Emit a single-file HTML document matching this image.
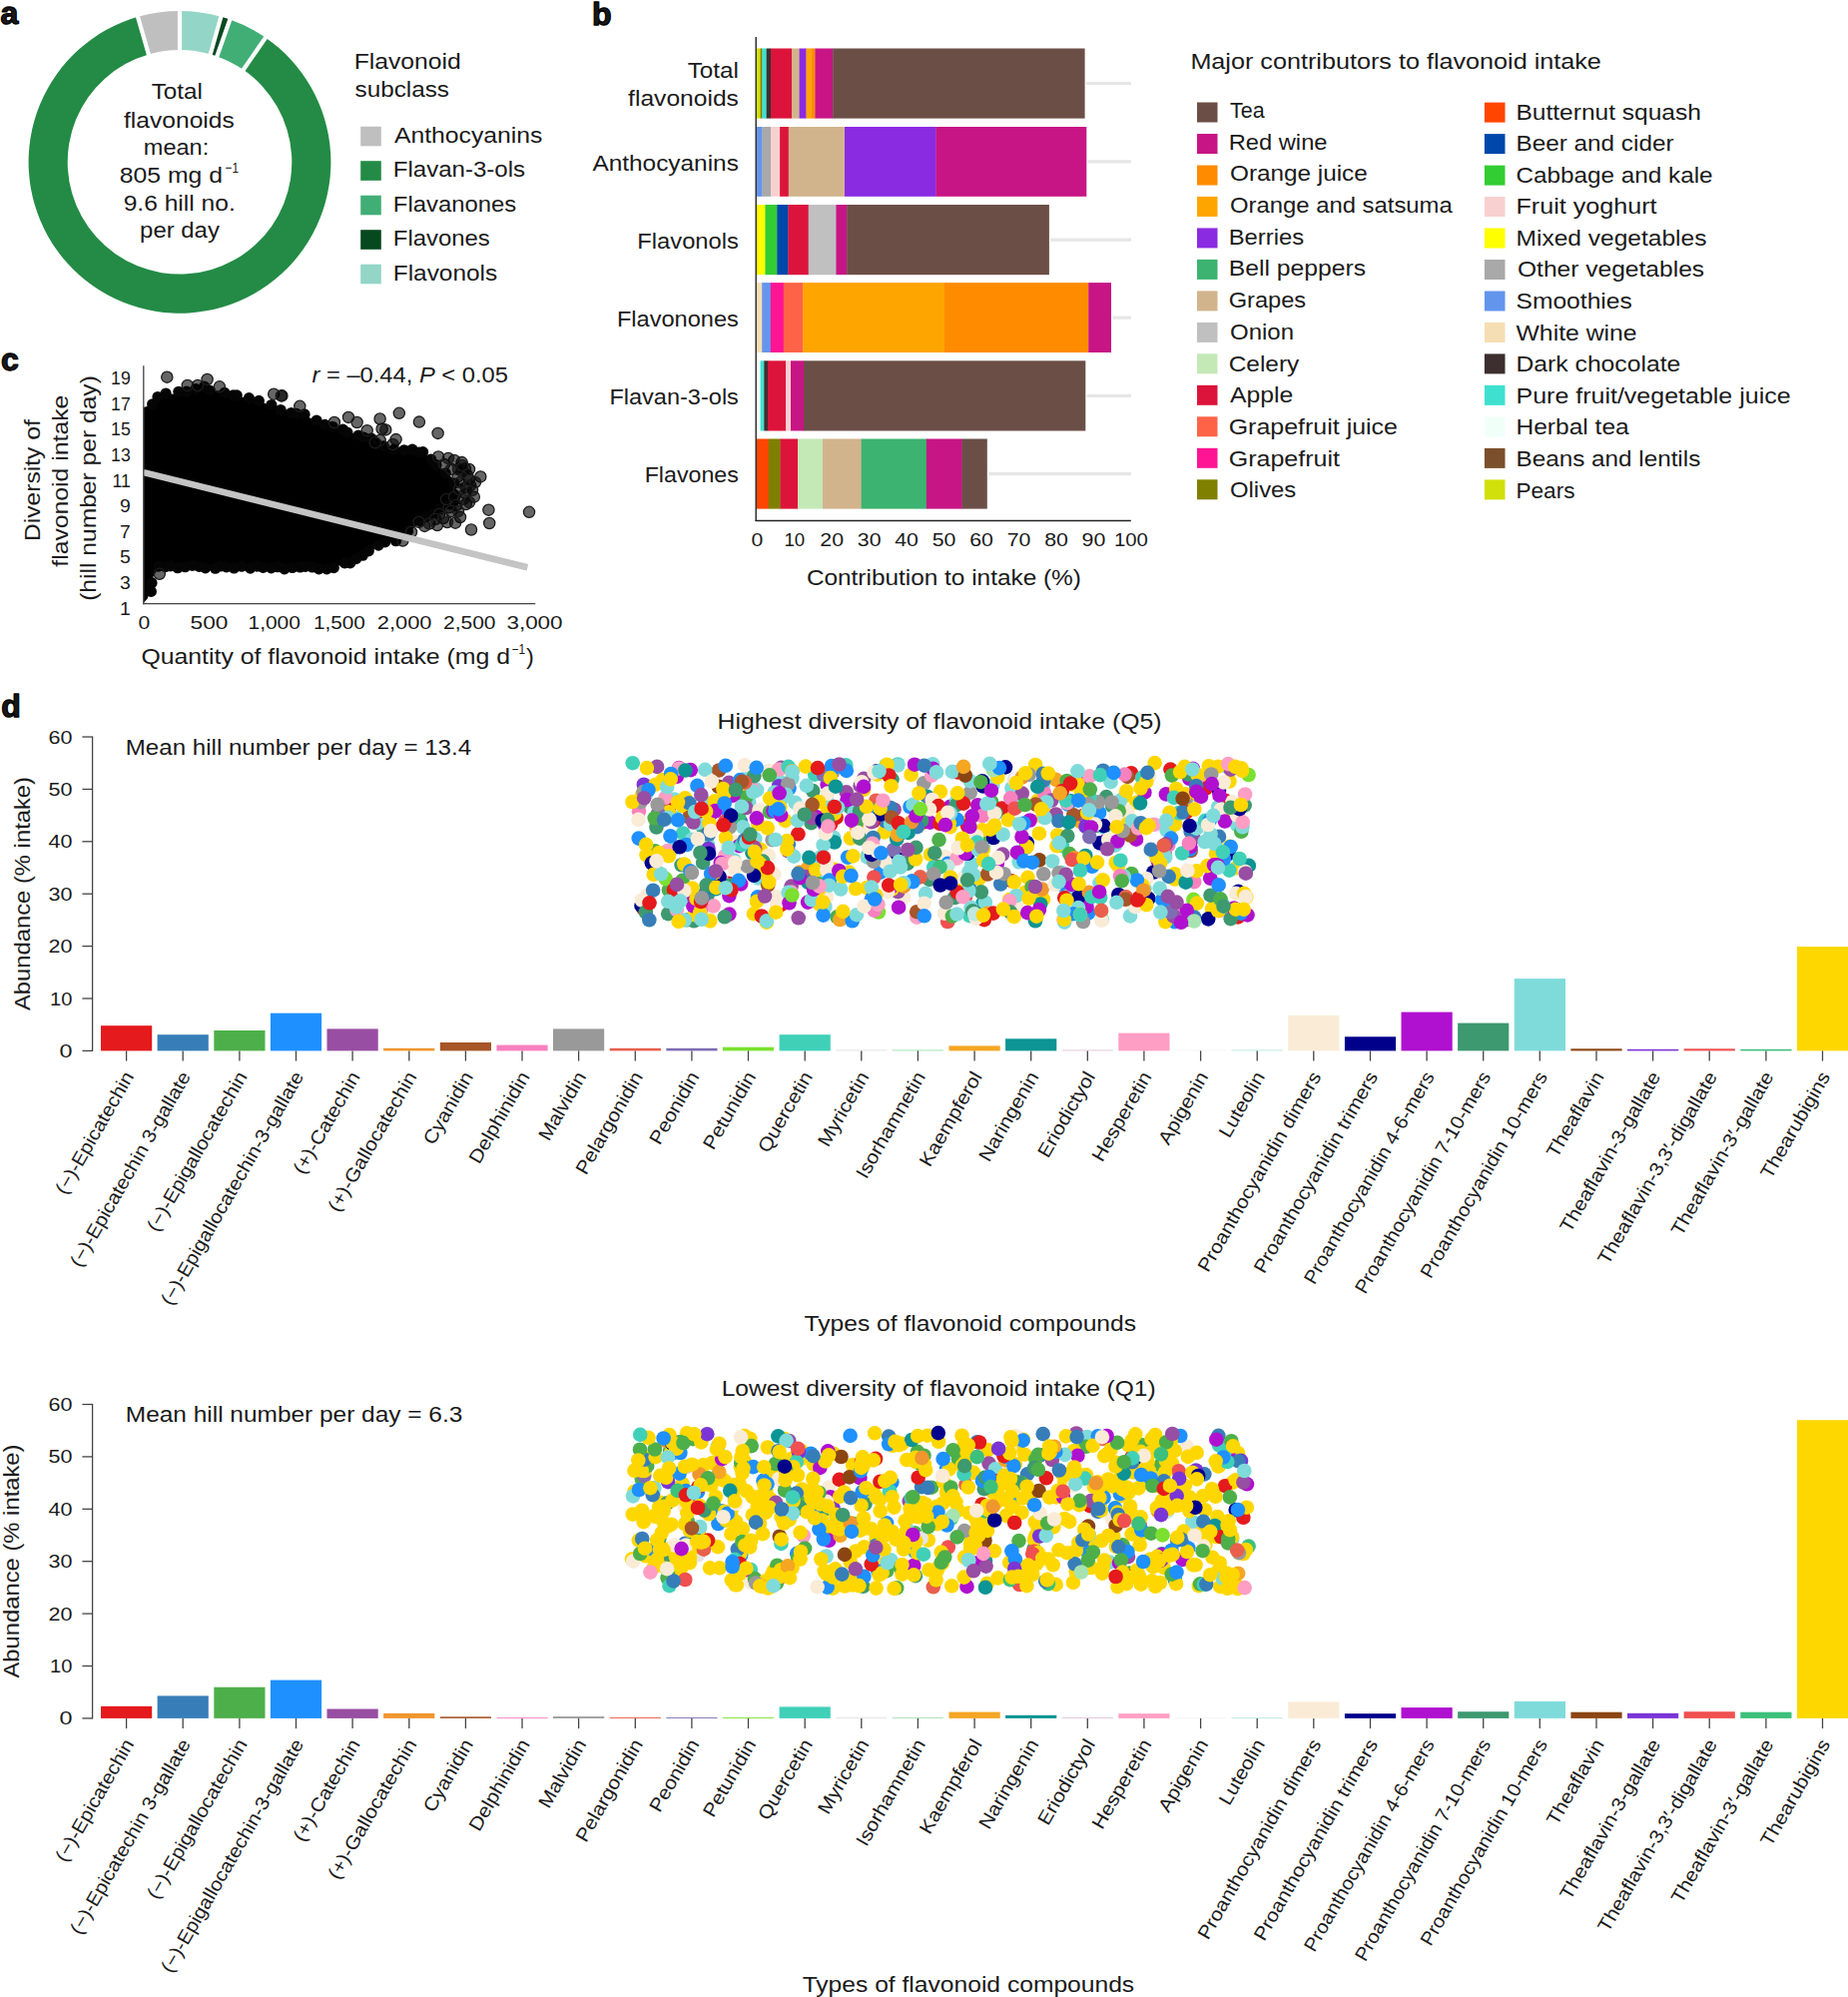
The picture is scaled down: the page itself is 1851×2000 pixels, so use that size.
<!DOCTYPE html>
<html lang="en"><head><meta charset="utf-8"><title>Flavonoid intake figure</title>
<style>
html,body{margin:0;padding:0;background:#fff}
body{width:1851px;height:2000px;overflow:hidden}
svg{display:block}
text{font-family:"Liberation Sans",Arial,Helvetica,sans-serif;fill:#1a1a1a}
.dot{stroke:none}
</style></head><body>
<svg width="1851" height="2000" viewBox="0 0 1851 2000">
<rect x="0" y="0" width="1851" height="2000" fill="#ffffff"/>
<g id="panel-a">
<text x="0.6" y="24.2" font-size="32" font-weight="bold" fill="#000" stroke="#000" stroke-width="1.3" stroke-linejoin="round">a</text>
<path d="M265.97 37.68A151.4 151.4 0 1 1 138.01 16.84L148.86 54.40A112.3 112.3 0 1 0 243.77 69.86Z" fill="#238b45"/>
<path d="M138.01 16.84A151.4 151.4 0 0 1 180.00 10.90L180.00 50.00A112.3 112.3 0 0 0 148.86 54.40Z" fill="#bfbfbf"/>
<path d="M180.00 10.90A151.4 151.4 0 0 1 221.35 16.66L210.67 54.27A112.3 112.3 0 0 0 180.00 50.00Z" fill="#93d5c6"/>
<path d="M221.35 16.66A151.4 151.4 0 0 1 230.29 19.50L217.30 56.38A112.3 112.3 0 0 0 210.67 54.27Z" fill="#07491f"/>
<path d="M230.29 19.50A151.4 151.4 0 0 1 265.97 37.68L243.77 69.86A112.3 112.3 0 0 0 217.30 56.38Z" fill="#41ae76"/>
<line x1="149.7" y1="57.3" x2="137.2" y2="14.0" stroke="#fff" stroke-width="4.2"/>
<line x1="180.0" y1="53.0" x2="180.0" y2="7.9" stroke="#fff" stroke-width="4.2"/>
<line x1="209.9" y1="57.2" x2="222.2" y2="13.8" stroke="#fff" stroke-width="4.2"/>
<line x1="216.3" y1="59.2" x2="231.3" y2="16.7" stroke="#fff" stroke-width="4.2"/>
<line x1="242.1" y1="72.3" x2="267.7" y2="35.2" stroke="#fff" stroke-width="4.2"/>
<text x="177.3" y="99.4" font-size="22.2" text-anchor="middle" textLength="51.2" lengthAdjust="spacingAndGlyphs">Total</text>
<text x="179.4" y="127.7" font-size="22.2" text-anchor="middle" textLength="110.8" lengthAdjust="spacingAndGlyphs">flavonoids</text>
<text x="176.5" y="154.8" font-size="22.2" text-anchor="middle" textLength="65.4" lengthAdjust="spacingAndGlyphs">mean:</text>
<text x="119.8" y="183.2" font-size="22.2" textLength="103.2" lengthAdjust="spacingAndGlyphs">805 mg d</text>
<text x="225.6" y="172.9" font-size="15" textLength="13.4" lengthAdjust="spacingAndGlyphs">−1</text>
<text x="179.7" y="211.1" font-size="22.2" text-anchor="middle" textLength="112.1" lengthAdjust="spacingAndGlyphs">9.6 hill no.</text>
<text x="180.0" y="237.8" font-size="22.2" text-anchor="middle" textLength="79.8" lengthAdjust="spacingAndGlyphs">per day</text>
<text x="354.7" y="68.8" font-size="22.2" textLength="107.0" lengthAdjust="spacingAndGlyphs">Flavonoid</text>
<text x="355.6" y="97.0" font-size="22.2" textLength="94.4" lengthAdjust="spacingAndGlyphs">subclass</text>
<rect x="361.2" y="126.7" width="20.6" height="19.6" fill="#bfbfbf"/>
<text x="395.0" y="142.9" font-size="22.2" textLength="148.3" lengthAdjust="spacingAndGlyphs">Anthocyanins</text>
<rect x="361.2" y="161.2" width="20.6" height="19.6" fill="#238b45"/>
<text x="393.8" y="177.4" font-size="22.2" textLength="132.3" lengthAdjust="spacingAndGlyphs">Flavan-3-ols</text>
<rect x="361.2" y="195.7" width="20.6" height="19.6" fill="#41ae76"/>
<text x="393.8" y="211.9" font-size="22.2" textLength="123.4" lengthAdjust="spacingAndGlyphs">Flavanones</text>
<rect x="361.2" y="230.2" width="20.6" height="19.6" fill="#07491f"/>
<text x="393.8" y="246.4" font-size="22.2" textLength="97.0" lengthAdjust="spacingAndGlyphs">Flavones</text>
<rect x="361.2" y="264.7" width="20.6" height="19.6" fill="#93d5c6"/>
<text x="393.8" y="280.9" font-size="22.2" textLength="104.4" lengthAdjust="spacingAndGlyphs">Flavonols</text>
</g>
<g id="panel-b">
<text x="593.0" y="24.8" font-size="32" font-weight="bold" fill="#000" stroke="#000" stroke-width="1.3" stroke-linejoin="round">b</text>
<line x1="1087.8" y1="83.5" x2="1132.9" y2="83.5" stroke="#e6e6e6" stroke-width="3.2"/>
<rect x="757.7" y="48.5" width="4.2" height="70.1" fill="#d1e00a"/>
<rect x="761.6" y="48.5" width="2.1" height="70.1" fill="#808000"/>
<rect x="763.4" y="48.5" width="4.6" height="70.1" fill="#40e0d0"/>
<rect x="767.7" y="48.5" width="4.6" height="70.1" fill="#3d2f2f"/>
<rect x="772.0" y="48.5" width="21.3" height="70.1" fill="#dc143c"/>
<rect x="793.0" y="48.5" width="7.9" height="70.1" fill="#d2b48c"/>
<rect x="800.6" y="48.5" width="7.2" height="70.1" fill="#8a2be2"/>
<rect x="807.5" y="48.5" width="5.3" height="70.1" fill="#ffa500"/>
<rect x="812.5" y="48.5" width="4.2" height="70.1" fill="#ff8c00"/>
<rect x="816.4" y="48.5" width="18.1" height="70.1" fill="#c71585"/>
<rect x="834.2" y="48.5" width="252.4" height="70.1" fill="#6b4f47"/>
<line x1="1089.5" y1="161.9" x2="1132.9" y2="161.9" stroke="#e6e6e6" stroke-width="3.2"/>
<rect x="757.7" y="127.0" width="6.0" height="69.8" fill="#6495ed"/>
<rect x="763.4" y="127.0" width="8.9" height="69.8" fill="#a9a9a9"/>
<rect x="772.0" y="127.0" width="9.4" height="69.8" fill="#f9d0d0"/>
<rect x="781.1" y="127.0" width="9.0" height="69.8" fill="#dc143c"/>
<rect x="789.8" y="127.0" width="56.5" height="69.8" fill="#d2b48c"/>
<rect x="846.0" y="127.0" width="91.7" height="69.8" fill="#8a2be2"/>
<rect x="937.4" y="127.0" width="150.9" height="69.8" fill="#c71585"/>
<line x1="1052.1" y1="240.1" x2="1132.9" y2="240.1" stroke="#e6e6e6" stroke-width="3.2"/>
<rect x="757.7" y="205.0" width="9.0" height="70.2" fill="#ffff00"/>
<rect x="766.4" y="205.0" width="12.2" height="70.2" fill="#32cd32"/>
<rect x="778.3" y="205.0" width="11.4" height="70.2" fill="#0047ab"/>
<rect x="789.4" y="205.0" width="20.6" height="70.2" fill="#dc143c"/>
<rect x="809.7" y="205.0" width="28.0" height="70.2" fill="#c0c0c0"/>
<rect x="837.4" y="205.0" width="11.1" height="70.2" fill="#c71585"/>
<rect x="848.2" y="205.0" width="202.7" height="70.2" fill="#6b4f47"/>
<line x1="1114.2" y1="318.1" x2="1132.9" y2="318.1" stroke="#e6e6e6" stroke-width="3.2"/>
<rect x="757.7" y="283.1" width="5.8" height="69.9" fill="#f5deb3"/>
<rect x="763.2" y="283.1" width="8.9" height="69.9" fill="#6495ed"/>
<rect x="771.8" y="283.1" width="13.3" height="69.9" fill="#ff1493"/>
<rect x="784.8" y="283.1" width="19.8" height="69.9" fill="#ff6347"/>
<rect x="804.3" y="283.1" width="142.0" height="69.9" fill="#ffa500"/>
<rect x="946.0" y="283.1" width="144.5" height="69.9" fill="#ff8c00"/>
<rect x="1090.2" y="283.1" width="22.8" height="69.9" fill="#c71585"/>
<line x1="1088.5" y1="396.4" x2="1132.9" y2="396.4" stroke="#e6e6e6" stroke-width="3.2"/>
<rect x="757.7" y="361.3" width="4.2" height="70.2" fill="#f1fff9"/>
<rect x="761.6" y="361.3" width="4.0" height="70.2" fill="#40e0d0"/>
<rect x="765.3" y="361.3" width="4.0" height="70.2" fill="#3d2f2f"/>
<rect x="769.0" y="361.3" width="18.3" height="70.2" fill="#dc143c"/>
<rect x="787.0" y="361.3" width="5.3" height="70.2" fill="#f9d0d0"/>
<rect x="792.0" y="361.3" width="13.3" height="70.2" fill="#c71585"/>
<rect x="805.0" y="361.3" width="282.3" height="70.2" fill="#6b4f47"/>
<line x1="990.0" y1="474.6" x2="1132.9" y2="474.6" stroke="#e6e6e6" stroke-width="3.2"/>
<rect x="757.7" y="439.5" width="12.3" height="70.1" fill="#ff4500"/>
<rect x="769.7" y="439.5" width="12.2" height="70.1" fill="#808000"/>
<rect x="781.6" y="439.5" width="17.8" height="70.1" fill="#dc143c"/>
<rect x="799.1" y="439.5" width="25.2" height="70.1" fill="#c5e8b7"/>
<rect x="824.0" y="439.5" width="39.0" height="70.1" fill="#d2b48c"/>
<rect x="862.7" y="439.5" width="65.5" height="70.1" fill="#3cb371"/>
<rect x="927.9" y="439.5" width="36.0" height="70.1" fill="#c71585"/>
<rect x="963.6" y="439.5" width="25.2" height="70.1" fill="#6b4f47"/>
<line x1="757.2" y1="37.0" x2="757.2" y2="522.0" stroke="#222" stroke-width="1.4"/>
<line x1="756.5" y1="521.5" x2="1132.8" y2="521.5" stroke="#222" stroke-width="1.4"/>
<text x="758.3" y="547.3" font-size="19" text-anchor="middle" textLength="11.8" lengthAdjust="spacingAndGlyphs">0</text>
<text x="795.8" y="547.3" font-size="19" text-anchor="middle" textLength="20.7" lengthAdjust="spacingAndGlyphs">10</text>
<text x="833.2" y="547.3" font-size="19" text-anchor="middle" textLength="23.7" lengthAdjust="spacingAndGlyphs">20</text>
<text x="870.7" y="547.3" font-size="19" text-anchor="middle" textLength="23.7" lengthAdjust="spacingAndGlyphs">30</text>
<text x="908.1" y="547.3" font-size="19" text-anchor="middle" textLength="23.7" lengthAdjust="spacingAndGlyphs">40</text>
<text x="945.6" y="547.3" font-size="19" text-anchor="middle" textLength="23.7" lengthAdjust="spacingAndGlyphs">50</text>
<text x="983.1" y="547.3" font-size="19" text-anchor="middle" textLength="23.7" lengthAdjust="spacingAndGlyphs">60</text>
<text x="1020.5" y="547.3" font-size="19" text-anchor="middle" textLength="23.7" lengthAdjust="spacingAndGlyphs">70</text>
<text x="1058.0" y="547.3" font-size="19" text-anchor="middle" textLength="23.7" lengthAdjust="spacingAndGlyphs">80</text>
<text x="1095.4" y="547.3" font-size="19" text-anchor="middle" textLength="23.7" lengthAdjust="spacingAndGlyphs">90</text>
<text x="1132.9" y="547.3" font-size="19" text-anchor="middle" textLength="33.9" lengthAdjust="spacingAndGlyphs">100</text>
<text x="945.4" y="585.5" font-size="22.2" text-anchor="middle" textLength="275.0" lengthAdjust="spacingAndGlyphs">Contribution to intake (%)</text>
<text x="739.9" y="78.2" font-size="22.2" text-anchor="end" textLength="51.2" lengthAdjust="spacingAndGlyphs">Total</text>
<text x="739.9" y="106.4" font-size="22.2" text-anchor="end" textLength="110.8" lengthAdjust="spacingAndGlyphs">flavonoids</text>
<text x="739.9" y="171.3" font-size="22.2" text-anchor="end" textLength="146.5" lengthAdjust="spacingAndGlyphs">Anthocyanins</text>
<text x="739.9" y="248.6" font-size="22.2" text-anchor="end" textLength="101.6" lengthAdjust="spacingAndGlyphs">Flavonols</text>
<text x="739.9" y="327.1" font-size="22.2" text-anchor="end" textLength="122.0" lengthAdjust="spacingAndGlyphs">Flavonones</text>
<text x="739.9" y="405.2" font-size="22.2" text-anchor="end" textLength="129.5" lengthAdjust="spacingAndGlyphs">Flavan-3-ols</text>
<text x="739.9" y="483.4" font-size="22.2" text-anchor="end" textLength="94.2" lengthAdjust="spacingAndGlyphs">Flavones</text>
<text x="1192.4" y="68.5" font-size="22.2" textLength="411.5" lengthAdjust="spacingAndGlyphs">Major contributors to flavonoid intake</text>
<rect x="1199.0" y="102.5" width="20.5" height="20.0" fill="#6b4f47"/>
<text x="1232.0" y="117.8" font-size="22.2" textLength="34.6" lengthAdjust="spacingAndGlyphs">Tea</text>
<rect x="1199.0" y="134.0" width="20.5" height="20.0" fill="#c71585"/>
<text x="1230.7" y="149.5" font-size="22.2" textLength="98.8" lengthAdjust="spacingAndGlyphs">Red wine</text>
<rect x="1199.0" y="165.5" width="20.5" height="20.0" fill="#ff8c00"/>
<text x="1232.0" y="181.2" font-size="22.2" textLength="137.8" lengthAdjust="spacingAndGlyphs">Orange juice</text>
<rect x="1199.0" y="196.9" width="20.5" height="20.0" fill="#ffa500"/>
<text x="1232.0" y="213.0" font-size="22.2" textLength="222.7" lengthAdjust="spacingAndGlyphs">Orange and satsuma</text>
<rect x="1199.0" y="228.4" width="20.5" height="20.0" fill="#8a2be2"/>
<text x="1230.7" y="244.7" font-size="22.2" textLength="75.4" lengthAdjust="spacingAndGlyphs">Berries</text>
<rect x="1199.0" y="259.9" width="20.5" height="20.0" fill="#3cb371"/>
<text x="1230.7" y="276.4" font-size="22.2" textLength="137.3" lengthAdjust="spacingAndGlyphs">Bell peppers</text>
<rect x="1199.0" y="291.4" width="20.5" height="20.0" fill="#d2b48c"/>
<text x="1230.7" y="308.1" font-size="22.2" textLength="77.5" lengthAdjust="spacingAndGlyphs">Grapes</text>
<rect x="1199.0" y="322.9" width="20.5" height="20.0" fill="#c0c0c0"/>
<text x="1232.0" y="339.8" font-size="22.2" textLength="64.0" lengthAdjust="spacingAndGlyphs">Onion</text>
<rect x="1199.0" y="354.3" width="20.5" height="20.0" fill="#c5e8b7"/>
<text x="1230.7" y="371.6" font-size="22.2" textLength="70.6" lengthAdjust="spacingAndGlyphs">Celery</text>
<rect x="1199.0" y="385.8" width="20.5" height="20.0" fill="#dc143c"/>
<text x="1232.0" y="403.3" font-size="22.2" textLength="63.2" lengthAdjust="spacingAndGlyphs">Apple</text>
<rect x="1199.0" y="417.3" width="20.5" height="20.0" fill="#ff6347"/>
<text x="1230.7" y="435.0" font-size="22.2" textLength="169.3" lengthAdjust="spacingAndGlyphs">Grapefruit juice</text>
<rect x="1199.0" y="448.8" width="20.5" height="20.0" fill="#ff1493"/>
<text x="1230.7" y="466.7" font-size="22.2" textLength="111.3" lengthAdjust="spacingAndGlyphs">Grapefruit</text>
<rect x="1199.0" y="480.3" width="20.5" height="20.0" fill="#808000"/>
<text x="1232.0" y="498.4" font-size="22.2" textLength="66.3" lengthAdjust="spacingAndGlyphs">Olives</text>
<rect x="1486.9" y="102.6" width="20.6" height="20.0" fill="#ff4500"/>
<text x="1518.5" y="119.5" font-size="22.2" textLength="185.4" lengthAdjust="spacingAndGlyphs">Butternut squash</text>
<rect x="1486.9" y="134.1" width="20.6" height="20.0" fill="#0047ab"/>
<text x="1518.5" y="151.1" font-size="22.2" textLength="158.0" lengthAdjust="spacingAndGlyphs">Beer and cider</text>
<rect x="1486.9" y="165.6" width="20.6" height="20.0" fill="#32cd32"/>
<text x="1518.5" y="182.7" font-size="22.2" textLength="197.1" lengthAdjust="spacingAndGlyphs">Cabbage and kale</text>
<rect x="1486.9" y="197.0" width="20.6" height="20.0" fill="#f9d0d0"/>
<text x="1518.5" y="214.3" font-size="22.2" textLength="141.1" lengthAdjust="spacingAndGlyphs">Fruit yoghurt</text>
<rect x="1486.9" y="228.5" width="20.6" height="20.0" fill="#ffff00"/>
<text x="1518.5" y="245.9" font-size="22.2" textLength="191.0" lengthAdjust="spacingAndGlyphs">Mixed vegetables</text>
<rect x="1486.9" y="260.0" width="20.6" height="20.0" fill="#a9a9a9"/>
<text x="1520.0" y="277.4" font-size="22.2" textLength="187.1" lengthAdjust="spacingAndGlyphs">Other vegetables</text>
<rect x="1486.9" y="291.5" width="20.6" height="20.0" fill="#6495ed"/>
<text x="1518.5" y="309.0" font-size="22.2" textLength="116.3" lengthAdjust="spacingAndGlyphs">Smoothies</text>
<rect x="1486.9" y="323.0" width="20.6" height="20.0" fill="#f5deb3"/>
<text x="1518.5" y="340.6" font-size="22.2" textLength="121.1" lengthAdjust="spacingAndGlyphs">White wine</text>
<rect x="1486.9" y="354.4" width="20.6" height="20.0" fill="#3d2f2f"/>
<text x="1518.5" y="372.2" font-size="22.2" textLength="164.8" lengthAdjust="spacingAndGlyphs">Dark chocolate</text>
<rect x="1486.9" y="385.9" width="20.6" height="20.0" fill="#40e0d0"/>
<text x="1518.5" y="403.8" font-size="22.2" textLength="275.1" lengthAdjust="spacingAndGlyphs">Pure fruit/vegetable juice</text>
<rect x="1486.9" y="417.4" width="20.6" height="20.0" fill="#f1fff9"/>
<text x="1518.5" y="435.4" font-size="22.2" textLength="113.2" lengthAdjust="spacingAndGlyphs">Herbal tea</text>
<rect x="1486.9" y="448.9" width="20.6" height="20.0" fill="#7b4f2c"/>
<text x="1518.5" y="467.0" font-size="22.2" textLength="184.8" lengthAdjust="spacingAndGlyphs">Beans and lentils</text>
<rect x="1486.9" y="480.4" width="20.6" height="20.0" fill="#d1e00a"/>
<text x="1518.5" y="498.6" font-size="22.2" textLength="59.0" lengthAdjust="spacingAndGlyphs">Pears</text>
</g>
<g id="panel-c">
<text x="0.9" y="371.1" font-size="32" font-weight="bold" fill="#000" stroke="#000" stroke-width="1.3" stroke-linejoin="round">c</text>
<polygon points="143.7,604.0 143.7,408.0 152.4,405.5 157.7,399.0 164.7,395.6 175.2,394.2 185.7,391.2 192.7,388.6 203.3,387.7 210.3,391.6 220.8,391.2 231.3,395.2 245.3,398.2 255.8,400.8 266.3,404.3 276.9,408.5 289.0,411.0 304.4,416.0 330.0,426.5 354.0,434.0 372.0,440.0 391.0,450.5 410.0,449.5 424.0,453.0 444.0,471.0 453.0,478.5 457.0,491.2 452.5,505.0 437.0,514.0 421.0,522.5 412.5,530.5 396.0,540.0 380.0,546.5 367.0,555.5 347.0,564.5 329.5,569.0 168.0,567.5 160.0,566.5 153.5,577.6 151.5,589.0 147.8,599.3 143.7,604.0" fill="#000"/>
<g fill="#050505" stroke="none">
<circle cx="152.7" cy="404.8" r="5.6"/>
<circle cx="158.0" cy="397.5" r="5.6"/>
<circle cx="166.1" cy="394.0" r="5.6"/>
<circle cx="178.9" cy="392.3" r="5.6"/>
<circle cx="187.0" cy="392.2" r="5.6"/>
<circle cx="196.1" cy="389.7" r="5.6"/>
<circle cx="204.6" cy="387.2" r="5.6"/>
<circle cx="210.1" cy="391.0" r="5.6"/>
<circle cx="225.0" cy="393.4" r="5.6"/>
<circle cx="233.6" cy="395.9" r="5.6"/>
<circle cx="237.2" cy="395.9" r="5.6"/>
<circle cx="249.4" cy="398.7" r="5.6"/>
<circle cx="259.3" cy="401.4" r="5.6"/>
<circle cx="271.9" cy="405.5" r="5.6"/>
<circle cx="281.1" cy="410.5" r="5.6"/>
<circle cx="291.7" cy="413.5" r="5.6"/>
<circle cx="297.0" cy="414.4" r="5.6"/>
<circle cx="305.1" cy="414.9" r="5.6"/>
<circle cx="317.1" cy="421.1" r="5.6"/>
<circle cx="325.4" cy="425.4" r="5.6"/>
<circle cx="333.1" cy="427.3" r="5.6"/>
<circle cx="343.4" cy="430.2" r="5.6"/>
<circle cx="347.9" cy="433.1" r="5.6"/>
<circle cx="359.0" cy="436.1" r="5.6"/>
<circle cx="364.2" cy="438.0" r="5.6"/>
<circle cx="372.0" cy="439.1" r="5.6"/>
<circle cx="377.5" cy="444.6" r="5.6"/>
<circle cx="384.4" cy="446.9" r="5.6"/>
<circle cx="394.7" cy="450.1" r="5.6"/>
<circle cx="404.8" cy="450.8" r="5.6"/>
<circle cx="413.0" cy="450.2" r="5.6"/>
<circle cx="419.7" cy="453.0" r="5.6"/>
<circle cx="423.6" cy="452.7" r="5.6"/>
<circle cx="431.6" cy="460.1" r="5.6"/>
<circle cx="436.9" cy="465.7" r="5.6"/>
<circle cx="446.2" cy="474.0" r="5.6"/>
<circle cx="454.7" cy="484.1" r="5.6"/>
<circle cx="454.7" cy="495.2" r="5.6"/>
<circle cx="454.8" cy="502.2" r="5.6"/>
<circle cx="450.4" cy="504.9" r="5.6"/>
<circle cx="440.5" cy="509.9" r="5.6"/>
<circle cx="435.0" cy="514.1" r="5.6"/>
<circle cx="427.2" cy="517.3" r="5.6"/>
<circle cx="420.1" cy="521.6" r="5.6"/>
<circle cx="408.5" cy="531.9" r="5.6"/>
<circle cx="402.5" cy="535.6" r="5.6"/>
<circle cx="396.5" cy="541.7" r="5.6"/>
<circle cx="385.7" cy="542.9" r="5.6"/>
<circle cx="379.1" cy="546.1" r="5.6"/>
<circle cx="369.3" cy="551.8" r="5.6"/>
<circle cx="363.3" cy="556.2" r="5.6"/>
<circle cx="356.7" cy="559.6" r="5.6"/>
<circle cx="350.8" cy="563.8" r="5.6"/>
<circle cx="345.2" cy="563.9" r="5.6"/>
<circle cx="334.3" cy="568.6" r="5.6"/>
<circle cx="327.3" cy="569.9" r="5.6"/>
<circle cx="319.4" cy="569.8" r="5.6"/>
<circle cx="312.7" cy="568.0" r="5.6"/>
<circle cx="305.8" cy="567.4" r="5.6"/>
<circle cx="300.6" cy="568.0" r="5.6"/>
<circle cx="292.8" cy="568.5" r="5.6"/>
<circle cx="284.9" cy="569.9" r="5.6"/>
<circle cx="278.0" cy="567.7" r="5.6"/>
<circle cx="271.6" cy="568.8" r="5.6"/>
<circle cx="263.5" cy="568.3" r="5.6"/>
<circle cx="257.4" cy="567.1" r="5.6"/>
<circle cx="250.7" cy="569.1" r="5.6"/>
<circle cx="242.0" cy="567.2" r="5.6"/>
<circle cx="234.4" cy="569.0" r="5.6"/>
<circle cx="226.8" cy="567.8" r="5.6"/>
<circle cx="220.9" cy="567.0" r="5.6"/>
<circle cx="215.6" cy="569.2" r="5.6"/>
<circle cx="205.7" cy="568.8" r="5.6"/>
<circle cx="199.5" cy="567.3" r="5.6"/>
<circle cx="192.7" cy="566.3" r="5.6"/>
<circle cx="185.4" cy="567.7" r="5.6"/>
<circle cx="177.9" cy="568.7" r="5.6"/>
<circle cx="170.7" cy="566.8" r="5.6"/>
<circle cx="165.8" cy="567.6" r="5.6"/>
<circle cx="158.7" cy="567.1" r="5.6"/>
<circle cx="152.0" cy="583.7" r="5.6"/>
<circle cx="151.4" cy="592.4" r="5.6"/>
</g>
<g fill="#000" fill-opacity="0.6" stroke="#1c1c1c" stroke-width="1.3">
<circle cx="167.3" cy="377.7" r="5.6"/>
<circle cx="187.8" cy="385.9" r="5.6"/>
<circle cx="207.6" cy="380.0" r="5.6"/>
<circle cx="219.9" cy="387.3" r="5.6"/>
<circle cx="274.2" cy="394.7" r="5.6"/>
<circle cx="281.8" cy="396.4" r="5.6"/>
<circle cx="159.8" cy="574.8" r="5.6"/>
<circle cx="198.0" cy="386.0" r="5.6"/>
<circle cx="282.4" cy="396.3" r="5.6"/>
<circle cx="300.3" cy="406.8" r="5.6"/>
<circle cx="334.9" cy="423.0" r="5.6"/>
<circle cx="349.0" cy="417.9" r="5.6"/>
<circle cx="357.6" cy="423.0" r="5.6"/>
<circle cx="380.6" cy="419.5" r="5.6"/>
<circle cx="399.8" cy="413.8" r="5.6"/>
<circle cx="419.9" cy="422.6" r="5.6"/>
<circle cx="438.6" cy="433.9" r="5.6"/>
<circle cx="382.6" cy="429.5" r="5.6"/>
<circle cx="386.3" cy="430.4" r="5.6"/>
<circle cx="367.7" cy="431.2" r="5.6"/>
<circle cx="380.6" cy="440.9" r="5.6"/>
<circle cx="396.6" cy="440.1" r="5.6"/>
<circle cx="393.6" cy="445.0" r="5.6"/>
<circle cx="375.8" cy="443.3" r="5.6"/>
<circle cx="439.1" cy="457.5" r="5.6"/>
<circle cx="462.6" cy="463.1" r="5.6"/>
<circle cx="465.9" cy="469.3" r="5.6"/>
<circle cx="481.3" cy="477.4" r="5.6"/>
<circle cx="458.6" cy="477.4" r="5.6"/>
<circle cx="469.9" cy="479.9" r="5.6"/>
<circle cx="466.7" cy="488.0" r="5.6"/>
<circle cx="474.8" cy="497.7" r="5.6"/>
<circle cx="466.7" cy="505.0" r="5.6"/>
<circle cx="489.4" cy="510.7" r="5.6"/>
<circle cx="530.0" cy="512.8" r="5.6"/>
<circle cx="490.2" cy="524.0" r="5.6"/>
<circle cx="472.0" cy="530.5" r="5.6"/>
<circle cx="461.0" cy="518.0" r="5.6"/>
<circle cx="456.1" cy="523.7" r="5.6"/>
<circle cx="449.6" cy="508.3" r="5.6"/>
<circle cx="425.3" cy="526.9" r="5.6"/>
<circle cx="419.6" cy="522.9" r="5.6"/>
<circle cx="403.4" cy="541.6" r="5.6"/>
<circle cx="430.0" cy="524.5" r="5.6"/>
<circle cx="445.0" cy="465.0" r="5.6"/>
<circle cx="452.0" cy="470.0" r="5.6"/>
<circle cx="447.0" cy="500.0" r="5.6"/>
<circle cx="440.0" cy="515.0" r="5.6"/>
<circle cx="455.0" cy="498.0" r="5.6"/>
<circle cx="460.0" cy="490.0" r="5.6"/>
<circle cx="436.0" cy="520.0" r="5.6"/>
<circle cx="412.0" cy="533.0" r="5.6"/>
<circle cx="463.0" cy="472.0" r="5.6"/>
<circle cx="468.0" cy="476.0" r="5.6"/>
<circle cx="461.0" cy="483.0" r="5.6"/>
<circle cx="471.0" cy="486.0" r="5.6"/>
<circle cx="466.0" cy="494.0" r="5.6"/>
<circle cx="473.0" cy="491.0" r="5.6"/>
<circle cx="459.0" cy="470.0" r="5.6"/>
<circle cx="470.0" cy="470.0" r="5.6"/>
<circle cx="476.0" cy="483.0" r="5.6"/>
<circle cx="464.0" cy="500.0" r="5.6"/>
<circle cx="470.0" cy="503.0" r="5.6"/>
<circle cx="457.0" cy="506.0" r="5.6"/>
<circle cx="452.0" cy="512.0" r="5.6"/>
<circle cx="444.0" cy="519.0" r="5.6"/>
<circle cx="448.0" cy="523.0" r="5.6"/>
<circle cx="438.0" cy="526.0" r="5.6"/>
<circle cx="459.0" cy="512.0" r="5.6"/>
<circle cx="463.0" cy="466.0" r="5.6"/>
<circle cx="455.0" cy="461.0" r="5.6"/>
<circle cx="449.0" cy="459.0" r="5.6"/>
</g>
<line x1="143.8" y1="473.1" x2="528.4" y2="568.3" stroke="#c4c4c4" stroke-width="6.6"/>
<line x1="143.8" y1="366.3" x2="143.8" y2="605.2" stroke="#444" stroke-width="1.3"/>
<line x1="143.2" y1="604.6" x2="536.2" y2="604.6" stroke="#444" stroke-width="1.3"/>
<text x="130.8" y="385.2" font-size="19" text-anchor="end" textLength="19.7" lengthAdjust="spacingAndGlyphs">19</text>
<text x="130.8" y="410.8" font-size="19" text-anchor="end" textLength="19.7" lengthAdjust="spacingAndGlyphs">17</text>
<text x="130.8" y="436.4" font-size="19" text-anchor="end" textLength="19.7" lengthAdjust="spacingAndGlyphs">15</text>
<text x="130.8" y="462.0" font-size="19" text-anchor="end" textLength="19.7" lengthAdjust="spacingAndGlyphs">13</text>
<text x="130.8" y="487.6" font-size="19" text-anchor="end" textLength="18.3" lengthAdjust="spacingAndGlyphs">11</text>
<text x="130.8" y="513.2" font-size="19" text-anchor="end" textLength="10.8" lengthAdjust="spacingAndGlyphs">9</text>
<text x="130.8" y="538.8" font-size="19" text-anchor="end" textLength="10.8" lengthAdjust="spacingAndGlyphs">7</text>
<text x="130.8" y="564.4" font-size="19" text-anchor="end" textLength="10.8" lengthAdjust="spacingAndGlyphs">5</text>
<text x="130.8" y="590.0" font-size="19" text-anchor="end" textLength="10.8" lengthAdjust="spacingAndGlyphs">3</text>
<text x="130.8" y="615.6" font-size="19" text-anchor="end" textLength="10.8" lengthAdjust="spacingAndGlyphs">1</text>
<text x="144.3" y="630.4" font-size="19" text-anchor="middle" textLength="11.8" lengthAdjust="spacingAndGlyphs">0</text>
<text x="209.5" y="630.4" font-size="19" text-anchor="middle" textLength="37.8" lengthAdjust="spacingAndGlyphs">500</text>
<text x="274.7" y="630.4" font-size="19" text-anchor="middle" textLength="52.4" lengthAdjust="spacingAndGlyphs">1,000</text>
<text x="339.9" y="630.4" font-size="19" text-anchor="middle" textLength="51.9" lengthAdjust="spacingAndGlyphs">1,500</text>
<text x="405.1" y="630.4" font-size="19" text-anchor="middle" textLength="54.6" lengthAdjust="spacingAndGlyphs">2,000</text>
<text x="470.3" y="630.4" font-size="19" text-anchor="middle" textLength="52.4" lengthAdjust="spacingAndGlyphs">2,500</text>
<text x="535.5" y="630.4" font-size="19" text-anchor="middle" textLength="56.1" lengthAdjust="spacingAndGlyphs">3,000</text>
<text x="141.4" y="664.8" font-size="22.2" textLength="369.6" lengthAdjust="spacingAndGlyphs">Quantity of flavonoid intake (mg d</text>
<text x="512.6" y="654.8" font-size="14" textLength="13.4" lengthAdjust="spacingAndGlyphs">−1</text>
<text x="527.0" y="664.8" font-size="22.2" textLength="7.8" lengthAdjust="spacingAndGlyphs">)</text>
<text x="312.5" y="383" font-size="22.2" textLength="196.4" lengthAdjust="spacingAndGlyphs"><tspan font-style="italic">r</tspan> = –0.44, <tspan font-style="italic">P</tspan> &lt; 0.05</text>
<text transform="translate(40.0 481.1) rotate(-90)" font-size="22.2" text-anchor="middle" textLength="121.8" lengthAdjust="spacingAndGlyphs">Diversity of</text>
<text transform="translate(67.5 481.7) rotate(-90)" font-size="22.2" text-anchor="middle" textLength="172.1" lengthAdjust="spacingAndGlyphs">flavonoid intake</text>
<text transform="translate(95.5 489.0) rotate(-90)" font-size="22.2" text-anchor="middle" textLength="225.7" lengthAdjust="spacingAndGlyphs">(hill number per day)</text>
</g>
<g id="panel-d">
<text x="1.2" y="718.2" font-size="32" font-weight="bold" fill="#000" stroke="#000" stroke-width="1.3" stroke-linejoin="round">d</text>
<line x1="92.6" y1="737.4" x2="92.6" y2="1053.0" stroke="#444" stroke-width="1.3"/>
<line x1="82.4" y1="1052.4" x2="92.6" y2="1052.4" stroke="#444" stroke-width="1.3"/>
<text x="72.4" y="1058.9" font-size="18" text-anchor="end" textLength="13.0" lengthAdjust="spacingAndGlyphs">0</text>
<line x1="82.4" y1="1000.0" x2="92.6" y2="1000.0" stroke="#444" stroke-width="1.3"/>
<text x="72.4" y="1006.5" font-size="18" text-anchor="end" textLength="22.4" lengthAdjust="spacingAndGlyphs">10</text>
<line x1="82.4" y1="947.6" x2="92.6" y2="947.6" stroke="#444" stroke-width="1.3"/>
<text x="72.4" y="954.1" font-size="18" text-anchor="end" textLength="24.0" lengthAdjust="spacingAndGlyphs">20</text>
<line x1="82.4" y1="895.2" x2="92.6" y2="895.2" stroke="#444" stroke-width="1.3"/>
<text x="72.4" y="901.7" font-size="18" text-anchor="end" textLength="24.0" lengthAdjust="spacingAndGlyphs">30</text>
<line x1="82.4" y1="842.8" x2="92.6" y2="842.8" stroke="#444" stroke-width="1.3"/>
<text x="72.4" y="849.3" font-size="18" text-anchor="end" textLength="24.0" lengthAdjust="spacingAndGlyphs">40</text>
<line x1="82.4" y1="790.4" x2="92.6" y2="790.4" stroke="#444" stroke-width="1.3"/>
<text x="72.4" y="796.9" font-size="18" text-anchor="end" textLength="24.0" lengthAdjust="spacingAndGlyphs">50</text>
<line x1="82.4" y1="738.0" x2="92.6" y2="738.0" stroke="#444" stroke-width="1.3"/>
<text x="72.4" y="744.5" font-size="18" text-anchor="end" textLength="24.0" lengthAdjust="spacingAndGlyphs">60</text>
<text transform="translate(29.5 895.0) rotate(-90)" font-size="22.2" text-anchor="middle" textLength="234.0" lengthAdjust="spacingAndGlyphs">Abundance (% intake)</text>
<text x="941.0" y="730.2" font-size="22.2" text-anchor="middle" textLength="445.0" lengthAdjust="spacingAndGlyphs">Highest diversity of flavonoid intake (Q5)</text>
<text x="125.8" y="755.8" font-size="22.2" textLength="346.3" lengthAdjust="spacingAndGlyphs">Mean hill number per day = 13.4</text>
<g class="dot">
<circle cx="978.9" cy="911.9" r="7.3" fill="#faebd7"/><circle cx="946.8" cy="858.0" r="7.3" fill="#faebd7"/><circle cx="949.4" cy="864.8" r="7.3" fill="#1e90ff"/><circle cx="691.2" cy="812.5" r="7.3" fill="#7a35d6"/><circle cx="1133.4" cy="875.0" r="7.3" fill="#4daf4a"/><circle cx="1240.0" cy="918.4" r="7.3" fill="#e41a1c"/><circle cx="1013.4" cy="789.2" r="7.3" fill="#7fdbda"/><circle cx="959.5" cy="773.5" r="7.3" fill="#e41a1c"/><circle cx="782.5" cy="768.8" r="7.3" fill="#984ea3"/><circle cx="905.2" cy="898.8" r="7.3" fill="#faebd7"/><circle cx="1028.7" cy="844.0" r="7.3" fill="#00008b"/><circle cx="915.6" cy="808.5" r="7.3" fill="#7fdbda"/><circle cx="1248.3" cy="898.4" r="7.3" fill="#ffd700"/><circle cx="827.8" cy="800.7" r="7.3" fill="#7fdbda"/><circle cx="676.4" cy="886.6" r="7.3" fill="#999999"/><circle cx="1156.2" cy="825.8" r="7.3" fill="#ff9ec4"/><circle cx="1156.6" cy="764.1" r="7.3" fill="#ffd700"/><circle cx="1195.5" cy="839.2" r="7.3" fill="#984ea3"/><circle cx="878.6" cy="775.7" r="7.3" fill="#ffd700"/><circle cx="1114.1" cy="807.2" r="7.3" fill="#3d9970"/><circle cx="838.5" cy="918.3" r="7.3" fill="#4daf4a"/><circle cx="705.9" cy="803.4" r="7.3" fill="#7fdbda"/><circle cx="670.0" cy="891.5" r="7.3" fill="#4daf4a"/><circle cx="978.6" cy="835.6" r="7.3" fill="#1e90ff"/><circle cx="1085.3" cy="785.0" r="7.3" fill="#984ea3"/><circle cx="705.0" cy="831.3" r="7.3" fill="#3d9970"/><circle cx="799.7" cy="919.3" r="7.3" fill="#984ea3"/><circle cx="821.0" cy="905.6" r="7.3" fill="#ffd700"/><circle cx="876.7" cy="900.7" r="7.3" fill="#984ea3"/><circle cx="695.0" cy="922.3" r="7.3" fill="#3d9970"/><circle cx="792.6" cy="887.6" r="7.3" fill="#984ea3"/><circle cx="816.1" cy="775.7" r="7.3" fill="#40d0b8"/><circle cx="993.1" cy="802.9" r="7.3" fill="#4daf4a"/><circle cx="862.7" cy="836.5" r="7.3" fill="#3d9970"/><circle cx="931.9" cy="855.9" r="7.3" fill="#ffd700"/><circle cx="746.0" cy="788.7" r="7.3" fill="#ffd700"/><circle cx="1138.4" cy="803.9" r="7.3" fill="#ffd700"/><circle cx="1090.0" cy="914.5" r="7.3" fill="#1e90ff"/><circle cx="1220.2" cy="905.2" r="7.3" fill="#984ea3"/><circle cx="893.5" cy="780.6" r="7.3" fill="#3d9970"/><circle cx="1227.9" cy="802.1" r="7.3" fill="#e41a1c"/><circle cx="791.8" cy="895.8" r="7.3" fill="#7fdbda"/><circle cx="814.3" cy="792.1" r="7.3" fill="#3d9970"/><circle cx="675.5" cy="800.5" r="7.3" fill="#7fdbda"/><circle cx="1159.8" cy="862.3" r="7.3" fill="#b010d0"/><circle cx="1199.9" cy="796.6" r="7.3" fill="#999999"/><circle cx="799.4" cy="835.3" r="7.3" fill="#e41a1c"/><circle cx="741.9" cy="823.0" r="7.3" fill="#377eb8"/><circle cx="714.3" cy="821.9" r="7.3" fill="#b010d0"/><circle cx="1238.9" cy="869.1" r="7.3" fill="#ffd700"/><circle cx="994.2" cy="786.5" r="7.3" fill="#7fdbda"/><circle cx="644.1" cy="909.6" r="7.3" fill="#e41a1c"/><circle cx="1228.0" cy="767.4" r="7.3" fill="#7fdbda"/><circle cx="931.0" cy="880.9" r="7.3" fill="#3d9970"/><circle cx="1250.6" cy="776.0" r="7.3" fill="#7be02f"/><circle cx="1088.5" cy="908.0" r="7.3" fill="#b010d0"/><circle cx="1067.9" cy="890.9" r="7.3" fill="#7fdbda"/><circle cx="850.4" cy="873.6" r="7.3" fill="#ffd700"/><circle cx="1171.3" cy="830.7" r="7.3" fill="#ffd700"/><circle cx="1166.6" cy="855.6" r="7.3" fill="#8b4513"/><circle cx="869.3" cy="857.2" r="7.3" fill="#3d9970"/><circle cx="682.6" cy="866.3" r="7.3" fill="#3d9970"/><circle cx="1176.7" cy="880.5" r="7.3" fill="#ffd700"/><circle cx="1087.3" cy="857.0" r="7.3" fill="#0d9494"/><circle cx="1151.1" cy="777.4" r="7.3" fill="#faebd7"/><circle cx="651.4" cy="860.2" r="7.3" fill="#7fdbda"/><circle cx="775.3" cy="875.7" r="7.3" fill="#faebd7"/><circle cx="1012.8" cy="911.3" r="7.3" fill="#00008b"/><circle cx="640.0" cy="812.2" r="7.3" fill="#f781bf"/><circle cx="758.2" cy="791.1" r="7.3" fill="#7fdbda"/><circle cx="1040.9" cy="834.7" r="7.3" fill="#ffd700"/><circle cx="835.1" cy="870.5" r="7.3" fill="#ffd700"/><circle cx="899.3" cy="893.0" r="7.3" fill="#984ea3"/><circle cx="1177.0" cy="825.5" r="7.3" fill="#ffd700"/><circle cx="828.6" cy="785.8" r="7.3" fill="#b010d0"/><circle cx="1150.3" cy="899.8" r="7.3" fill="#00008b"/><circle cx="1220.1" cy="808.3" r="7.3" fill="#7fdbda"/><circle cx="911.5" cy="808.0" r="7.3" fill="#1e90ff"/><circle cx="888.8" cy="864.1" r="7.3" fill="#984ea3"/><circle cx="827.9" cy="898.3" r="7.3" fill="#faebd7"/><circle cx="912.6" cy="775.9" r="7.3" fill="#ffd700"/><circle cx="1172.4" cy="770.6" r="7.3" fill="#e41a1c"/><circle cx="985.6" cy="813.4" r="7.3" fill="#7fdbda"/><circle cx="644.8" cy="785.7" r="7.3" fill="#7a35d6"/><circle cx="648.3" cy="896.7" r="7.3" fill="#faebd7"/><circle cx="720.1" cy="771.5" r="7.3" fill="#a65628"/><circle cx="908.9" cy="864.8" r="7.3" fill="#3d9970"/><circle cx="1132.0" cy="917.4" r="7.3" fill="#7fdbda"/><circle cx="756.2" cy="840.0" r="7.3" fill="#7fdbda"/><circle cx="639.7" cy="839.6" r="7.3" fill="#1e90ff"/><circle cx="743.7" cy="807.6" r="7.3" fill="#7fdbda"/><circle cx="1063.9" cy="847.3" r="7.3" fill="#40d0b8"/><circle cx="1100.3" cy="827.0" r="7.3" fill="#3d9970"/><circle cx="1193.1" cy="778.0" r="7.3" fill="#7a35d6"/><circle cx="1079.4" cy="784.8" r="7.3" fill="#ffd700"/><circle cx="1019.6" cy="909.6" r="7.3" fill="#faebd7"/><circle cx="984.5" cy="904.7" r="7.3" fill="#0d9494"/><circle cx="1216.6" cy="838.2" r="7.3" fill="#f05050"/><circle cx="759.6" cy="879.5" r="7.3" fill="#7fdbda"/><circle cx="1029.5" cy="878.8" r="7.3" fill="#ffd700"/><circle cx="1189.2" cy="920.9" r="7.3" fill="#984ea3"/><circle cx="964.8" cy="890.5" r="7.3" fill="#ffd700"/><circle cx="1195.4" cy="900.9" r="7.3" fill="#7be02f"/><circle cx="684.2" cy="834.5" r="7.3" fill="#40d0b8"/><circle cx="1107.8" cy="842.0" r="7.3" fill="#b010d0"/><circle cx="1133.0" cy="774.2" r="7.3" fill="#e41a1c"/><circle cx="739.8" cy="817.6" r="7.3" fill="#3cc07c"/><circle cx="719.8" cy="787.8" r="7.3" fill="#8b4513"/><circle cx="1080.2" cy="898.4" r="7.3" fill="#00008b"/><circle cx="1217.5" cy="842.8" r="7.3" fill="#7fdbda"/><circle cx="686.2" cy="799.4" r="7.3" fill="#ffd700"/><circle cx="812.3" cy="880.6" r="7.3" fill="#b010d0"/><circle cx="956.1" cy="899.0" r="7.3" fill="#3d9970"/><circle cx="825.6" cy="825.0" r="7.3" fill="#b010d0"/><circle cx="1189.5" cy="797.3" r="7.3" fill="#ffd700"/><circle cx="1231.5" cy="847.9" r="7.3" fill="#ffd700"/><circle cx="757.2" cy="849.7" r="7.3" fill="#b010d0"/><circle cx="1007.0" cy="768.4" r="7.3" fill="#00008b"/><circle cx="951.9" cy="828.1" r="7.3" fill="#ffd700"/><circle cx="980.9" cy="842.6" r="7.3" fill="#3cc07c"/><circle cx="673.7" cy="850.2" r="7.3" fill="#7fdbda"/><circle cx="1224.3" cy="911.7" r="7.3" fill="#ff9ec4"/><circle cx="925.4" cy="784.3" r="7.3" fill="#999999"/><circle cx="1137.1" cy="908.1" r="7.3" fill="#faebd7"/><circle cx="829.0" cy="794.6" r="7.3" fill="#faebd7"/><circle cx="1204.8" cy="784.7" r="7.3" fill="#3d9970"/><circle cx="647.1" cy="795.1" r="7.3" fill="#7fdbda"/><circle cx="1057.6" cy="815.5" r="7.3" fill="#984ea3"/><circle cx="1016.0" cy="780.8" r="7.3" fill="#e4e4e4"/><circle cx="708.9" cy="845.7" r="7.3" fill="#7fdbda"/><circle cx="755.2" cy="848.9" r="7.3" fill="#a65628"/><circle cx="865.2" cy="830.1" r="7.3" fill="#faebd7"/><circle cx="731.7" cy="796.7" r="7.3" fill="#b010d0"/><circle cx="1027.6" cy="848.7" r="7.3" fill="#3d9970"/><circle cx="1011.0" cy="901.1" r="7.3" fill="#ffd700"/><circle cx="1090.8" cy="893.7" r="7.3" fill="#f0962e"/><circle cx="828.2" cy="814.4" r="7.3" fill="#ffd700"/><circle cx="767.8" cy="923.7" r="7.3" fill="#ffd700"/><circle cx="715.8" cy="802.3" r="7.3" fill="#ffd700"/><circle cx="793.4" cy="779.5" r="7.3" fill="#7fdbda"/><circle cx="893.6" cy="890.4" r="7.3" fill="#ffd700"/><circle cx="881.9" cy="873.6" r="7.3" fill="#1e90ff"/><circle cx="757.2" cy="873.2" r="7.3" fill="#e41a1c"/><circle cx="1231.5" cy="782.5" r="7.3" fill="#ffd700"/><circle cx="1101.5" cy="844.4" r="7.3" fill="#00008b"/><circle cx="749.8" cy="775.3" r="7.3" fill="#7fdbda"/><circle cx="656.1" cy="852.3" r="7.3" fill="#4daf4a"/><circle cx="984.5" cy="787.4" r="7.3" fill="#00008b"/><circle cx="759.0" cy="898.4" r="7.3" fill="#1e90ff"/><circle cx="1205.8" cy="779.2" r="7.3" fill="#ffd700"/><circle cx="1221.0" cy="837.9" r="7.3" fill="#377eb8"/><circle cx="835.0" cy="838.7" r="7.3" fill="#7fdbda"/><circle cx="898.8" cy="860.1" r="7.3" fill="#00008b"/><circle cx="1066.2" cy="899.1" r="7.3" fill="#e41a1c"/><circle cx="913.5" cy="882.3" r="7.3" fill="#1e90ff"/><circle cx="753.6" cy="790.4" r="7.3" fill="#ff9ec4"/><circle cx="642.5" cy="906.9" r="7.3" fill="#00008b"/><circle cx="1068.5" cy="901.7" r="7.3" fill="#ffd700"/><circle cx="883.0" cy="859.9" r="7.3" fill="#3d9970"/><circle cx="1240.3" cy="892.8" r="7.3" fill="#00008b"/><circle cx="1196.2" cy="883.1" r="7.3" fill="#f781bf"/><circle cx="1136.4" cy="828.9" r="7.3" fill="#7fdbda"/><circle cx="1176.7" cy="875.2" r="7.3" fill="#ffd700"/><circle cx="1105.9" cy="828.9" r="7.3" fill="#7fdbda"/><circle cx="676.6" cy="818.7" r="7.3" fill="#7fdbda"/><circle cx="639.5" cy="820.9" r="7.3" fill="#faebd7"/><circle cx="1018.6" cy="801.1" r="7.3" fill="#3d9970"/><circle cx="1044.6" cy="818.1" r="7.3" fill="#ffd700"/><circle cx="985.0" cy="849.3" r="7.3" fill="#7fdbda"/><circle cx="1250.9" cy="866.8" r="7.3" fill="#0d9494"/><circle cx="1103.8" cy="920.8" r="7.3" fill="#7fdbda"/><circle cx="1013.3" cy="882.2" r="7.3" fill="#e41a1c"/><circle cx="881.2" cy="772.1" r="7.3" fill="#f781bf"/><circle cx="865.2" cy="779.8" r="7.3" fill="#984ea3"/><circle cx="1192.7" cy="852.0" r="7.3" fill="#a65628"/><circle cx="1230.7" cy="854.9" r="7.3" fill="#00008b"/><circle cx="1027.3" cy="893.5" r="7.3" fill="#ffd700"/><circle cx="1002.3" cy="885.5" r="7.3" fill="#377eb8"/><circle cx="1207.8" cy="789.6" r="7.3" fill="#e41a1c"/><circle cx="737.5" cy="843.3" r="7.3" fill="#faebd7"/><circle cx="669.2" cy="915.2" r="7.3" fill="#3d9970"/><circle cx="958.5" cy="859.7" r="7.3" fill="#ff9ec4"/><circle cx="809.6" cy="868.8" r="7.3" fill="#f5a623"/><circle cx="808.2" cy="878.7" r="7.3" fill="#b010d0"/><circle cx="641.7" cy="803.2" r="7.3" fill="#999999"/><circle cx="729.8" cy="884.7" r="7.3" fill="#e41a1c"/><circle cx="1187.7" cy="883.7" r="7.3" fill="#0d9494"/><circle cx="1244.1" cy="915.1" r="7.3" fill="#377eb8"/><circle cx="1192.6" cy="832.7" r="7.3" fill="#377eb8"/><circle cx="1234.4" cy="803.0" r="7.3" fill="#faebd7"/><circle cx="1212.2" cy="879.6" r="7.3" fill="#b010d0"/><circle cx="1237.9" cy="894.7" r="7.3" fill="#faebd7"/><circle cx="704.1" cy="863.9" r="7.3" fill="#3d9970"/><circle cx="758.9" cy="772.3" r="7.3" fill="#faebd7"/><circle cx="709.8" cy="834.9" r="7.3" fill="#b010d0"/><circle cx="914.5" cy="805.9" r="7.3" fill="#7fdbda"/><circle cx="892.3" cy="888.5" r="7.3" fill="#b010d0"/><circle cx="1249.5" cy="916.4" r="7.3" fill="#b010d0"/><circle cx="780.3" cy="782.2" r="7.3" fill="#7fdbda"/><circle cx="1117.7" cy="864.0" r="7.3" fill="#ffd700"/><circle cx="800.8" cy="873.6" r="7.3" fill="#f5a623"/><circle cx="998.7" cy="865.3" r="7.3" fill="#b010d0"/><circle cx="750.3" cy="803.8" r="7.3" fill="#7fdbda"/><circle cx="1198.9" cy="904.6" r="7.3" fill="#ffd700"/><circle cx="670.6" cy="807.4" r="7.3" fill="#e41a1c"/><circle cx="1018.2" cy="780.4" r="7.3" fill="#f4f4f4"/><circle cx="677.8" cy="777.8" r="7.3" fill="#b010d0"/><circle cx="973.3" cy="865.0" r="7.3" fill="#7fdbda"/><circle cx="928.7" cy="797.7" r="7.3" fill="#0d9494"/><circle cx="1093.3" cy="898.2" r="7.3" fill="#40d0b8"/><circle cx="707.0" cy="893.5" r="7.3" fill="#377eb8"/><circle cx="1108.1" cy="798.1" r="7.3" fill="#3d9970"/><circle cx="792.5" cy="893.6" r="7.3" fill="#ff9ec4"/><circle cx="1037.0" cy="922.3" r="7.3" fill="#0d9494"/><circle cx="972.0" cy="883.4" r="7.3" fill="#40d0b8"/><circle cx="897.3" cy="823.1" r="7.3" fill="#ffd700"/><circle cx="1173.9" cy="776.6" r="7.3" fill="#4daf4a"/><circle cx="981.7" cy="841.6" r="7.3" fill="#4daf4a"/><circle cx="817.7" cy="888.1" r="7.3" fill="#7fdbda"/><circle cx="764.8" cy="869.9" r="7.3" fill="#377eb8"/><circle cx="820.8" cy="880.0" r="7.3" fill="#4daf4a"/><circle cx="807.8" cy="786.9" r="7.3" fill="#7fdbda"/><circle cx="1081.7" cy="822.6" r="7.3" fill="#f5a623"/><circle cx="1071.3" cy="855.1" r="7.3" fill="#4daf4a"/><circle cx="1213.9" cy="910.1" r="7.3" fill="#ffd700"/><circle cx="1129.3" cy="812.8" r="7.3" fill="#faebd7"/><circle cx="879.9" cy="913.5" r="7.3" fill="#7be02f"/><circle cx="786.5" cy="821.9" r="7.3" fill="#ffd700"/><circle cx="857.5" cy="827.3" r="7.3" fill="#f5a623"/><circle cx="753.5" cy="854.2" r="7.3" fill="#0d9494"/><circle cx="967.1" cy="897.8" r="7.3" fill="#f05050"/><circle cx="742.1" cy="885.4" r="7.3" fill="#b010d0"/><circle cx="806.9" cy="767.6" r="7.3" fill="#ffd700"/><circle cx="969.3" cy="854.8" r="7.3" fill="#00008b"/><circle cx="1035.4" cy="892.7" r="7.3" fill="#ffd700"/><circle cx="970.9" cy="890.1" r="7.3" fill="#377eb8"/><circle cx="683.5" cy="881.9" r="7.3" fill="#4daf4a"/><circle cx="685.3" cy="865.5" r="7.3" fill="#ffd700"/><circle cx="1093.9" cy="867.8" r="7.3" fill="#1e90ff"/><circle cx="769.2" cy="886.5" r="7.3" fill="#a65628"/><circle cx="1105.6" cy="827.1" r="7.3" fill="#00008b"/><circle cx="1231.4" cy="871.6" r="7.3" fill="#40d0b8"/><circle cx="965.1" cy="879.3" r="7.3" fill="#faebd7"/><circle cx="1198.5" cy="829.7" r="7.3" fill="#7fdbda"/><circle cx="1045.0" cy="900.6" r="7.3" fill="#ffd700"/><circle cx="1148.3" cy="906.2" r="7.3" fill="#ffd700"/><circle cx="1028.7" cy="847.8" r="7.3" fill="#ffd700"/><circle cx="1128.8" cy="831.5" r="7.3" fill="#7fdbda"/><circle cx="723.3" cy="882.6" r="7.3" fill="#ff9ec4"/><circle cx="865.1" cy="790.8" r="7.3" fill="#ffd700"/><circle cx="895.6" cy="810.7" r="7.3" fill="#984ea3"/><circle cx="669.6" cy="813.4" r="7.3" fill="#ffd700"/><circle cx="1033.5" cy="888.1" r="7.3" fill="#4daf4a"/><circle cx="671.5" cy="837.4" r="7.3" fill="#1e90ff"/><circle cx="1194.9" cy="769.8" r="7.3" fill="#b010d0"/><circle cx="747.0" cy="798.8" r="7.3" fill="#4daf4a"/><circle cx="1076.3" cy="859.2" r="7.3" fill="#f0962e"/><circle cx="747.3" cy="809.0" r="7.3" fill="#984ea3"/><circle cx="1101.1" cy="813.9" r="7.3" fill="#1e90ff"/><circle cx="1138.0" cy="840.7" r="7.3" fill="#b010d0"/><circle cx="1181.4" cy="910.3" r="7.3" fill="#f781bf"/><circle cx="971.3" cy="917.1" r="7.3" fill="#40d0b8"/><circle cx="769.6" cy="772.0" r="7.3" fill="#faebd7"/><circle cx="1128.3" cy="825.6" r="7.3" fill="#ffd700"/><circle cx="951.8" cy="807.9" r="7.3" fill="#b010d0"/><circle cx="1039.4" cy="802.0" r="7.3" fill="#ffd700"/><circle cx="925.1" cy="823.4" r="7.3" fill="#e41a1c"/><circle cx="1073.8" cy="861.0" r="7.3" fill="#f05050"/><circle cx="730.0" cy="815.5" r="7.3" fill="#1e90ff"/><circle cx="1170.2" cy="846.6" r="7.3" fill="#f781bf"/><circle cx="1246.7" cy="806.6" r="7.3" fill="#3d9970"/><circle cx="726.1" cy="887.3" r="7.3" fill="#b010d0"/><circle cx="1140.6" cy="899.4" r="7.3" fill="#e41a1c"/><circle cx="683.9" cy="807.2" r="7.3" fill="#ffd700"/><circle cx="693.0" cy="840.8" r="7.3" fill="#7fdbda"/><circle cx="1223.5" cy="857.9" r="7.3" fill="#faebd7"/><circle cx="820.6" cy="890.3" r="7.3" fill="#ffd700"/><circle cx="1199.6" cy="778.6" r="7.3" fill="#ff9ec4"/><circle cx="761.8" cy="850.9" r="7.3" fill="#ffd700"/><circle cx="730.4" cy="897.1" r="7.3" fill="#b010d0"/><circle cx="825.0" cy="776.2" r="7.3" fill="#7f6db3"/><circle cx="921.7" cy="878.4" r="7.3" fill="#e8604c"/><circle cx="1057.6" cy="780.9" r="7.3" fill="#f5a623"/><circle cx="918.4" cy="918.7" r="7.3" fill="#ff9ec4"/><circle cx="1037.1" cy="766.0" r="7.3" fill="#ffd700"/><circle cx="1071.8" cy="802.0" r="7.3" fill="#0d9494"/><circle cx="916.1" cy="765.7" r="7.3" fill="#b010d0"/><circle cx="1127.1" cy="797.1" r="7.3" fill="#ffd700"/><circle cx="812.5" cy="824.2" r="7.3" fill="#3d9970"/><circle cx="817.3" cy="818.0" r="7.3" fill="#b010d0"/><circle cx="1045.0" cy="805.0" r="7.3" fill="#ff9ec4"/><circle cx="1085.0" cy="816.7" r="7.3" fill="#984ea3"/><circle cx="980.8" cy="879.8" r="7.3" fill="#ffd700"/><circle cx="1144.0" cy="778.8" r="7.3" fill="#40d0b8"/><circle cx="691.3" cy="872.4" r="7.3" fill="#1e90ff"/><circle cx="744.2" cy="828.4" r="7.3" fill="#7fdbda"/><circle cx="999.3" cy="778.4" r="7.3" fill="#ffd700"/><circle cx="730.1" cy="783.9" r="7.3" fill="#984ea3"/><circle cx="677.9" cy="911.3" r="7.3" fill="#ff9ec4"/><circle cx="949.1" cy="867.6" r="7.3" fill="#bfe8e0"/><circle cx="1140.4" cy="825.8" r="7.3" fill="#7fdbda"/><circle cx="887.7" cy="766.5" r="7.3" fill="#40d0b8"/><circle cx="1065.5" cy="921.1" r="7.3" fill="#ff9ec4"/><circle cx="1041.0" cy="861.4" r="7.3" fill="#8b4513"/><circle cx="837.6" cy="818.8" r="7.3" fill="#e41a1c"/><circle cx="698.7" cy="824.4" r="7.3" fill="#7fdbda"/><circle cx="1120.3" cy="896.0" r="7.3" fill="#00008b"/><circle cx="730.9" cy="886.6" r="7.3" fill="#3d9970"/><circle cx="971.8" cy="820.4" r="7.3" fill="#ffd700"/><circle cx="720.6" cy="878.1" r="7.3" fill="#00008b"/><circle cx="951.9" cy="878.5" r="7.3" fill="#ffd700"/><circle cx="754.9" cy="915.2" r="7.3" fill="#ffd700"/><circle cx="755.3" cy="777.3" r="7.3" fill="#3d9970"/><circle cx="989.3" cy="875.5" r="7.3" fill="#a65628"/><circle cx="1207.2" cy="821.8" r="7.3" fill="#40d0b8"/><circle cx="709.6" cy="919.8" r="7.3" fill="#faebd7"/><circle cx="1191.7" cy="850.9" r="7.3" fill="#1e90ff"/><circle cx="979.3" cy="806.3" r="7.3" fill="#b010d0"/><circle cx="1246.1" cy="894.8" r="7.3" fill="#ffd700"/><circle cx="708.8" cy="895.9" r="7.3" fill="#3d9970"/><circle cx="1187.4" cy="802.5" r="7.3" fill="#999999"/><circle cx="1146.4" cy="793.7" r="7.3" fill="#b010d0"/><circle cx="680.1" cy="769.1" r="7.3" fill="#b010d0"/><circle cx="1243.0" cy="914.3" r="7.3" fill="#1e90ff"/><circle cx="823.1" cy="871.4" r="7.3" fill="#7fdbda"/><circle cx="868.9" cy="858.7" r="7.3" fill="#7fdbda"/><circle cx="643.1" cy="795.9" r="7.3" fill="#ffd700"/><circle cx="721.4" cy="825.8" r="7.3" fill="#faebd7"/><circle cx="740.3" cy="847.2" r="7.3" fill="#b010d0"/><circle cx="984.0" cy="817.1" r="7.3" fill="#f781bf"/><circle cx="656.4" cy="871.4" r="7.3" fill="#3d9970"/><circle cx="1225.9" cy="860.0" r="7.3" fill="#1e90ff"/><circle cx="887.3" cy="863.8" r="7.3" fill="#faebd7"/><circle cx="1101.5" cy="884.3" r="7.3" fill="#7fdbda"/><circle cx="1247.7" cy="898.1" r="7.3" fill="#faebd7"/><circle cx="885.8" cy="833.4" r="7.3" fill="#ffd700"/><circle cx="1192.4" cy="848.2" r="7.3" fill="#b010d0"/><circle cx="900.1" cy="908.7" r="7.3" fill="#b010d0"/><circle cx="666.8" cy="880.1" r="7.3" fill="#7be02f"/><circle cx="1085.4" cy="859.6" r="7.3" fill="#ffd700"/><circle cx="821.3" cy="858.9" r="7.3" fill="#7fdbda"/><circle cx="709.9" cy="835.5" r="7.3" fill="#377eb8"/><circle cx="878.2" cy="772.3" r="7.3" fill="#00008b"/><circle cx="958.2" cy="802.3" r="7.3" fill="#7fdbda"/><circle cx="877.4" cy="801.7" r="7.3" fill="#e8604c"/><circle cx="1196.2" cy="918.6" r="7.3" fill="#377eb8"/><circle cx="1168.5" cy="831.4" r="7.3" fill="#7fdbda"/><circle cx="770.1" cy="883.5" r="7.3" fill="#ffd700"/><circle cx="1191.3" cy="779.8" r="7.3" fill="#b010d0"/><circle cx="709.5" cy="850.0" r="7.3" fill="#7a35d6"/><circle cx="633.4" cy="803.0" r="7.3" fill="#ffd700"/><circle cx="833.7" cy="774.0" r="7.3" fill="#999999"/><circle cx="1136.9" cy="827.6" r="7.3" fill="#ffd700"/><circle cx="994.8" cy="771.3" r="7.3" fill="#a6e3b0"/><circle cx="1188.3" cy="813.3" r="7.3" fill="#e41a1c"/><circle cx="1210.2" cy="920.4" r="7.3" fill="#00008b"/><circle cx="760.6" cy="811.3" r="7.3" fill="#faebd7"/><circle cx="1187.2" cy="795.3" r="7.3" fill="#ffd700"/><circle cx="851.9" cy="839.6" r="7.3" fill="#ffd700"/><circle cx="1176.7" cy="923.3" r="7.3" fill="#1e90ff"/><circle cx="1023.8" cy="794.6" r="7.3" fill="#984ea3"/><circle cx="663.9" cy="781.0" r="7.3" fill="#ffd700"/><circle cx="826.4" cy="908.0" r="7.3" fill="#7fdbda"/><circle cx="1073.7" cy="785.6" r="7.3" fill="#ffd700"/><circle cx="1212.6" cy="835.2" r="7.3" fill="#7fdbda"/><circle cx="771.0" cy="813.1" r="7.3" fill="#4daf4a"/><circle cx="754.4" cy="793.0" r="7.3" fill="#7fdbda"/><circle cx="1043.7" cy="890.5" r="7.3" fill="#f0962e"/><circle cx="1042.1" cy="905.5" r="7.3" fill="#0d9494"/><circle cx="774.5" cy="812.1" r="7.3" fill="#b010d0"/><circle cx="1045.2" cy="808.3" r="7.3" fill="#ffd700"/><circle cx="688.6" cy="921.3" r="7.3" fill="#3d9970"/><circle cx="959.5" cy="848.9" r="7.3" fill="#faebd7"/><circle cx="1003.6" cy="809.5" r="7.3" fill="#e41a1c"/><circle cx="1129.4" cy="777.9" r="7.3" fill="#a65628"/><circle cx="1100.0" cy="803.3" r="7.3" fill="#999999"/><circle cx="971.7" cy="793.8" r="7.3" fill="#999999"/><circle cx="1243.4" cy="769.4" r="7.3" fill="#ffd700"/><circle cx="1096.9" cy="825.6" r="7.3" fill="#faebd7"/><circle cx="941.9" cy="792.8" r="7.3" fill="#ffd700"/><circle cx="1031.6" cy="821.5" r="7.3" fill="#b010d0"/><circle cx="1116.9" cy="846.7" r="7.3" fill="#7fdbda"/><circle cx="1155.5" cy="873.5" r="7.3" fill="#00008b"/><circle cx="1221.0" cy="791.8" r="7.3" fill="#00008b"/><circle cx="735.1" cy="861.3" r="7.3" fill="#7fdbda"/><circle cx="905.2" cy="887.7" r="7.3" fill="#f0962e"/><circle cx="1121.9" cy="801.8" r="7.3" fill="#7fdbda"/><circle cx="769.7" cy="856.8" r="7.3" fill="#faebd7"/><circle cx="654.8" cy="859.5" r="7.3" fill="#00008b"/><circle cx="986.9" cy="903.7" r="7.3" fill="#7fdbda"/><circle cx="726.8" cy="766.8" r="7.3" fill="#1e90ff"/><circle cx="901.6" cy="834.7" r="7.3" fill="#00008b"/><circle cx="1126.5" cy="775.6" r="7.3" fill="#f781bf"/><circle cx="984.6" cy="850.9" r="7.3" fill="#ffd700"/><circle cx="780.1" cy="787.4" r="7.3" fill="#7a35d6"/><circle cx="659.2" cy="814.3" r="7.3" fill="#7f6db3"/><circle cx="957.7" cy="806.4" r="7.3" fill="#3d9970"/><circle cx="687.7" cy="895.3" r="7.3" fill="#b010d0"/><circle cx="790.5" cy="789.6" r="7.3" fill="#1e90ff"/><circle cx="1146.5" cy="889.9" r="7.3" fill="#7fdbda"/><circle cx="886.8" cy="822.3" r="7.3" fill="#377eb8"/><circle cx="1232.8" cy="770.7" r="7.3" fill="#984ea3"/><circle cx="1103.5" cy="921.8" r="7.3" fill="#faebd7"/><circle cx="914.4" cy="883.2" r="7.3" fill="#1e90ff"/><circle cx="781.7" cy="906.4" r="7.3" fill="#e41a1c"/><circle cx="875.8" cy="811.7" r="7.3" fill="#1e90ff"/><circle cx="680.3" cy="769.5" r="7.3" fill="#ff9ec4"/><circle cx="1104.7" cy="881.4" r="7.3" fill="#ffd700"/><circle cx="789.5" cy="852.3" r="7.3" fill="#984ea3"/><circle cx="918.2" cy="913.2" r="7.3" fill="#a65628"/><circle cx="841.3" cy="921.0" r="7.3" fill="#f5a623"/><circle cx="657.5" cy="828.5" r="7.3" fill="#3d9970"/><circle cx="669.2" cy="818.9" r="7.3" fill="#7fdbda"/><circle cx="1167.2" cy="858.5" r="7.3" fill="#7fdbda"/><circle cx="918.9" cy="826.9" r="7.3" fill="#ffd700"/><circle cx="868.5" cy="889.0" r="7.3" fill="#ffd700"/><circle cx="847.7" cy="793.4" r="7.3" fill="#984ea3"/><circle cx="734.3" cy="796.6" r="7.3" fill="#b010d0"/><circle cx="922.0" cy="813.4" r="7.3" fill="#984ea3"/><circle cx="1246.9" cy="872.7" r="7.3" fill="#faebd7"/><circle cx="759.4" cy="825.3" r="7.3" fill="#ffd700"/><circle cx="1060.3" cy="822.1" r="7.3" fill="#377eb8"/><circle cx="644.5" cy="793.1" r="7.3" fill="#999999"/><circle cx="875.8" cy="911.8" r="7.3" fill="#f781bf"/><circle cx="799.0" cy="821.8" r="7.3" fill="#7fdbda"/><circle cx="1211.8" cy="821.6" r="7.3" fill="#1e90ff"/><circle cx="1080.1" cy="909.1" r="7.3" fill="#7fdbda"/><circle cx="832.0" cy="825.5" r="7.3" fill="#e41a1c"/><circle cx="1178.3" cy="816.0" r="7.3" fill="#4daf4a"/><circle cx="953.9" cy="772.8" r="7.3" fill="#7fdbda"/><circle cx="780.3" cy="770.5" r="7.3" fill="#ff9ec4"/><circle cx="1001.0" cy="769.1" r="7.3" fill="#1e90ff"/><circle cx="895.1" cy="851.0" r="7.3" fill="#7f6db3"/><circle cx="1069.7" cy="805.7" r="7.3" fill="#1e90ff"/><circle cx="1044.7" cy="787.6" r="7.3" fill="#7fdbda"/><circle cx="806.3" cy="878.0" r="7.3" fill="#984ea3"/><circle cx="871.9" cy="902.6" r="7.3" fill="#ff9ec4"/><circle cx="813.5" cy="819.2" r="7.3" fill="#984ea3"/><circle cx="658.1" cy="767.9" r="7.3" fill="#984ea3"/><circle cx="982.8" cy="893.4" r="7.3" fill="#3d9970"/><circle cx="817.2" cy="871.3" r="7.3" fill="#ffd700"/><circle cx="766.6" cy="874.3" r="7.3" fill="#ffd700"/><circle cx="1223.3" cy="902.9" r="7.3" fill="#7fdbda"/><circle cx="1023.9" cy="778.4" r="7.3" fill="#f0962e"/><circle cx="875.5" cy="773.6" r="7.3" fill="#faebd7"/><circle cx="835.8" cy="843.5" r="7.3" fill="#0d9494"/><circle cx="731.0" cy="828.4" r="7.3" fill="#999999"/><circle cx="736.0" cy="870.4" r="7.3" fill="#faebd7"/><circle cx="690.5" cy="818.7" r="7.3" fill="#a65628"/><circle cx="726.2" cy="857.2" r="7.3" fill="#ff9ec4"/><circle cx="974.9" cy="876.0" r="7.3" fill="#7fdbda"/><circle cx="874.9" cy="822.3" r="7.3" fill="#e41a1c"/><circle cx="882.9" cy="772.7" r="7.3" fill="#377eb8"/><circle cx="995.1" cy="839.0" r="7.3" fill="#00008b"/><circle cx="789.6" cy="767.8" r="7.3" fill="#40d0b8"/><circle cx="1184.1" cy="854.5" r="7.3" fill="#40d0b8"/><circle cx="1045.9" cy="793.8" r="7.3" fill="#f781bf"/><circle cx="1013.2" cy="916.7" r="7.3" fill="#faebd7"/><circle cx="989.1" cy="914.8" r="7.3" fill="#f5a623"/><circle cx="1020.7" cy="863.3" r="7.3" fill="#7fdbda"/><circle cx="889.8" cy="808.2" r="7.3" fill="#ff9ec4"/><circle cx="1176.7" cy="825.1" r="7.3" fill="#ffd700"/><circle cx="656.6" cy="785.7" r="7.3" fill="#ffd700"/><circle cx="823.7" cy="821.7" r="7.3" fill="#00008b"/><circle cx="725.6" cy="794.8" r="7.3" fill="#ffd700"/><circle cx="1053.3" cy="801.5" r="7.3" fill="#984ea3"/><circle cx="969.1" cy="827.0" r="7.3" fill="#e41a1c"/><circle cx="938.1" cy="868.0" r="7.3" fill="#a65628"/><circle cx="1018.9" cy="853.7" r="7.3" fill="#b010d0"/><circle cx="1231.7" cy="817.4" r="7.3" fill="#ffd700"/><circle cx="1180.8" cy="814.1" r="7.3" fill="#40d0b8"/><circle cx="1062.7" cy="873.8" r="7.3" fill="#7fdbda"/><circle cx="1142.5" cy="789.5" r="7.3" fill="#ffd700"/><circle cx="936.2" cy="854.2" r="7.3" fill="#3d9970"/><circle cx="809.6" cy="883.8" r="7.3" fill="#0d9494"/><circle cx="779.5" cy="803.9" r="7.3" fill="#b010d0"/><circle cx="742.9" cy="846.2" r="7.3" fill="#40d0b8"/><circle cx="672.1" cy="775.0" r="7.3" fill="#1e90ff"/><circle cx="1068.6" cy="782.0" r="7.3" fill="#4daf4a"/><circle cx="1110.2" cy="840.9" r="7.3" fill="#faebd7"/><circle cx="1168.4" cy="903.2" r="7.3" fill="#1e90ff"/><circle cx="789.9" cy="845.2" r="7.3" fill="#377eb8"/><circle cx="875.4" cy="878.6" r="7.3" fill="#f05050"/><circle cx="1075.3" cy="816.3" r="7.3" fill="#a65628"/><circle cx="1102.2" cy="898.8" r="7.3" fill="#40d0b8"/><circle cx="983.7" cy="831.3" r="7.3" fill="#ffd700"/><circle cx="1018.0" cy="897.0" r="7.3" fill="#7fdbda"/><circle cx="710.4" cy="824.3" r="7.3" fill="#ffd700"/><circle cx="775.8" cy="793.5" r="7.3" fill="#7fdbda"/><circle cx="994.9" cy="914.6" r="7.3" fill="#e41a1c"/><circle cx="715.7" cy="874.0" r="7.3" fill="#ffd700"/><circle cx="1023.2" cy="827.5" r="7.3" fill="#ff9ec4"/><circle cx="1244.1" cy="771.8" r="7.3" fill="#ffd700"/><circle cx="706.2" cy="770.8" r="7.3" fill="#7fdbda"/><circle cx="1084.9" cy="923.0" r="7.3" fill="#999999"/><circle cx="837.0" cy="768.2" r="7.3" fill="#1e90ff"/><circle cx="931.5" cy="823.7" r="7.3" fill="#b010d0"/><circle cx="1127.7" cy="898.2" r="7.3" fill="#e8604c"/><circle cx="875.1" cy="862.8" r="7.3" fill="#999999"/><circle cx="1239.2" cy="826.3" r="7.3" fill="#7fdbda"/><circle cx="970.4" cy="892.0" r="7.3" fill="#7fdbda"/><circle cx="741.2" cy="781.1" r="7.3" fill="#1e90ff"/><circle cx="788.3" cy="842.1" r="7.3" fill="#ffd700"/><circle cx="833.0" cy="767.1" r="7.3" fill="#1e90ff"/><circle cx="721.8" cy="864.0" r="7.3" fill="#b010d0"/><circle cx="773.6" cy="841.2" r="7.3" fill="#999999"/><circle cx="793.4" cy="772.2" r="7.3" fill="#f5a623"/><circle cx="1184.7" cy="813.5" r="7.3" fill="#377eb8"/><circle cx="745.8" cy="841.3" r="7.3" fill="#377eb8"/><circle cx="758.0" cy="902.8" r="7.3" fill="#ffd700"/><circle cx="889.2" cy="893.1" r="7.3" fill="#faebd7"/><circle cx="668.6" cy="852.1" r="7.3" fill="#ff9ec4"/><circle cx="1018.0" cy="808.3" r="7.3" fill="#7fdbda"/><circle cx="1167.3" cy="923.1" r="7.3" fill="#ffd700"/><circle cx="1148.2" cy="880.0" r="7.3" fill="#faebd7"/><circle cx="649.5" cy="791.0" r="7.3" fill="#1e90ff"/><circle cx="679.1" cy="821.4" r="7.3" fill="#1e90ff"/><circle cx="824.6" cy="846.3" r="7.3" fill="#7fdbda"/><circle cx="762.9" cy="917.5" r="7.3" fill="#e41a1c"/><circle cx="958.8" cy="893.6" r="7.3" fill="#e41a1c"/><circle cx="1087.5" cy="827.9" r="7.3" fill="#7a35d6"/><circle cx="1144.5" cy="886.8" r="7.3" fill="#ffd700"/><circle cx="695.3" cy="916.1" r="7.3" fill="#ffd700"/><circle cx="1068.9" cy="804.1" r="7.3" fill="#ff9ec4"/><circle cx="647.5" cy="856.3" r="7.3" fill="#ffd700"/><circle cx="873.0" cy="823.1" r="7.3" fill="#984ea3"/><circle cx="1134.0" cy="822.3" r="7.3" fill="#7fdbda"/><circle cx="851.8" cy="808.7" r="7.3" fill="#3d9970"/><circle cx="831.8" cy="779.1" r="7.3" fill="#ffd700"/><circle cx="1091.3" cy="797.8" r="7.3" fill="#40d0b8"/><circle cx="970.6" cy="872.8" r="7.3" fill="#7fdbda"/><circle cx="698.4" cy="786.9" r="7.3" fill="#1e90ff"/><circle cx="899.2" cy="765.5" r="7.3" fill="#40d0b8"/><circle cx="882.3" cy="815.4" r="7.3" fill="#00008b"/><circle cx="1221.5" cy="796.7" r="7.3" fill="#b010d0"/><circle cx="831.3" cy="884.7" r="7.3" fill="#ffd700"/><circle cx="1243.3" cy="832.8" r="7.3" fill="#4daf4a"/><circle cx="768.7" cy="829.3" r="7.3" fill="#ffd700"/><circle cx="742.9" cy="807.7" r="7.3" fill="#7fdbda"/><circle cx="1218.7" cy="815.6" r="7.3" fill="#7fdbda"/><circle cx="853.7" cy="922.3" r="7.3" fill="#1e90ff"/><circle cx="1025.3" cy="824.5" r="7.3" fill="#1e90ff"/><circle cx="764.2" cy="862.6" r="7.3" fill="#3d9970"/><circle cx="1162.2" cy="864.6" r="7.3" fill="#ffd700"/><circle cx="983.9" cy="782.3" r="7.3" fill="#00008b"/><circle cx="1059.3" cy="836.5" r="7.3" fill="#ffd700"/><circle cx="892.2" cy="825.5" r="7.3" fill="#7fdbda"/><circle cx="1004.2" cy="855.6" r="7.3" fill="#984ea3"/><circle cx="652.9" cy="864.4" r="7.3" fill="#00008b"/><circle cx="999.7" cy="859.1" r="7.3" fill="#faebd7"/><circle cx="726.9" cy="839.0" r="7.3" fill="#ffd700"/><circle cx="1089.1" cy="814.1" r="7.3" fill="#ffd700"/><circle cx="1244.5" cy="828.3" r="7.3" fill="#7fdbda"/><circle cx="711.3" cy="922.4" r="7.3" fill="#ffd700"/><circle cx="777.7" cy="898.4" r="7.3" fill="#faebd7"/><circle cx="1212.5" cy="896.7" r="7.3" fill="#3d9970"/><circle cx="949.2" cy="923.0" r="7.3" fill="#f05050"/><circle cx="1170.7" cy="877.9" r="7.3" fill="#377eb8"/><circle cx="1131.8" cy="836.7" r="7.3" fill="#a65628"/><circle cx="1167.9" cy="795.4" r="7.3" fill="#b010d0"/><circle cx="1030.8" cy="775.8" r="7.3" fill="#999999"/><circle cx="1119.4" cy="842.5" r="7.3" fill="#b010d0"/><circle cx="1127.4" cy="900.8" r="7.3" fill="#a65628"/><circle cx="972.5" cy="908.9" r="7.3" fill="#7fdbda"/><circle cx="726.8" cy="822.5" r="7.3" fill="#f05050"/><circle cx="655.7" cy="819.3" r="7.3" fill="#4daf4a"/><circle cx="1148.3" cy="782.8" r="7.3" fill="#ffd700"/><circle cx="873.2" cy="899.9" r="7.3" fill="#1e90ff"/><circle cx="1190.3" cy="775.5" r="7.3" fill="#3d9970"/><circle cx="760.8" cy="864.7" r="7.3" fill="#ffd700"/><circle cx="1082.7" cy="795.5" r="7.3" fill="#ffd700"/><circle cx="899.2" cy="766.5" r="7.3" fill="#7fdbda"/><circle cx="827.9" cy="864.8" r="7.3" fill="#40d0b8"/><circle cx="1005.7" cy="875.2" r="7.3" fill="#999999"/><circle cx="712.1" cy="875.0" r="7.3" fill="#1e90ff"/><circle cx="712.8" cy="782.6" r="7.3" fill="#faebd7"/><circle cx="1010.0" cy="821.2" r="7.3" fill="#ffd700"/><circle cx="1247.8" cy="874.7" r="7.3" fill="#984ea3"/><circle cx="855.7" cy="813.6" r="7.3" fill="#7fdbda"/><circle cx="723.4" cy="865.0" r="7.3" fill="#ff9ec4"/><circle cx="1139.9" cy="829.4" r="7.3" fill="#ff9ec4"/><circle cx="946.0" cy="914.7" r="7.3" fill="#faebd7"/><circle cx="1067.8" cy="801.6" r="7.3" fill="#40d0b8"/><circle cx="809.1" cy="903.6" r="7.3" fill="#b010d0"/><circle cx="1161.1" cy="872.3" r="7.3" fill="#999999"/><circle cx="1210.0" cy="826.0" r="7.3" fill="#faebd7"/><circle cx="1004.6" cy="835.7" r="7.3" fill="#7fdbda"/><circle cx="892.0" cy="809.0" r="7.3" fill="#377eb8"/><circle cx="1222.9" cy="810.9" r="7.3" fill="#faebd7"/><circle cx="1048.3" cy="803.2" r="7.3" fill="#7fdbda"/><circle cx="714.7" cy="907.3" r="7.3" fill="#ff9ec4"/><circle cx="893.0" cy="818.7" r="7.3" fill="#a65628"/><circle cx="1158.5" cy="858.5" r="7.3" fill="#ffd700"/><circle cx="694.4" cy="907.4" r="7.3" fill="#b010d0"/><circle cx="857.7" cy="823.9" r="7.3" fill="#4daf4a"/><circle cx="1046.6" cy="819.0" r="7.3" fill="#7fdbda"/><circle cx="1219.9" cy="767.7" r="7.3" fill="#ffd700"/><circle cx="923.0" cy="821.9" r="7.3" fill="#3d9970"/><circle cx="828.3" cy="871.3" r="7.3" fill="#faebd7"/><circle cx="1232.7" cy="920.2" r="7.3" fill="#3d9970"/><circle cx="877.2" cy="896.6" r="7.3" fill="#ffd700"/><circle cx="1066.2" cy="923.6" r="7.3" fill="#7fdbda"/><circle cx="918.7" cy="828.2" r="7.3" fill="#377eb8"/><circle cx="767.8" cy="922.4" r="7.3" fill="#7fdbda"/><circle cx="861.6" cy="786.9" r="7.3" fill="#984ea3"/><circle cx="1091.4" cy="777.4" r="7.3" fill="#ff9ec4"/><circle cx="1034.1" cy="863.7" r="7.3" fill="#1e90ff"/><circle cx="789.6" cy="893.8" r="7.3" fill="#7fdbda"/><circle cx="1112.6" cy="783.2" r="7.3" fill="#7fdbda"/><circle cx="642.8" cy="901.5" r="7.3" fill="#faebd7"/><circle cx="1186.6" cy="767.9" r="7.3" fill="#ffd700"/><circle cx="964.2" cy="849.4" r="7.3" fill="#40d0b8"/><circle cx="1120.7" cy="812.2" r="7.3" fill="#4daf4a"/><circle cx="710.0" cy="854.9" r="7.3" fill="#00008b"/><circle cx="687.6" cy="846.0" r="7.3" fill="#1e90ff"/><circle cx="1113.5" cy="803.5" r="7.3" fill="#999999"/><circle cx="666.6" cy="798.8" r="7.3" fill="#ff9ec4"/><circle cx="977.9" cy="837.5" r="7.3" fill="#faebd7"/><circle cx="697.5" cy="900.0" r="7.3" fill="#ffd700"/><circle cx="1232.7" cy="848.0" r="7.3" fill="#1e90ff"/><circle cx="1011.3" cy="902.2" r="7.3" fill="#ff9ec4"/><circle cx="888.5" cy="765.7" r="7.3" fill="#ffd700"/><circle cx="1138.8" cy="881.5" r="7.3" fill="#1e90ff"/><circle cx="729.8" cy="849.0" r="7.3" fill="#7fdbda"/><circle cx="701.1" cy="812.1" r="7.3" fill="#e41a1c"/><circle cx="1030.4" cy="899.6" r="7.3" fill="#ffd700"/><circle cx="890.2" cy="776.5" r="7.3" fill="#e41a1c"/><circle cx="702.1" cy="911.0" r="7.3" fill="#f781bf"/><circle cx="935.2" cy="868.6" r="7.3" fill="#40d0b8"/><circle cx="1217.9" cy="854.9" r="7.3" fill="#ffd700"/><circle cx="1191.6" cy="827.1" r="7.3" fill="#00008b"/><circle cx="1089.9" cy="805.3" r="7.3" fill="#999999"/><circle cx="898.3" cy="840.3" r="7.3" fill="#0d9494"/><circle cx="899.0" cy="836.1" r="7.3" fill="#f5a623"/><circle cx="1149.4" cy="773.9" r="7.3" fill="#377eb8"/><circle cx="971.4" cy="828.0" r="7.3" fill="#b010d0"/><circle cx="694.3" cy="823.5" r="7.3" fill="#984ea3"/><circle cx="932.1" cy="800.9" r="7.3" fill="#7f6db3"/><circle cx="934.2" cy="765.4" r="7.3" fill="#7fdbda"/><circle cx="1230.2" cy="765.1" r="7.3" fill="#ff9ec4"/><circle cx="1226.8" cy="822.5" r="7.3" fill="#b010d0"/><circle cx="861.0" cy="812.2" r="7.3" fill="#3d9970"/><circle cx="997.3" cy="814.4" r="7.3" fill="#3d9970"/><circle cx="952.0" cy="884.6" r="7.3" fill="#00008b"/><circle cx="690.4" cy="804.3" r="7.3" fill="#377eb8"/><circle cx="1124.7" cy="832.1" r="7.3" fill="#999999"/><circle cx="881.6" cy="809.7" r="7.3" fill="#ffd700"/><circle cx="685.8" cy="921.5" r="7.3" fill="#7fdbda"/><circle cx="835.8" cy="814.8" r="7.3" fill="#ffd700"/><circle cx="1120.2" cy="866.8" r="7.3" fill="#ffd700"/><circle cx="1104.9" cy="771.7" r="7.3" fill="#377eb8"/><circle cx="974.2" cy="912.4" r="7.3" fill="#3d9970"/><circle cx="646.8" cy="913.5" r="7.3" fill="#3d9970"/><circle cx="991.3" cy="764.9" r="7.3" fill="#7fdbda"/><circle cx="891.5" cy="872.7" r="7.3" fill="#7fdbda"/><circle cx="1199.6" cy="776.0" r="7.3" fill="#ffd700"/><circle cx="905.2" cy="884.2" r="7.3" fill="#7fdbda"/><circle cx="909.7" cy="833.9" r="7.3" fill="#0d9494"/><circle cx="830.7" cy="881.6" r="7.3" fill="#1e90ff"/><circle cx="704.6" cy="897.4" r="7.3" fill="#377eb8"/><circle cx="971.7" cy="782.1" r="7.3" fill="#7fdbda"/><circle cx="824.6" cy="916.6" r="7.3" fill="#1e90ff"/><circle cx="1203.0" cy="797.8" r="7.3" fill="#b010d0"/><circle cx="964.5" cy="898.3" r="7.3" fill="#ff9ec4"/><circle cx="1173.0" cy="839.6" r="7.3" fill="#1e90ff"/><circle cx="899.9" cy="824.4" r="7.3" fill="#e41a1c"/><circle cx="1206.6" cy="843.0" r="7.3" fill="#7fdbda"/><circle cx="872.8" cy="888.6" r="7.3" fill="#7fdbda"/><circle cx="1091.8" cy="790.6" r="7.3" fill="#4daf4a"/><circle cx="757.9" cy="819.4" r="7.3" fill="#b010d0"/><circle cx="849.1" cy="858.6" r="7.3" fill="#1e90ff"/><circle cx="873.1" cy="855.9" r="7.3" fill="#00008b"/><circle cx="854.4" cy="857.4" r="7.3" fill="#ffd700"/><circle cx="1239.0" cy="816.5" r="7.3" fill="#faebd7"/><circle cx="777.4" cy="805.8" r="7.3" fill="#7fdbda"/><circle cx="988.3" cy="805.1" r="7.3" fill="#7fdbda"/><circle cx="1142.7" cy="824.4" r="7.3" fill="#377eb8"/><circle cx="900.4" cy="862.8" r="7.3" fill="#7fdbda"/><circle cx="1236.0" cy="909.5" r="7.3" fill="#b010d0"/><circle cx="933.8" cy="801.0" r="7.3" fill="#faebd7"/><circle cx="696.2" cy="813.0" r="7.3" fill="#7fdbda"/><circle cx="654.7" cy="875.8" r="7.3" fill="#ffd700"/><circle cx="973.8" cy="817.3" r="7.3" fill="#b010d0"/><circle cx="1220.6" cy="886.4" r="7.3" fill="#1e90ff"/><circle cx="693.4" cy="889.5" r="7.3" fill="#ffd700"/><circle cx="756.1" cy="849.6" r="7.3" fill="#984ea3"/><circle cx="707.7" cy="886.4" r="7.3" fill="#3d9970"/><circle cx="1188.8" cy="911.8" r="7.3" fill="#b010d0"/><circle cx="858.0" cy="916.2" r="7.3" fill="#7fdbda"/><circle cx="812.8" cy="901.2" r="7.3" fill="#7fdbda"/><circle cx="796.6" cy="803.9" r="7.3" fill="#7fdbda"/><circle cx="965.0" cy="804.6" r="7.3" fill="#e41a1c"/><circle cx="789.3" cy="785.0" r="7.3" fill="#999999"/><circle cx="801.5" cy="809.6" r="7.3" fill="#faebd7"/><circle cx="947.7" cy="903.8" r="7.3" fill="#999999"/><circle cx="1164.2" cy="900.8" r="7.3" fill="#1e90ff"/><circle cx="969.1" cy="881.4" r="7.3" fill="#3d9970"/><circle cx="1040.9" cy="911.1" r="7.3" fill="#b010d0"/><circle cx="793.6" cy="772.7" r="7.3" fill="#7fdbda"/><circle cx="857.1" cy="890.0" r="7.3" fill="#ffd700"/><circle cx="912.9" cy="823.3" r="7.3" fill="#f0962e"/><circle cx="1216.2" cy="844.9" r="7.3" fill="#7fdbda"/><circle cx="848.5" cy="801.1" r="7.3" fill="#b010d0"/><circle cx="701.1" cy="914.5" r="7.3" fill="#ffd700"/><circle cx="677.4" cy="908.3" r="7.3" fill="#7fdbda"/><circle cx="982.4" cy="783.2" r="7.3" fill="#4daf4a"/><circle cx="824.2" cy="903.5" r="7.3" fill="#ffd700"/><circle cx="1044.8" cy="774.9" r="7.3" fill="#377eb8"/><circle cx="985.8" cy="921.2" r="7.3" fill="#e41a1c"/><circle cx="1161.6" cy="889.6" r="7.3" fill="#7fdbda"/><circle cx="680.7" cy="848.3" r="7.3" fill="#00008b"/><circle cx="958.5" cy="820.7" r="7.3" fill="#1e90ff"/><circle cx="755.1" cy="876.8" r="7.3" fill="#00008b"/><circle cx="933.3" cy="776.6" r="7.3" fill="#ff9ec4"/><circle cx="977.6" cy="919.6" r="7.3" fill="#faebd7"/><circle cx="716.4" cy="812.0" r="7.3" fill="#b010d0"/><circle cx="1066.9" cy="914.2" r="7.3" fill="#40d0b8"/><circle cx="1220.1" cy="912.1" r="7.3" fill="#ffd700"/><circle cx="1210.8" cy="767.2" r="7.3" fill="#ffd700"/><circle cx="998.0" cy="873.7" r="7.3" fill="#faebd7"/><circle cx="1011.9" cy="913.3" r="7.3" fill="#3d9970"/><circle cx="953.9" cy="917.5" r="7.3" fill="#4daf4a"/><circle cx="702.1" cy="903.0" r="7.3" fill="#e41a1c"/><circle cx="647.9" cy="769.1" r="7.3" fill="#ffd700"/><circle cx="1058.5" cy="847.2" r="7.3" fill="#ffd700"/><circle cx="1101.1" cy="893.2" r="7.3" fill="#b010d0"/><circle cx="675.0" cy="891.1" r="7.3" fill="#e41a1c"/><circle cx="1148.0" cy="829.2" r="7.3" fill="#ffd700"/><circle cx="847.3" cy="766.4" r="7.3" fill="#40d0b8"/><circle cx="795.1" cy="857.7" r="7.3" fill="#7fdbda"/><circle cx="840.3" cy="872.0" r="7.3" fill="#b010d0"/><circle cx="777.9" cy="905.1" r="7.3" fill="#faebd7"/><circle cx="725.7" cy="804.5" r="7.3" fill="#1e90ff"/><circle cx="1117.3" cy="817.3" r="7.3" fill="#faebd7"/><circle cx="1037.4" cy="805.6" r="7.3" fill="#a65628"/><circle cx="790.5" cy="904.3" r="7.3" fill="#b010d0"/><circle cx="776.5" cy="812.2" r="7.3" fill="#1e90ff"/><circle cx="1081.9" cy="871.9" r="7.3" fill="#40d0b8"/><circle cx="966.8" cy="776.6" r="7.3" fill="#8b4513"/><circle cx="784.1" cy="798.9" r="7.3" fill="#7fdbda"/><circle cx="1244.7" cy="823.3" r="7.3" fill="#ff9ec4"/><circle cx="1196.0" cy="922.5" r="7.3" fill="#a6e3b0"/><circle cx="716.8" cy="890.3" r="7.3" fill="#0d9494"/><circle cx="842.0" cy="890.5" r="7.3" fill="#7fdbda"/><circle cx="810.4" cy="858.9" r="7.3" fill="#0d9494"/><circle cx="927.1" cy="894.9" r="7.3" fill="#7fdbda"/><circle cx="941.4" cy="824.9" r="7.3" fill="#e41a1c"/><circle cx="1198.2" cy="787.0" r="7.3" fill="#377eb8"/><circle cx="1175.7" cy="917.7" r="7.3" fill="#984ea3"/><circle cx="844.3" cy="912.9" r="7.3" fill="#ffd700"/><circle cx="1074.6" cy="915.3" r="7.3" fill="#1e90ff"/><circle cx="716.9" cy="872.5" r="7.3" fill="#984ea3"/><circle cx="1082.0" cy="915.9" r="7.3" fill="#ffd700"/><circle cx="863.1" cy="783.2" r="7.3" fill="#faebd7"/><circle cx="1213.2" cy="775.5" r="7.3" fill="#999999"/><circle cx="847.8" cy="771.9" r="7.3" fill="#1e90ff"/><circle cx="746.0" cy="783.6" r="7.3" fill="#e8604c"/><circle cx="966.9" cy="854.8" r="7.3" fill="#b010d0"/><circle cx="958.5" cy="915.5" r="7.3" fill="#7fdbda"/><circle cx="770.8" cy="776.3" r="7.3" fill="#4daf4a"/><circle cx="1103.1" cy="911.9" r="7.3" fill="#e8604c"/><circle cx="732.1" cy="816.9" r="7.3" fill="#00008b"/><circle cx="815.0" cy="890.8" r="7.3" fill="#b010d0"/><circle cx="917.1" cy="860.5" r="7.3" fill="#ffd700"/><circle cx="920.4" cy="794.5" r="7.3" fill="#ffd700"/><circle cx="1237.3" cy="767.9" r="7.3" fill="#ffd700"/><circle cx="880.5" cy="772.3" r="7.3" fill="#7fdbda"/><circle cx="739.9" cy="881.8" r="7.3" fill="#1e90ff"/><circle cx="645.1" cy="799.2" r="7.3" fill="#984ea3"/><circle cx="941.5" cy="868.4" r="7.3" fill="#3cc07c"/><circle cx="745.8" cy="766.4" r="7.3" fill="#faebd7"/><circle cx="658.7" cy="805.7" r="7.3" fill="#999999"/><circle cx="861.3" cy="839.7" r="7.3" fill="#3d9970"/><circle cx="829.0" cy="821.1" r="7.3" fill="#3d9970"/><circle cx="992.0" cy="830.7" r="7.3" fill="#ffd700"/><circle cx="917.5" cy="817.2" r="7.3" fill="#b010d0"/><circle cx="777.2" cy="913.7" r="7.3" fill="#ffd700"/><circle cx="1178.1" cy="790.0" r="7.3" fill="#ffd700"/><circle cx="1241.5" cy="810.2" r="7.3" fill="#00008b"/><circle cx="1080.1" cy="801.6" r="7.3" fill="#1e90ff"/><circle cx="730.4" cy="915.6" r="7.3" fill="#b010d0"/><circle cx="692.9" cy="874.0" r="7.3" fill="#999999"/><circle cx="978.7" cy="843.6" r="7.3" fill="#40d0b8"/><circle cx="950.8" cy="824.6" r="7.3" fill="#ffd700"/><circle cx="939.8" cy="807.1" r="7.3" fill="#e41a1c"/><circle cx="1023.5" cy="838.0" r="7.3" fill="#b010d0"/><circle cx="940.5" cy="841.1" r="7.3" fill="#4daf4a"/><circle cx="1232.5" cy="808.8" r="7.3" fill="#3d9970"/><circle cx="685.3" cy="892.0" r="7.3" fill="#faebd7"/><circle cx="1145.4" cy="891.7" r="7.3" fill="#f0962e"/><circle cx="1190.9" cy="844.6" r="7.3" fill="#f781bf"/><circle cx="976.1" cy="915.3" r="7.3" fill="#bfe8e0"/><circle cx="931.0" cy="810.5" r="7.3" fill="#faebd7"/><circle cx="943.9" cy="818.8" r="7.3" fill="#ffd700"/><circle cx="766.0" cy="897.5" r="7.3" fill="#984ea3"/><circle cx="1237.8" cy="910.7" r="7.3" fill="#ffd700"/><circle cx="1125.8" cy="877.9" r="7.3" fill="#7fdbda"/><circle cx="1128.2" cy="792.2" r="7.3" fill="#ffd700"/><circle cx="820.4" cy="803.1" r="7.3" fill="#ffd700"/><circle cx="647.1" cy="845.9" r="7.3" fill="#ffd700"/><circle cx="1122.3" cy="861.7" r="7.3" fill="#40d0b8"/><circle cx="1209.3" cy="867.1" r="7.3" fill="#ffd700"/><circle cx="1045.3" cy="781.5" r="7.3" fill="#377eb8"/><circle cx="1171.5" cy="813.7" r="7.3" fill="#ffd700"/><circle cx="1062.0" cy="885.3" r="7.3" fill="#1e90ff"/><circle cx="1017.9" cy="784.0" r="7.3" fill="#ffd700"/><circle cx="669.2" cy="902.8" r="7.3" fill="#7fdbda"/><circle cx="1118.4" cy="903.8" r="7.3" fill="#7fdbda"/><circle cx="1216.0" cy="866.3" r="7.3" fill="#b010d0"/><circle cx="870.6" cy="820.5" r="7.3" fill="#faebd7"/><circle cx="732.5" cy="891.3" r="7.3" fill="#e41a1c"/><circle cx="1036.9" cy="888.0" r="7.3" fill="#984ea3"/><circle cx="951.8" cy="814.6" r="7.3" fill="#7fdbda"/><circle cx="748.8" cy="867.7" r="7.3" fill="#999999"/><circle cx="1215.3" cy="816.9" r="7.3" fill="#7fdbda"/><circle cx="1196.3" cy="810.5" r="7.3" fill="#ffd700"/><circle cx="1015.8" cy="918.0" r="7.3" fill="#ffd700"/><circle cx="839.0" cy="808.7" r="7.3" fill="#7fdbda"/><circle cx="934.5" cy="769.7" r="7.3" fill="#b010d0"/><circle cx="963.9" cy="839.7" r="7.3" fill="#ffd700"/><circle cx="787.4" cy="795.9" r="7.3" fill="#7fdbda"/><circle cx="782.1" cy="816.4" r="7.3" fill="#b010d0"/><circle cx="665.2" cy="820.8" r="7.3" fill="#377eb8"/><circle cx="1219.4" cy="866.3" r="7.3" fill="#b010d0"/><circle cx="884.4" cy="801.7" r="7.3" fill="#ff9ec4"/><circle cx="1225.7" cy="783.5" r="7.3" fill="#faebd7"/><circle cx="1056.7" cy="886.0" r="7.3" fill="#faebd7"/><circle cx="1029.2" cy="914.1" r="7.3" fill="#b010d0"/><circle cx="788.2" cy="850.6" r="7.3" fill="#ffd700"/><circle cx="959.1" cy="794.3" r="7.3" fill="#ffd700"/><circle cx="668.2" cy="788.1" r="7.3" fill="#7fdbda"/><circle cx="801.4" cy="879.1" r="7.3" fill="#b010d0"/><circle cx="830.3" cy="886.7" r="7.3" fill="#7fdbda"/><circle cx="1069.3" cy="837.1" r="7.3" fill="#3d9970"/><circle cx="698.9" cy="840.0" r="7.3" fill="#faebd7"/><circle cx="1182.1" cy="773.0" r="7.3" fill="#ffd700"/><circle cx="799.5" cy="875.1" r="7.3" fill="#377eb8"/><circle cx="712.0" cy="832.1" r="7.3" fill="#faebd7"/><circle cx="1092.9" cy="828.5" r="7.3" fill="#b010d0"/><circle cx="1054.1" cy="862.5" r="7.3" fill="#7fdbda"/><circle cx="1072.1" cy="784.6" r="7.3" fill="#e41a1c"/><circle cx="925.7" cy="766.7" r="7.3" fill="#377eb8"/><circle cx="874.6" cy="839.0" r="7.3" fill="#377eb8"/><circle cx="1222.4" cy="900.3" r="7.3" fill="#4daf4a"/><circle cx="996.2" cy="814.5" r="7.3" fill="#faebd7"/><circle cx="707.1" cy="812.7" r="7.3" fill="#ffd700"/><circle cx="1168.0" cy="845.4" r="7.3" fill="#984ea3"/><circle cx="879.5" cy="905.9" r="7.3" fill="#ff9ec4"/><circle cx="1122.0" cy="877.3" r="7.3" fill="#f781bf"/><circle cx="859.1" cy="833.9" r="7.3" fill="#faebd7"/><circle cx="828.0" cy="863.8" r="7.3" fill="#faebd7"/><circle cx="820.7" cy="887.6" r="7.3" fill="#ff9ec4"/><circle cx="925.7" cy="904.7" r="7.3" fill="#faebd7"/><circle cx="865.4" cy="907.7" r="7.3" fill="#faebd7"/><circle cx="1118.6" cy="828.2" r="7.3" fill="#ffd700"/><circle cx="1090.9" cy="811.4" r="7.3" fill="#7fdbda"/><circle cx="1220.0" cy="868.9" r="7.3" fill="#7fdbda"/><circle cx="901.9" cy="868.5" r="7.3" fill="#7fdbda"/><circle cx="1109.1" cy="850.3" r="7.3" fill="#984ea3"/><circle cx="844.2" cy="877.9" r="7.3" fill="#ffd700"/><circle cx="890.2" cy="886.6" r="7.3" fill="#e41a1c"/><circle cx="1012.2" cy="799.3" r="7.3" fill="#f781bf"/><circle cx="1247.1" cy="795.5" r="7.3" fill="#ff9ec4"/><circle cx="669.9" cy="857.3" r="7.3" fill="#ffd700"/><circle cx="1150.5" cy="826.6" r="7.3" fill="#ffd700"/><circle cx="1073.1" cy="885.9" r="7.3" fill="#b010d0"/><circle cx="990.8" cy="804.3" r="7.3" fill="#7fdbda"/><circle cx="979.9" cy="851.1" r="7.3" fill="#7fdbda"/><circle cx="717.3" cy="888.9" r="7.3" fill="#ffd700"/><circle cx="1082.0" cy="916.1" r="7.3" fill="#40d0b8"/><circle cx="983.5" cy="848.5" r="7.3" fill="#999999"/><circle cx="736.2" cy="864.1" r="7.3" fill="#faebd7"/><circle cx="1042.9" cy="810.3" r="7.3" fill="#ffd700"/><circle cx="892.6" cy="787.2" r="7.3" fill="#ffd700"/><circle cx="917.5" cy="848.8" r="7.3" fill="#3d9970"/><circle cx="984.9" cy="916.6" r="7.3" fill="#ffd700"/><circle cx="1102.0" cy="776.1" r="7.3" fill="#40d0b8"/><circle cx="1060.6" cy="874.4" r="7.3" fill="#999999"/><circle cx="867.9" cy="807.8" r="7.3" fill="#ffd700"/><circle cx="965.1" cy="767.9" r="7.3" fill="#f5a623"/><circle cx="1039.2" cy="787.8" r="7.3" fill="#0d9494"/><circle cx="1172.3" cy="913.4" r="7.3" fill="#7f6db3"/><circle cx="743.0" cy="782.8" r="7.3" fill="#a65628"/><circle cx="1123.7" cy="882.2" r="7.3" fill="#4daf4a"/><circle cx="935.3" cy="875.3" r="7.3" fill="#999999"/><circle cx="1139.1" cy="901.5" r="7.3" fill="#e41a1c"/><circle cx="1067.7" cy="875.9" r="7.3" fill="#984ea3"/><circle cx="1175.9" cy="798.9" r="7.3" fill="#40d0b8"/><circle cx="826.9" cy="834.7" r="7.3" fill="#faebd7"/><circle cx="985.2" cy="861.5" r="7.3" fill="#ffd700"/><circle cx="771.1" cy="799.6" r="7.3" fill="#ffd700"/><circle cx="725.8" cy="918.3" r="7.3" fill="#3d9970"/><circle cx="904.9" cy="833.0" r="7.3" fill="#40d0b8"/><circle cx="1198.7" cy="872.3" r="7.3" fill="#ffd700"/><circle cx="852.5" cy="877.0" r="7.3" fill="#1e90ff"/><circle cx="1178.5" cy="903.6" r="7.3" fill="#984ea3"/><circle cx="858.1" cy="800.6" r="7.3" fill="#984ea3"/><circle cx="662.1" cy="875.3" r="7.3" fill="#7fdbda"/><circle cx="1152.8" cy="850.9" r="7.3" fill="#377eb8"/><circle cx="691.8" cy="771.1" r="7.3" fill="#b010d0"/><circle cx="1241.6" cy="860.0" r="7.3" fill="#40d0b8"/><circle cx="671.7" cy="780.3" r="7.3" fill="#ffd700"/><circle cx="1063.7" cy="792.2" r="7.3" fill="#e41a1c"/><circle cx="1045.2" cy="875.3" r="7.3" fill="#999999"/><circle cx="921.9" cy="810.2" r="7.3" fill="#7be02f"/><circle cx="852.9" cy="821.6" r="7.3" fill="#b010d0"/><circle cx="813.6" cy="805.8" r="7.3" fill="#a65628"/><circle cx="824.8" cy="858.7" r="7.3" fill="#e41a1c"/><circle cx="702.8" cy="899.4" r="7.3" fill="#999999"/><circle cx="949.3" cy="813.9" r="7.3" fill="#faebd7"/><circle cx="1099.0" cy="863.6" r="7.3" fill="#ffd700"/><circle cx="1060.9" cy="844.1" r="7.3" fill="#7fdbda"/><circle cx="874.0" cy="844.7" r="7.3" fill="#ff9ec4"/><circle cx="959.9" cy="849.3" r="7.3" fill="#faebd7"/><circle cx="1184.6" cy="799.8" r="7.3" fill="#8b4513"/><circle cx="819.0" cy="769.1" r="7.3" fill="#e41a1c"/><circle cx="1016.4" cy="809.7" r="7.3" fill="#f05050"/><circle cx="1169.8" cy="897.8" r="7.3" fill="#984ea3"/><circle cx="1060.5" cy="883.1" r="7.3" fill="#7fdbda"/><circle cx="878.6" cy="852.5" r="7.3" fill="#faebd7"/><circle cx="1245.7" cy="910.7" r="7.3" fill="#ffd700"/><circle cx="679.0" cy="803.5" r="7.3" fill="#ffd700"/><circle cx="968.9" cy="846.4" r="7.3" fill="#ffd700"/><circle cx="1165.7" cy="846.7" r="7.3" fill="#e8604c"/><circle cx="679.7" cy="922.9" r="7.3" fill="#ffd700"/><circle cx="724.6" cy="826.3" r="7.3" fill="#e41a1c"/><circle cx="701.4" cy="854.0" r="7.3" fill="#3d9970"/><circle cx="902.1" cy="886.0" r="7.3" fill="#ffd700"/><circle cx="992.9" cy="791.7" r="7.3" fill="#b010d0"/><circle cx="1189.4" cy="871.9" r="7.3" fill="#faebd7"/><circle cx="909.2" cy="851.0" r="7.3" fill="#984ea3"/><circle cx="990.1" cy="865.1" r="7.3" fill="#40d0b8"/><circle cx="769.0" cy="869.1" r="7.3" fill="#e41a1c"/><circle cx="678.0" cy="885.9" r="7.3" fill="#984ea3"/><circle cx="1224.9" cy="853.4" r="7.3" fill="#40d0b8"/><circle cx="1026.6" cy="806.0" r="7.3" fill="#4daf4a"/><circle cx="1080.5" cy="885.3" r="7.3" fill="#ffd700"/><circle cx="654.1" cy="891.7" r="7.3" fill="#377eb8"/><circle cx="757.7" cy="768.8" r="7.3" fill="#1e90ff"/><circle cx="925.7" cy="917.3" r="7.3" fill="#1e90ff"/><circle cx="793.3" cy="896.5" r="7.3" fill="#7be02f"/><circle cx="1025.5" cy="862.4" r="7.3" fill="#1e90ff"/><circle cx="660.0" cy="854.1" r="7.3" fill="#ffd700"/><circle cx="1142.0" cy="804.4" r="7.3" fill="#0d9494"/><circle cx="747.5" cy="843.2" r="7.3" fill="#7fdbda"/><circle cx="781.3" cy="808.6" r="7.3" fill="#ffd700"/><circle cx="1049.8" cy="774.5" r="7.3" fill="#ffd700"/><circle cx="779.6" cy="810.4" r="7.3" fill="#1e90ff"/><circle cx="1065.9" cy="920.8" r="7.3" fill="#ffd700"/><circle cx="1021.0" cy="825.3" r="7.3" fill="#7fdbda"/><circle cx="938.0" cy="773.4" r="7.3" fill="#7fdbda"/><circle cx="870.4" cy="849.0" r="7.3" fill="#faebd7"/><circle cx="650.3" cy="921.3" r="7.3" fill="#377eb8"/><circle cx="837.0" cy="787.7" r="7.3" fill="#0d9494"/><circle cx="1198.3" cy="792.9" r="7.3" fill="#b010d0"/><circle cx="941.8" cy="886.5" r="7.3" fill="#00008b"/><circle cx="780.6" cy="794.3" r="7.3" fill="#b010d0"/><circle cx="681.3" cy="902.4" r="7.3" fill="#7fdbda"/><circle cx="750.1" cy="838.8" r="7.3" fill="#e41a1c"/><circle cx="1015.9" cy="883.3" r="7.3" fill="#ffd700"/><circle cx="1079.4" cy="772.3" r="7.3" fill="#7fdbda"/><circle cx="724.3" cy="790.0" r="7.3" fill="#ffd700"/><circle cx="650.5" cy="904.3" r="7.3" fill="#e41a1c"/><circle cx="686.5" cy="771.5" r="7.3" fill="#0d9494"/><circle cx="1004.8" cy="910.6" r="7.3" fill="#ffd700"/><circle cx="702.6" cy="809.9" r="7.3" fill="#e41a1c"/><circle cx="702.3" cy="796.1" r="7.3" fill="#984ea3"/><circle cx="736.9" cy="791.0" r="7.3" fill="#3d9970"/><circle cx="865.1" cy="787.9" r="7.3" fill="#b010d0"/><circle cx="946.9" cy="826.1" r="7.3" fill="#b010d0"/><circle cx="657.6" cy="862.4" r="7.3" fill="#faebd7"/><circle cx="840.5" cy="765.5" r="7.3" fill="#984ea3"/><circle cx="996.2" cy="826.7" r="7.3" fill="#ffd700"/><circle cx="1213.8" cy="785.1" r="7.3" fill="#b010d0"/><circle cx="1070.6" cy="823.5" r="7.3" fill="#0d9494"/><circle cx="1194.3" cy="770.5" r="7.3" fill="#7fdbda"/><circle cx="814.0" cy="884.0" r="7.3" fill="#999999"/><circle cx="1065.3" cy="912.0" r="7.3" fill="#7fdbda"/><circle cx="876.1" cy="900.5" r="7.3" fill="#1e90ff"/><circle cx="702.6" cy="920.8" r="7.3" fill="#7fdbda"/><circle cx="1168.1" cy="821.9" r="7.3" fill="#7fdbda"/><circle cx="1225.5" cy="907.7" r="7.3" fill="#3d9970"/><circle cx="1183.0" cy="923.8" r="7.3" fill="#b010d0"/><circle cx="1038.3" cy="917.7" r="7.3" fill="#ffd700"/><circle cx="882.5" cy="854.3" r="7.3" fill="#1e90ff"/><circle cx="1115.5" cy="773.9" r="7.3" fill="#1e90ff"/><circle cx="805.8" cy="815.7" r="7.3" fill="#3d9970"/><circle cx="751.3" cy="835.6" r="7.3" fill="#3d9970"/><circle cx="1242.9" cy="806.0" r="7.3" fill="#ffd700"/><circle cx="1061.7" cy="794.4" r="7.3" fill="#f5a623"/><circle cx="755.8" cy="853.1" r="7.3" fill="#ffd700"/><circle cx="633.7" cy="764.2" r="7.3" fill="#40d0b8"/><circle cx="835.8" cy="808.0" r="7.3" fill="#e41a1c"/><circle cx="1027.1" cy="774.4" r="7.3" fill="#ffd700"/><circle cx="776.7" cy="841.0" r="7.3" fill="#7fdbda"/><circle cx="1162.4" cy="913.6" r="7.3" fill="#7fdbda"/><circle cx="829.4" cy="827.6" r="7.3" fill="#ff9ec4"/><circle cx="1091.3" cy="838.1" r="7.3" fill="#7f6db3"/><circle cx="726.9" cy="889.2" r="7.3" fill="#7fdbda"/><circle cx="758.5" cy="862.7" r="7.3" fill="#ffd700"/>
</g>
<rect x="101.0" y="1027.2" width="51.2" height="25.2" fill="#e41a1c"/>
<line x1="126.6" y1="1052.4" x2="126.6" y2="1062.6" stroke="#444" stroke-width="1.3"/>
<text transform="translate(134.8 1078.0) rotate(-60)" font-size="19" text-anchor="end" textLength="137.9" lengthAdjust="spacingAndGlyphs">(−)-Epicatechin</text>
<rect x="157.6" y="1036.2" width="51.2" height="16.2" fill="#377eb8"/>
<line x1="183.2" y1="1052.4" x2="183.2" y2="1062.6" stroke="#444" stroke-width="1.3"/>
<text transform="translate(191.4 1078.0) rotate(-60)" font-size="19" text-anchor="end" textLength="222.0" lengthAdjust="spacingAndGlyphs">(−)-Epicatechin 3-gallate</text>
<rect x="214.3" y="1032.0" width="51.2" height="20.4" fill="#4daf4a"/>
<line x1="239.9" y1="1052.4" x2="239.9" y2="1062.6" stroke="#444" stroke-width="1.3"/>
<text transform="translate(248.1 1078.0) rotate(-60)" font-size="19" text-anchor="end" textLength="181.1" lengthAdjust="spacingAndGlyphs">(−)-Epigallocatechin</text>
<rect x="270.9" y="1014.7" width="51.2" height="37.7" fill="#1e90ff"/>
<line x1="296.5" y1="1052.4" x2="296.5" y2="1062.6" stroke="#444" stroke-width="1.3"/>
<text transform="translate(304.7 1078.0) rotate(-60)" font-size="19" text-anchor="end" textLength="266.2" lengthAdjust="spacingAndGlyphs">(−)-Epigallocatechin-3-gallate</text>
<rect x="327.5" y="1030.4" width="51.2" height="22.0" fill="#984ea3"/>
<line x1="353.1" y1="1052.4" x2="353.1" y2="1062.6" stroke="#444" stroke-width="1.3"/>
<text transform="translate(361.3 1078.0) rotate(-60)" font-size="19" text-anchor="end" textLength="114.5" lengthAdjust="spacingAndGlyphs">(+)-Catechin</text>
<rect x="384.1" y="1049.8" width="51.2" height="2.6" fill="#f0962e"/>
<line x1="409.8" y1="1052.4" x2="409.8" y2="1062.6" stroke="#444" stroke-width="1.3"/>
<text transform="translate(417.9 1078.0) rotate(-60)" font-size="19" text-anchor="end" textLength="158.3" lengthAdjust="spacingAndGlyphs">(+)-Gallocatechin</text>
<rect x="440.8" y="1044.0" width="51.2" height="8.4" fill="#a65628"/>
<line x1="466.4" y1="1052.4" x2="466.4" y2="1062.6" stroke="#444" stroke-width="1.3"/>
<text transform="translate(474.6 1078.0) rotate(-60)" font-size="19" text-anchor="end" textLength="80.6" lengthAdjust="spacingAndGlyphs">Cyanidin</text>
<rect x="497.4" y="1046.6" width="51.2" height="5.8" fill="#f781bf"/>
<line x1="523.0" y1="1052.4" x2="523.0" y2="1062.6" stroke="#444" stroke-width="1.3"/>
<text transform="translate(531.2 1078.0) rotate(-60)" font-size="19" text-anchor="end" textLength="102.5" lengthAdjust="spacingAndGlyphs">Delphinidin</text>
<rect x="554.0" y="1030.4" width="51.2" height="22.0" fill="#999999"/>
<line x1="579.6" y1="1052.4" x2="579.6" y2="1062.6" stroke="#444" stroke-width="1.3"/>
<text transform="translate(587.8 1078.0) rotate(-60)" font-size="19" text-anchor="end" textLength="76.0" lengthAdjust="spacingAndGlyphs">Malvidin</text>
<rect x="610.7" y="1049.8" width="51.2" height="2.6" fill="#e8604c"/>
<line x1="636.3" y1="1052.4" x2="636.3" y2="1062.6" stroke="#444" stroke-width="1.3"/>
<text transform="translate(644.5 1078.0) rotate(-60)" font-size="19" text-anchor="end" textLength="115.1" lengthAdjust="spacingAndGlyphs">Pelargonidin</text>
<rect x="667.3" y="1049.8" width="51.2" height="2.6" fill="#7f6db3"/>
<line x1="692.9" y1="1052.4" x2="692.9" y2="1062.6" stroke="#444" stroke-width="1.3"/>
<text transform="translate(701.1 1078.0) rotate(-60)" font-size="19" text-anchor="end" textLength="80.6" lengthAdjust="spacingAndGlyphs">Peonidin</text>
<rect x="723.9" y="1048.7" width="51.2" height="3.7" fill="#7be02f"/>
<line x1="749.5" y1="1052.4" x2="749.5" y2="1062.6" stroke="#444" stroke-width="1.3"/>
<text transform="translate(757.7 1078.0) rotate(-60)" font-size="19" text-anchor="end" textLength="86.4" lengthAdjust="spacingAndGlyphs">Petunidin</text>
<rect x="780.6" y="1036.2" width="51.2" height="16.2" fill="#40d0b8"/>
<line x1="806.2" y1="1052.4" x2="806.2" y2="1062.6" stroke="#444" stroke-width="1.3"/>
<text transform="translate(814.4 1078.0) rotate(-60)" font-size="19" text-anchor="end" textLength="89.8" lengthAdjust="spacingAndGlyphs">Quercetin</text>
<rect x="837.2" y="1051.4" width="51.2" height="1.0" fill="#e4e4e4"/>
<line x1="862.8" y1="1052.4" x2="862.8" y2="1062.6" stroke="#444" stroke-width="1.3"/>
<text transform="translate(871.0 1078.0) rotate(-60)" font-size="19" text-anchor="end" textLength="82.9" lengthAdjust="spacingAndGlyphs">Myricetin</text>
<rect x="893.8" y="1051.4" width="51.2" height="1.0" fill="#a6e3b0"/>
<line x1="919.4" y1="1052.4" x2="919.4" y2="1062.6" stroke="#444" stroke-width="1.3"/>
<text transform="translate(927.6 1078.0) rotate(-60)" font-size="19" text-anchor="end" textLength="119.7" lengthAdjust="spacingAndGlyphs">Isorhamnetin</text>
<rect x="950.5" y="1047.4" width="51.2" height="5.0" fill="#f5a623"/>
<line x1="976.1" y1="1052.4" x2="976.1" y2="1062.6" stroke="#444" stroke-width="1.3"/>
<text transform="translate(984.3 1078.0) rotate(-60)" font-size="19" text-anchor="end" textLength="105.9" lengthAdjust="spacingAndGlyphs">Kaempferol</text>
<rect x="1007.1" y="1040.3" width="51.2" height="12.1" fill="#0d9494"/>
<line x1="1032.7" y1="1052.4" x2="1032.7" y2="1062.6" stroke="#444" stroke-width="1.3"/>
<text transform="translate(1040.9 1078.0) rotate(-60)" font-size="19" text-anchor="end" textLength="100.2" lengthAdjust="spacingAndGlyphs">Naringenin</text>
<rect x="1063.7" y="1051.5" width="51.2" height="0.9" fill="#dcc4d4"/>
<line x1="1089.3" y1="1052.4" x2="1089.3" y2="1062.6" stroke="#444" stroke-width="1.3"/>
<text transform="translate(1097.5 1078.0) rotate(-60)" font-size="19" text-anchor="end" textLength="95.5" lengthAdjust="spacingAndGlyphs">Eriodictyol</text>
<rect x="1120.3" y="1034.6" width="51.2" height="17.8" fill="#ff9ec4"/>
<line x1="1145.9" y1="1052.4" x2="1145.9" y2="1062.6" stroke="#444" stroke-width="1.3"/>
<text transform="translate(1154.1 1078.0) rotate(-60)" font-size="19" text-anchor="end" textLength="100.2" lengthAdjust="spacingAndGlyphs">Hesperetin</text>
<rect x="1177.0" y="1051.5" width="51.2" height="0.9" fill="#f4f4f4"/>
<line x1="1202.6" y1="1052.4" x2="1202.6" y2="1062.6" stroke="#444" stroke-width="1.3"/>
<text transform="translate(1210.8 1078.0) rotate(-60)" font-size="19" text-anchor="end" textLength="80.6" lengthAdjust="spacingAndGlyphs">Apigenin</text>
<rect x="1233.6" y="1051.4" width="51.2" height="1.0" fill="#bfe8e0"/>
<line x1="1259.2" y1="1052.4" x2="1259.2" y2="1062.6" stroke="#444" stroke-width="1.3"/>
<text transform="translate(1267.4 1078.0) rotate(-60)" font-size="19" text-anchor="end" textLength="72.5" lengthAdjust="spacingAndGlyphs">Luteolin</text>
<rect x="1290.2" y="1016.8" width="51.2" height="35.6" fill="#faebd7"/>
<line x1="1315.8" y1="1052.4" x2="1315.8" y2="1062.6" stroke="#444" stroke-width="1.3"/>
<text transform="translate(1324.0 1078.0) rotate(-60)" font-size="19" text-anchor="end" textLength="227.9" lengthAdjust="spacingAndGlyphs">Proanthocyanidin dimers</text>
<rect x="1346.9" y="1038.3" width="51.2" height="14.1" fill="#00008b"/>
<line x1="1372.5" y1="1052.4" x2="1372.5" y2="1062.6" stroke="#444" stroke-width="1.3"/>
<text transform="translate(1380.7 1078.0) rotate(-60)" font-size="19" text-anchor="end" textLength="229.1" lengthAdjust="spacingAndGlyphs">Proanthocyanidin trimers</text>
<rect x="1403.5" y="1013.6" width="51.2" height="38.8" fill="#b010d0"/>
<line x1="1429.1" y1="1052.4" x2="1429.1" y2="1062.6" stroke="#444" stroke-width="1.3"/>
<text transform="translate(1437.3 1078.0) rotate(-60)" font-size="19" text-anchor="end" textLength="241.8" lengthAdjust="spacingAndGlyphs">Proanthocyanidin 4-6-mers</text>
<rect x="1460.1" y="1024.6" width="51.2" height="27.8" fill="#3d9970"/>
<line x1="1485.7" y1="1052.4" x2="1485.7" y2="1062.6" stroke="#444" stroke-width="1.3"/>
<text transform="translate(1493.9 1078.0) rotate(-60)" font-size="19" text-anchor="end" textLength="253.0" lengthAdjust="spacingAndGlyphs">Proanthocyanidin 7-10-mers</text>
<rect x="1516.8" y="980.1" width="51.2" height="72.3" fill="#7fdbda"/>
<line x1="1542.3" y1="1052.4" x2="1542.3" y2="1062.6" stroke="#444" stroke-width="1.3"/>
<text transform="translate(1550.5 1078.0) rotate(-60)" font-size="19" text-anchor="end" textLength="235.1" lengthAdjust="spacingAndGlyphs">Proanthocyanidin 10-mers</text>
<rect x="1573.4" y="1050.3" width="51.2" height="2.1" fill="#8b4513"/>
<line x1="1599.0" y1="1052.4" x2="1599.0" y2="1062.6" stroke="#444" stroke-width="1.3"/>
<text transform="translate(1607.2 1078.0) rotate(-60)" font-size="19" text-anchor="end" textLength="95.6" lengthAdjust="spacingAndGlyphs">Theaflavin</text>
<rect x="1630.0" y="1050.8" width="51.2" height="1.6" fill="#7a35d6"/>
<line x1="1655.6" y1="1052.4" x2="1655.6" y2="1062.6" stroke="#444" stroke-width="1.3"/>
<text transform="translate(1663.8 1078.0) rotate(-60)" font-size="19" text-anchor="end" textLength="181.9" lengthAdjust="spacingAndGlyphs">Theaflavin-3-gallate</text>
<rect x="1686.6" y="1050.3" width="51.2" height="2.1" fill="#f05050"/>
<line x1="1712.2" y1="1052.4" x2="1712.2" y2="1062.6" stroke="#444" stroke-width="1.3"/>
<text transform="translate(1720.4 1078.0) rotate(-60)" font-size="19" text-anchor="end" textLength="219.2" lengthAdjust="spacingAndGlyphs">Theaflavin-3,3′-digallate</text>
<rect x="1743.3" y="1050.8" width="51.2" height="1.6" fill="#3cc07c"/>
<line x1="1768.9" y1="1052.4" x2="1768.9" y2="1062.6" stroke="#444" stroke-width="1.3"/>
<text transform="translate(1777.1 1078.0) rotate(-60)" font-size="19" text-anchor="end" textLength="185.8" lengthAdjust="spacingAndGlyphs">Theaflavin-3′-gallate</text>
<rect x="1799.9" y="948.1" width="51.1" height="104.3" fill="#ffd700"/>
<line x1="1825.5" y1="1052.4" x2="1825.5" y2="1062.6" stroke="#444" stroke-width="1.3"/>
<text transform="translate(1833.7 1078.0) rotate(-60)" font-size="19" text-anchor="end" textLength="119.7" lengthAdjust="spacingAndGlyphs">Thearubigins</text>
<text x="971.8" y="1333.3" font-size="22.2" text-anchor="middle" textLength="332.5" lengthAdjust="spacingAndGlyphs">Types of flavonoid compounds</text>
<line x1="92.6" y1="1405.9" x2="92.6" y2="1721.5" stroke="#444" stroke-width="1.3"/>
<line x1="82.4" y1="1720.9" x2="92.6" y2="1720.9" stroke="#444" stroke-width="1.3"/>
<text x="72.4" y="1727.4" font-size="18" text-anchor="end" textLength="13.0" lengthAdjust="spacingAndGlyphs">0</text>
<line x1="82.4" y1="1668.5" x2="92.6" y2="1668.5" stroke="#444" stroke-width="1.3"/>
<text x="72.4" y="1675.0" font-size="18" text-anchor="end" textLength="22.4" lengthAdjust="spacingAndGlyphs">10</text>
<line x1="82.4" y1="1616.1" x2="92.6" y2="1616.1" stroke="#444" stroke-width="1.3"/>
<text x="72.4" y="1622.6" font-size="18" text-anchor="end" textLength="24.0" lengthAdjust="spacingAndGlyphs">20</text>
<line x1="82.4" y1="1563.7" x2="92.6" y2="1563.7" stroke="#444" stroke-width="1.3"/>
<text x="72.4" y="1570.2" font-size="18" text-anchor="end" textLength="24.0" lengthAdjust="spacingAndGlyphs">30</text>
<line x1="82.4" y1="1511.3" x2="92.6" y2="1511.3" stroke="#444" stroke-width="1.3"/>
<text x="72.4" y="1517.8" font-size="18" text-anchor="end" textLength="24.0" lengthAdjust="spacingAndGlyphs">40</text>
<line x1="82.4" y1="1458.9" x2="92.6" y2="1458.9" stroke="#444" stroke-width="1.3"/>
<text x="72.4" y="1465.4" font-size="18" text-anchor="end" textLength="24.0" lengthAdjust="spacingAndGlyphs">50</text>
<line x1="82.4" y1="1406.5" x2="92.6" y2="1406.5" stroke="#444" stroke-width="1.3"/>
<text x="72.4" y="1413.0" font-size="18" text-anchor="end" textLength="24.0" lengthAdjust="spacingAndGlyphs">60</text>
<text transform="translate(19.3 1563.5) rotate(-90)" font-size="22.2" text-anchor="middle" textLength="234.0" lengthAdjust="spacingAndGlyphs">Abundance (% intake)</text>
<text x="940.2" y="1398.0" font-size="22.2" text-anchor="middle" textLength="435.0" lengthAdjust="spacingAndGlyphs">Lowest diversity of flavonoid intake (Q1)</text>
<text x="125.8" y="1424.3" font-size="22.2" textLength="337.5" lengthAdjust="spacingAndGlyphs">Mean hill number per day = 6.3</text>
<g class="dot">
<circle cx="1219.2" cy="1574.2" r="7.3" fill="#ffd700"/><circle cx="998.9" cy="1501.1" r="7.3" fill="#4daf4a"/><circle cx="713.5" cy="1465.0" r="7.3" fill="#ffd700"/><circle cx="769.6" cy="1506.0" r="7.3" fill="#ffd700"/><circle cx="686.0" cy="1545.8" r="7.3" fill="#377eb8"/><circle cx="949.8" cy="1549.5" r="7.3" fill="#f05050"/><circle cx="668.6" cy="1557.2" r="7.3" fill="#3d9970"/><circle cx="1039.6" cy="1531.9" r="7.3" fill="#ffd700"/><circle cx="857.2" cy="1553.5" r="7.3" fill="#ffd700"/><circle cx="986.5" cy="1538.0" r="7.3" fill="#7fdbda"/><circle cx="686.0" cy="1509.0" r="7.3" fill="#faebd7"/><circle cx="998.0" cy="1504.8" r="7.3" fill="#ffd700"/><circle cx="745.5" cy="1462.9" r="7.3" fill="#ffd700"/><circle cx="1137.2" cy="1465.5" r="7.3" fill="#00008b"/><circle cx="693.9" cy="1441.1" r="7.3" fill="#4daf4a"/><circle cx="987.0" cy="1563.0" r="7.3" fill="#0d9494"/><circle cx="861.4" cy="1480.0" r="7.3" fill="#b010d0"/><circle cx="1113.5" cy="1520.6" r="7.3" fill="#faebd7"/><circle cx="699.2" cy="1557.3" r="7.3" fill="#e4e4e4"/><circle cx="1145.1" cy="1472.1" r="7.3" fill="#ffd700"/><circle cx="1200.8" cy="1527.5" r="7.3" fill="#ffd700"/><circle cx="736.4" cy="1587.1" r="7.3" fill="#ffd700"/><circle cx="890.2" cy="1438.6" r="7.3" fill="#377eb8"/><circle cx="1057.7" cy="1586.9" r="7.3" fill="#ffd700"/><circle cx="1219.4" cy="1519.0" r="7.3" fill="#ffd700"/><circle cx="1095.9" cy="1489.0" r="7.3" fill="#ffd700"/><circle cx="866.0" cy="1465.2" r="7.3" fill="#ffd700"/><circle cx="921.0" cy="1465.7" r="7.3" fill="#4daf4a"/><circle cx="1220.4" cy="1468.7" r="7.3" fill="#ffd700"/><circle cx="959.9" cy="1461.5" r="7.3" fill="#4daf4a"/><circle cx="1135.3" cy="1474.5" r="7.3" fill="#ffd700"/><circle cx="1189.7" cy="1504.4" r="7.3" fill="#f05050"/><circle cx="1184.5" cy="1561.9" r="7.3" fill="#b010d0"/><circle cx="1058.0" cy="1499.4" r="7.3" fill="#ffd700"/><circle cx="1145.8" cy="1534.8" r="7.3" fill="#ffd700"/><circle cx="815.5" cy="1498.9" r="7.3" fill="#40d0b8"/><circle cx="977.3" cy="1520.8" r="7.3" fill="#ffd700"/><circle cx="700.0" cy="1533.5" r="7.3" fill="#ffd700"/><circle cx="978.7" cy="1565.3" r="7.3" fill="#b010d0"/><circle cx="1221.0" cy="1447.3" r="7.3" fill="#40d0b8"/><circle cx="967.8" cy="1471.7" r="7.3" fill="#ffd700"/><circle cx="923.9" cy="1505.1" r="7.3" fill="#ffd700"/><circle cx="635.4" cy="1493.8" r="7.3" fill="#ffd700"/><circle cx="720.7" cy="1570.3" r="7.3" fill="#ffd700"/><circle cx="1053.9" cy="1462.0" r="7.3" fill="#984ea3"/><circle cx="894.1" cy="1447.8" r="7.3" fill="#ffd700"/><circle cx="929.7" cy="1542.5" r="7.3" fill="#ffd700"/><circle cx="976.5" cy="1517.1" r="7.3" fill="#ffd700"/><circle cx="1188.4" cy="1448.5" r="7.3" fill="#faebd7"/><circle cx="1166.6" cy="1512.7" r="7.3" fill="#ffd700"/><circle cx="1049.1" cy="1529.4" r="7.3" fill="#ffd700"/><circle cx="830.5" cy="1489.5" r="7.3" fill="#faebd7"/><circle cx="1226.1" cy="1488.2" r="7.3" fill="#faebd7"/><circle cx="892.3" cy="1562.4" r="7.3" fill="#7fdbda"/><circle cx="975.2" cy="1474.9" r="7.3" fill="#ffd700"/><circle cx="688.1" cy="1468.9" r="7.3" fill="#dcc4d4"/><circle cx="1159.7" cy="1513.4" r="7.3" fill="#f5a623"/><circle cx="919.0" cy="1453.9" r="7.3" fill="#4daf4a"/><circle cx="906.2" cy="1568.9" r="7.3" fill="#ffd700"/><circle cx="1158.8" cy="1473.6" r="7.3" fill="#a6e3b0"/><circle cx="1024.9" cy="1441.7" r="7.3" fill="#ffd700"/><circle cx="803.3" cy="1491.5" r="7.3" fill="#ffd700"/><circle cx="1150.5" cy="1449.1" r="7.3" fill="#1e90ff"/><circle cx="877.6" cy="1541.0" r="7.3" fill="#ffd700"/><circle cx="681.4" cy="1577.8" r="7.3" fill="#faebd7"/><circle cx="737.9" cy="1587.3" r="7.3" fill="#ffd700"/><circle cx="745.8" cy="1438.0" r="7.3" fill="#ffd700"/><circle cx="719.0" cy="1549.2" r="7.3" fill="#ffd700"/><circle cx="1071.2" cy="1523.9" r="7.3" fill="#ffd700"/><circle cx="1140.8" cy="1529.1" r="7.3" fill="#ffd700"/><circle cx="835.0" cy="1455.9" r="7.3" fill="#ffd700"/><circle cx="1162.6" cy="1467.1" r="7.3" fill="#4daf4a"/><circle cx="828.8" cy="1531.7" r="7.3" fill="#f05050"/><circle cx="1163.9" cy="1503.0" r="7.3" fill="#ffd700"/><circle cx="1035.5" cy="1551.2" r="7.3" fill="#3d9970"/><circle cx="825.7" cy="1573.3" r="7.3" fill="#ffd700"/><circle cx="1240.1" cy="1455.2" r="7.3" fill="#ffd700"/><circle cx="1111.3" cy="1564.6" r="7.3" fill="#7fdbda"/><circle cx="877.2" cy="1548.0" r="7.3" fill="#377eb8"/><circle cx="963.7" cy="1467.8" r="7.3" fill="#ffd700"/><circle cx="669.2" cy="1484.2" r="7.3" fill="#7a35d6"/><circle cx="1141.6" cy="1526.9" r="7.3" fill="#f05050"/><circle cx="785.0" cy="1484.2" r="7.3" fill="#7a35d6"/><circle cx="908.3" cy="1462.0" r="7.3" fill="#ffd700"/><circle cx="988.7" cy="1585.9" r="7.3" fill="#ffd700"/><circle cx="1018.1" cy="1501.7" r="7.3" fill="#ffd700"/><circle cx="1200.8" cy="1588.1" r="7.3" fill="#ffd700"/><circle cx="898.9" cy="1444.8" r="7.3" fill="#ffd700"/><circle cx="874.9" cy="1494.7" r="7.3" fill="#ffd700"/><circle cx="654.1" cy="1495.9" r="7.3" fill="#377eb8"/><circle cx="1090.7" cy="1545.6" r="7.3" fill="#ffd700"/><circle cx="801.6" cy="1461.3" r="7.3" fill="#ffd700"/><circle cx="672.3" cy="1526.7" r="7.3" fill="#ffd700"/><circle cx="968.3" cy="1453.9" r="7.3" fill="#ffd700"/><circle cx="925.5" cy="1457.7" r="7.3" fill="#4daf4a"/><circle cx="824.3" cy="1531.8" r="7.3" fill="#ffd700"/><circle cx="1007.8" cy="1517.9" r="7.3" fill="#ffd700"/><circle cx="847.6" cy="1587.6" r="7.3" fill="#984ea3"/><circle cx="808.7" cy="1512.0" r="7.3" fill="#f5a623"/><circle cx="1121.7" cy="1481.1" r="7.3" fill="#ffd700"/><circle cx="646.7" cy="1558.3" r="7.3" fill="#ffd700"/><circle cx="1189.9" cy="1458.9" r="7.3" fill="#ffd700"/><circle cx="1218.4" cy="1539.1" r="7.3" fill="#ffd700"/><circle cx="1202.1" cy="1586.3" r="7.3" fill="#4daf4a"/><circle cx="1144.3" cy="1447.4" r="7.3" fill="#4daf4a"/><circle cx="1124.5" cy="1547.3" r="7.3" fill="#4daf4a"/><circle cx="1023.5" cy="1514.8" r="7.3" fill="#ffd700"/><circle cx="987.0" cy="1589.8" r="7.3" fill="#0d9494"/><circle cx="1174.1" cy="1465.8" r="7.3" fill="#ffd700"/><circle cx="1085.2" cy="1446.1" r="7.3" fill="#ffd700"/><circle cx="741.8" cy="1468.9" r="7.3" fill="#ffd700"/><circle cx="1042.5" cy="1457.2" r="7.3" fill="#377eb8"/><circle cx="633.0" cy="1561.3" r="7.3" fill="#ffd700"/><circle cx="984.8" cy="1524.2" r="7.3" fill="#ffd700"/><circle cx="1026.3" cy="1456.7" r="7.3" fill="#ffd700"/><circle cx="851.7" cy="1526.1" r="7.3" fill="#ffd700"/><circle cx="1191.7" cy="1499.6" r="7.3" fill="#ffd700"/><circle cx="683.6" cy="1485.9" r="7.3" fill="#ffd700"/><circle cx="1011.2" cy="1564.8" r="7.3" fill="#ffd700"/><circle cx="1130.0" cy="1559.1" r="7.3" fill="#984ea3"/><circle cx="719.4" cy="1526.0" r="7.3" fill="#1e90ff"/><circle cx="1012.3" cy="1501.8" r="7.3" fill="#ffd700"/><circle cx="1133.3" cy="1516.5" r="7.3" fill="#ffd700"/><circle cx="999.6" cy="1580.4" r="7.3" fill="#ffd700"/><circle cx="1151.6" cy="1476.5" r="7.3" fill="#ffd700"/><circle cx="1141.7" cy="1547.0" r="7.3" fill="#ffd700"/><circle cx="1198.6" cy="1454.9" r="7.3" fill="#ffd700"/><circle cx="854.1" cy="1467.0" r="7.3" fill="#ffd700"/><circle cx="1240.9" cy="1554.9" r="7.3" fill="#ffd700"/><circle cx="786.1" cy="1492.7" r="7.3" fill="#4daf4a"/><circle cx="917.0" cy="1459.9" r="7.3" fill="#ffd700"/><circle cx="785.8" cy="1441.0" r="7.3" fill="#ffd700"/><circle cx="1245.4" cy="1556.0" r="7.3" fill="#ffd700"/><circle cx="727.3" cy="1522.6" r="7.3" fill="#ffd700"/><circle cx="1102.1" cy="1504.7" r="7.3" fill="#ffd700"/><circle cx="1206.3" cy="1476.4" r="7.3" fill="#377eb8"/><circle cx="919.9" cy="1556.6" r="7.3" fill="#ffd700"/><circle cx="690.1" cy="1501.8" r="7.3" fill="#b010d0"/><circle cx="1122.8" cy="1498.0" r="7.3" fill="#ffd700"/><circle cx="865.6" cy="1549.3" r="7.3" fill="#ffd700"/><circle cx="1176.9" cy="1582.3" r="7.3" fill="#1e90ff"/><circle cx="1163.5" cy="1556.4" r="7.3" fill="#377eb8"/><circle cx="698.4" cy="1549.3" r="7.3" fill="#ffd700"/><circle cx="1020.0" cy="1585.3" r="7.3" fill="#ffd700"/><circle cx="1024.6" cy="1579.3" r="7.3" fill="#ffd700"/><circle cx="817.3" cy="1517.7" r="7.3" fill="#1e90ff"/><circle cx="1221.9" cy="1534.2" r="7.3" fill="#ffd700"/><circle cx="1016.9" cy="1582.5" r="7.3" fill="#ffd700"/><circle cx="1090.0" cy="1528.6" r="7.3" fill="#8b4513"/><circle cx="842.5" cy="1459.0" r="7.3" fill="#8b4513"/><circle cx="840.7" cy="1481.8" r="7.3" fill="#e41a1c"/><circle cx="933.0" cy="1489.7" r="7.3" fill="#4daf4a"/><circle cx="1115.4" cy="1538.8" r="7.3" fill="#ffd700"/><circle cx="802.7" cy="1453.1" r="7.3" fill="#ffd700"/><circle cx="773.6" cy="1588.7" r="7.3" fill="#ffd700"/><circle cx="1180.6" cy="1473.3" r="7.3" fill="#f05050"/><circle cx="1020.5" cy="1543.1" r="7.3" fill="#4daf4a"/><circle cx="1205.8" cy="1586.8" r="7.3" fill="#40d0b8"/><circle cx="1239.5" cy="1588.4" r="7.3" fill="#ffd700"/><circle cx="1084.4" cy="1551.4" r="7.3" fill="#1e90ff"/><circle cx="842.8" cy="1519.8" r="7.3" fill="#ffd700"/><circle cx="1158.3" cy="1443.0" r="7.3" fill="#ffd700"/><circle cx="827.6" cy="1558.5" r="7.3" fill="#7fdbda"/><circle cx="671.1" cy="1453.0" r="7.3" fill="#4daf4a"/><circle cx="901.9" cy="1570.0" r="7.3" fill="#4daf4a"/><circle cx="695.5" cy="1539.5" r="7.3" fill="#3d9970"/><circle cx="986.0" cy="1551.6" r="7.3" fill="#b010d0"/><circle cx="1086.2" cy="1531.7" r="7.3" fill="#ffd700"/><circle cx="1104.1" cy="1575.6" r="7.3" fill="#ffd700"/><circle cx="807.4" cy="1513.7" r="7.3" fill="#ffd700"/><circle cx="1117.9" cy="1548.9" r="7.3" fill="#ffd700"/><circle cx="1142.6" cy="1519.4" r="7.3" fill="#ffd700"/><circle cx="660.1" cy="1509.5" r="7.3" fill="#ffd700"/><circle cx="1197.6" cy="1567.3" r="7.3" fill="#ffd700"/><circle cx="774.9" cy="1573.1" r="7.3" fill="#ffd700"/><circle cx="751.4" cy="1440.9" r="7.3" fill="#ffd700"/><circle cx="989.4" cy="1452.1" r="7.3" fill="#ffd700"/><circle cx="995.9" cy="1553.3" r="7.3" fill="#ffd700"/><circle cx="791.2" cy="1516.5" r="7.3" fill="#ffd700"/><circle cx="1011.5" cy="1502.8" r="7.3" fill="#1e90ff"/><circle cx="704.6" cy="1467.1" r="7.3" fill="#ffd700"/><circle cx="634.0" cy="1498.4" r="7.3" fill="#7fdbda"/><circle cx="1168.0" cy="1463.1" r="7.3" fill="#ffd700"/><circle cx="772.1" cy="1472.4" r="7.3" fill="#ffd700"/><circle cx="814.7" cy="1466.4" r="7.3" fill="#ffd700"/><circle cx="742.2" cy="1465.0" r="7.3" fill="#4daf4a"/><circle cx="658.9" cy="1519.3" r="7.3" fill="#ffd700"/><circle cx="1078.1" cy="1435.5" r="7.3" fill="#984ea3"/><circle cx="1088.9" cy="1439.0" r="7.3" fill="#7fdbda"/><circle cx="834.5" cy="1510.5" r="7.3" fill="#7a35d6"/><circle cx="682.4" cy="1570.1" r="7.3" fill="#ffd700"/><circle cx="1110.1" cy="1455.7" r="7.3" fill="#f5a623"/><circle cx="752.7" cy="1448.1" r="7.3" fill="#4daf4a"/><circle cx="719.2" cy="1448.5" r="7.3" fill="#40d0b8"/><circle cx="959.6" cy="1512.5" r="7.3" fill="#ffd700"/><circle cx="1133.9" cy="1442.2" r="7.3" fill="#ffd700"/><circle cx="1044.7" cy="1436.1" r="7.3" fill="#377eb8"/><circle cx="1019.2" cy="1567.5" r="7.3" fill="#ffd700"/><circle cx="881.4" cy="1483.8" r="7.3" fill="#e41a1c"/><circle cx="653.4" cy="1552.6" r="7.3" fill="#ffd700"/><circle cx="972.1" cy="1538.9" r="7.3" fill="#ffd700"/><circle cx="1154.5" cy="1562.8" r="7.3" fill="#ffd700"/><circle cx="687.2" cy="1558.9" r="7.3" fill="#ffd700"/><circle cx="1066.2" cy="1484.1" r="7.3" fill="#ffd700"/><circle cx="1017.9" cy="1483.7" r="7.3" fill="#ffd700"/><circle cx="771.5" cy="1472.6" r="7.3" fill="#ffd700"/><circle cx="667.1" cy="1570.7" r="7.3" fill="#ffd700"/><circle cx="986.5" cy="1542.8" r="7.3" fill="#8b4513"/><circle cx="768.9" cy="1449.5" r="7.3" fill="#ffd700"/><circle cx="771.5" cy="1501.2" r="7.3" fill="#ffd700"/><circle cx="688.6" cy="1523.5" r="7.3" fill="#4daf4a"/><circle cx="797.8" cy="1495.6" r="7.3" fill="#377eb8"/><circle cx="1130.9" cy="1575.6" r="7.3" fill="#4daf4a"/><circle cx="1131.6" cy="1462.4" r="7.3" fill="#377eb8"/><circle cx="670.5" cy="1551.3" r="7.3" fill="#ffd700"/><circle cx="793.1" cy="1460.8" r="7.3" fill="#ffd700"/><circle cx="1164.4" cy="1556.7" r="7.3" fill="#b010d0"/><circle cx="1190.3" cy="1550.3" r="7.3" fill="#1e90ff"/><circle cx="1234.1" cy="1459.7" r="7.3" fill="#ffd700"/><circle cx="648.1" cy="1464.9" r="7.3" fill="#ffd700"/><circle cx="777.1" cy="1469.1" r="7.3" fill="#ffd700"/><circle cx="916.9" cy="1578.2" r="7.3" fill="#3d9970"/><circle cx="976.7" cy="1547.2" r="7.3" fill="#ffd700"/><circle cx="1129.4" cy="1554.0" r="7.3" fill="#1e90ff"/><circle cx="911.2" cy="1519.5" r="7.3" fill="#ffd700"/><circle cx="916.3" cy="1535.4" r="7.3" fill="#4daf4a"/><circle cx="1186.8" cy="1487.9" r="7.3" fill="#ffd700"/><circle cx="1162.0" cy="1585.0" r="7.3" fill="#ffd700"/><circle cx="836.7" cy="1571.3" r="7.3" fill="#ffd700"/><circle cx="983.7" cy="1506.5" r="7.3" fill="#e41a1c"/><circle cx="1016.9" cy="1466.3" r="7.3" fill="#ffd700"/><circle cx="655.3" cy="1552.3" r="7.3" fill="#1e90ff"/><circle cx="863.7" cy="1469.9" r="7.3" fill="#ffd700"/><circle cx="753.8" cy="1517.2" r="7.3" fill="#ffd700"/><circle cx="830.2" cy="1542.8" r="7.3" fill="#b010d0"/><circle cx="837.8" cy="1523.0" r="7.3" fill="#40d0b8"/><circle cx="725.8" cy="1482.8" r="7.3" fill="#ffd700"/><circle cx="827.7" cy="1511.1" r="7.3" fill="#0d9494"/><circle cx="745.0" cy="1547.1" r="7.3" fill="#ffd700"/><circle cx="986.5" cy="1513.4" r="7.3" fill="#3cc07c"/><circle cx="743.9" cy="1531.1" r="7.3" fill="#ffd700"/><circle cx="1117.6" cy="1527.9" r="7.3" fill="#8b4513"/><circle cx="1243.0" cy="1462.9" r="7.3" fill="#7a35d6"/><circle cx="709.1" cy="1542.6" r="7.3" fill="#e41a1c"/><circle cx="1087.5" cy="1448.8" r="7.3" fill="#4daf4a"/><circle cx="1017.6" cy="1438.2" r="7.3" fill="#faebd7"/><circle cx="1250.6" cy="1548.6" r="7.3" fill="#3cc07c"/><circle cx="1194.4" cy="1523.8" r="7.3" fill="#7fdbda"/><circle cx="845.5" cy="1494.5" r="7.3" fill="#ffd700"/><circle cx="1103.2" cy="1543.0" r="7.3" fill="#ffd700"/><circle cx="893.4" cy="1484.6" r="7.3" fill="#1e90ff"/><circle cx="704.9" cy="1551.7" r="7.3" fill="#e8604c"/><circle cx="851.6" cy="1437.9" r="7.3" fill="#1e90ff"/><circle cx="1019.5" cy="1447.2" r="7.3" fill="#ffd700"/><circle cx="1247.9" cy="1552.0" r="7.3" fill="#ffd700"/><circle cx="1067.8" cy="1438.4" r="7.3" fill="#ffd700"/><circle cx="779.4" cy="1438.4" r="7.3" fill="#0d9494"/><circle cx="998.4" cy="1491.5" r="7.3" fill="#ffd700"/><circle cx="777.8" cy="1478.8" r="7.3" fill="#ffd700"/><circle cx="778.4" cy="1567.7" r="7.3" fill="#4daf4a"/><circle cx="1088.3" cy="1570.4" r="7.3" fill="#ffd700"/><circle cx="856.2" cy="1585.9" r="7.3" fill="#ffd700"/><circle cx="888.3" cy="1573.1" r="7.3" fill="#4daf4a"/><circle cx="851.6" cy="1564.0" r="7.3" fill="#ffd700"/><circle cx="1080.1" cy="1476.6" r="7.3" fill="#ffd700"/><circle cx="1038.3" cy="1566.0" r="7.3" fill="#ffd700"/><circle cx="1207.3" cy="1547.3" r="7.3" fill="#ffd700"/><circle cx="990.5" cy="1465.6" r="7.3" fill="#984ea3"/><circle cx="834.2" cy="1590.7" r="7.3" fill="#ffd700"/><circle cx="1121.1" cy="1565.4" r="7.3" fill="#b010d0"/><circle cx="997.0" cy="1471.3" r="7.3" fill="#7fdbda"/><circle cx="904.4" cy="1546.0" r="7.3" fill="#7fdbda"/><circle cx="732.4" cy="1536.2" r="7.3" fill="#ffd700"/><circle cx="957.5" cy="1504.5" r="7.3" fill="#ffd700"/><circle cx="1037.3" cy="1538.2" r="7.3" fill="#ffd700"/><circle cx="881.3" cy="1501.6" r="7.3" fill="#ffd700"/><circle cx="903.6" cy="1445.8" r="7.3" fill="#ffd700"/><circle cx="666.1" cy="1442.7" r="7.3" fill="#f0962e"/><circle cx="866.5" cy="1506.2" r="7.3" fill="#3d9970"/><circle cx="777.0" cy="1504.8" r="7.3" fill="#984ea3"/><circle cx="794.2" cy="1511.7" r="7.3" fill="#faebd7"/><circle cx="670.5" cy="1437.1" r="7.3" fill="#ffd700"/><circle cx="1185.6" cy="1533.6" r="7.3" fill="#ffd700"/><circle cx="1234.2" cy="1540.9" r="7.3" fill="#7fdbda"/><circle cx="1153.5" cy="1441.1" r="7.3" fill="#ffd700"/><circle cx="1121.8" cy="1496.0" r="7.3" fill="#1e90ff"/><circle cx="677.0" cy="1581.3" r="7.3" fill="#ffd700"/><circle cx="887.3" cy="1564.4" r="7.3" fill="#ffd700"/><circle cx="917.0" cy="1463.8" r="7.3" fill="#ffd700"/><circle cx="723.4" cy="1481.8" r="7.3" fill="#ffd700"/><circle cx="642.8" cy="1481.3" r="7.3" fill="#4daf4a"/><circle cx="923.0" cy="1489.1" r="7.3" fill="#377eb8"/><circle cx="919.7" cy="1479.7" r="7.3" fill="#e41a1c"/><circle cx="967.4" cy="1486.9" r="7.3" fill="#e8604c"/><circle cx="1208.3" cy="1586.6" r="7.3" fill="#377eb8"/><circle cx="1040.5" cy="1526.3" r="7.3" fill="#40d0b8"/><circle cx="965.6" cy="1476.4" r="7.3" fill="#40d0b8"/><circle cx="913.2" cy="1442.0" r="7.3" fill="#0d9494"/><circle cx="1241.0" cy="1555.1" r="7.3" fill="#999999"/><circle cx="1249.0" cy="1486.3" r="7.3" fill="#b010d0"/><circle cx="832.3" cy="1574.5" r="7.3" fill="#ffd700"/><circle cx="1171.8" cy="1456.4" r="7.3" fill="#ffd700"/><circle cx="846.0" cy="1556.9" r="7.3" fill="#8b4513"/><circle cx="716.8" cy="1499.0" r="7.3" fill="#ffd700"/><circle cx="673.7" cy="1455.3" r="7.3" fill="#1e90ff"/><circle cx="819.5" cy="1502.2" r="7.3" fill="#4daf4a"/><circle cx="1035.9" cy="1553.7" r="7.3" fill="#ffd700"/><circle cx="831.8" cy="1499.3" r="7.3" fill="#b010d0"/><circle cx="645.3" cy="1478.0" r="7.3" fill="#7f6db3"/><circle cx="664.6" cy="1513.6" r="7.3" fill="#ffd700"/><circle cx="1104.3" cy="1440.9" r="7.3" fill="#e8604c"/><circle cx="1081.0" cy="1507.1" r="7.3" fill="#ffd700"/><circle cx="1182.3" cy="1438.0" r="7.3" fill="#1e90ff"/><circle cx="1138.6" cy="1572.9" r="7.3" fill="#ffd700"/><circle cx="861.5" cy="1532.7" r="7.3" fill="#ffd700"/><circle cx="994.5" cy="1494.3" r="7.3" fill="#ffd700"/><circle cx="823.2" cy="1522.5" r="7.3" fill="#ffd700"/><circle cx="669.2" cy="1573.1" r="7.3" fill="#4daf4a"/><circle cx="864.5" cy="1588.8" r="7.3" fill="#3d9970"/><circle cx="729.1" cy="1519.7" r="7.3" fill="#ffd700"/><circle cx="1006.6" cy="1477.5" r="7.3" fill="#ffd700"/><circle cx="1216.8" cy="1528.0" r="7.3" fill="#0d9494"/><circle cx="1060.5" cy="1552.3" r="7.3" fill="#ffd700"/><circle cx="1116.8" cy="1510.3" r="7.3" fill="#1e90ff"/><circle cx="828.6" cy="1589.6" r="7.3" fill="#1e90ff"/><circle cx="1191.3" cy="1513.1" r="7.3" fill="#ffd700"/><circle cx="877.9" cy="1549.6" r="7.3" fill="#ffd700"/><circle cx="854.0" cy="1587.5" r="7.3" fill="#ffd700"/><circle cx="658.0" cy="1562.0" r="7.3" fill="#ffd700"/><circle cx="806.0" cy="1505.7" r="7.3" fill="#4daf4a"/><circle cx="910.7" cy="1503.6" r="7.3" fill="#984ea3"/><circle cx="1036.0" cy="1541.9" r="7.3" fill="#ffd700"/><circle cx="779.5" cy="1453.2" r="7.3" fill="#377eb8"/><circle cx="915.4" cy="1567.9" r="7.3" fill="#b010d0"/><circle cx="1133.7" cy="1459.3" r="7.3" fill="#e41a1c"/><circle cx="1157.3" cy="1588.8" r="7.3" fill="#ffd700"/><circle cx="667.2" cy="1479.8" r="7.3" fill="#ffd700"/><circle cx="1049.9" cy="1586.1" r="7.3" fill="#3cc07c"/><circle cx="672.0" cy="1455.1" r="7.3" fill="#ffd700"/><circle cx="761.0" cy="1526.0" r="7.3" fill="#ffd700"/><circle cx="969.8" cy="1489.5" r="7.3" fill="#ffd700"/><circle cx="814.4" cy="1491.3" r="7.3" fill="#ffd700"/><circle cx="812.1" cy="1455.7" r="7.3" fill="#1e90ff"/><circle cx="645.7" cy="1472.9" r="7.3" fill="#ffd700"/><circle cx="1159.5" cy="1488.0" r="7.3" fill="#ffd700"/><circle cx="1133.6" cy="1536.4" r="7.3" fill="#ffd700"/><circle cx="1098.9" cy="1484.9" r="7.3" fill="#ffd700"/><circle cx="791.4" cy="1471.0" r="7.3" fill="#b010d0"/><circle cx="966.3" cy="1464.8" r="7.3" fill="#ffd700"/><circle cx="648.2" cy="1468.2" r="7.3" fill="#4daf4a"/><circle cx="1016.8" cy="1561.6" r="7.3" fill="#1e90ff"/><circle cx="1031.0" cy="1500.7" r="7.3" fill="#ffd700"/><circle cx="1094.8" cy="1554.5" r="7.3" fill="#4daf4a"/><circle cx="824.9" cy="1541.5" r="7.3" fill="#1e90ff"/><circle cx="734.3" cy="1495.4" r="7.3" fill="#ffd700"/><circle cx="970.3" cy="1562.9" r="7.3" fill="#7fdbda"/><circle cx="865.4" cy="1578.9" r="7.3" fill="#1e90ff"/><circle cx="742.2" cy="1557.6" r="7.3" fill="#1e90ff"/><circle cx="927.1" cy="1506.5" r="7.3" fill="#ffd700"/><circle cx="1029.1" cy="1476.3" r="7.3" fill="#377eb8"/><circle cx="1207.0" cy="1512.4" r="7.3" fill="#ffd700"/><circle cx="850.9" cy="1479.4" r="7.3" fill="#8b4513"/><circle cx="1075.7" cy="1453.0" r="7.3" fill="#ffd700"/><circle cx="877.1" cy="1460.8" r="7.3" fill="#e41a1c"/><circle cx="732.4" cy="1513.7" r="7.3" fill="#ffd700"/><circle cx="1234.4" cy="1484.9" r="7.3" fill="#ffd700"/><circle cx="841.6" cy="1537.8" r="7.3" fill="#f5a623"/><circle cx="782.4" cy="1545.9" r="7.3" fill="#40d0b8"/><circle cx="677.1" cy="1567.0" r="7.3" fill="#ffd700"/><circle cx="816.1" cy="1520.2" r="7.3" fill="#1e90ff"/><circle cx="1106.2" cy="1458.1" r="7.3" fill="#ffd700"/><circle cx="743.7" cy="1453.1" r="7.3" fill="#ffd700"/><circle cx="1112.6" cy="1451.8" r="7.3" fill="#ffd700"/><circle cx="757.1" cy="1524.6" r="7.3" fill="#377eb8"/><circle cx="1220.4" cy="1437.8" r="7.3" fill="#377eb8"/><circle cx="1130.4" cy="1494.9" r="7.3" fill="#ffd700"/><circle cx="741.4" cy="1555.9" r="7.3" fill="#ffd700"/><circle cx="1159.1" cy="1558.9" r="7.3" fill="#ffd700"/><circle cx="1166.9" cy="1474.7" r="7.3" fill="#ffd700"/><circle cx="738.8" cy="1551.6" r="7.3" fill="#377eb8"/><circle cx="938.0" cy="1508.8" r="7.3" fill="#ffd700"/><circle cx="1205.3" cy="1523.8" r="7.3" fill="#377eb8"/><circle cx="938.5" cy="1573.0" r="7.3" fill="#ffd700"/><circle cx="966.1" cy="1559.6" r="7.3" fill="#ffd700"/><circle cx="1143.3" cy="1532.4" r="7.3" fill="#1e90ff"/><circle cx="724.8" cy="1515.4" r="7.3" fill="#b010d0"/><circle cx="634.2" cy="1563.6" r="7.3" fill="#faebd7"/><circle cx="1189.0" cy="1554.0" r="7.3" fill="#ffd700"/><circle cx="1197.9" cy="1472.5" r="7.3" fill="#7a35d6"/><circle cx="922.6" cy="1540.7" r="7.3" fill="#e4e4e4"/><circle cx="668.6" cy="1580.3" r="7.3" fill="#4daf4a"/><circle cx="1091.8" cy="1508.2" r="7.3" fill="#e41a1c"/><circle cx="1164.0" cy="1507.4" r="7.3" fill="#ffd700"/><circle cx="1063.7" cy="1475.8" r="7.3" fill="#ffd700"/><circle cx="1245.4" cy="1519.8" r="7.3" fill="#e41a1c"/><circle cx="965.6" cy="1446.8" r="7.3" fill="#ffd700"/><circle cx="778.0" cy="1585.6" r="7.3" fill="#4daf4a"/><circle cx="813.8" cy="1504.6" r="7.3" fill="#ffd700"/><circle cx="945.3" cy="1484.4" r="7.3" fill="#ffd700"/><circle cx="737.2" cy="1523.8" r="7.3" fill="#ffd700"/><circle cx="954.6" cy="1452.3" r="7.3" fill="#4daf4a"/><circle cx="1099.7" cy="1513.8" r="7.3" fill="#377eb8"/><circle cx="879.4" cy="1573.5" r="7.3" fill="#1e90ff"/><circle cx="801.7" cy="1509.9" r="7.3" fill="#3d9970"/><circle cx="1013.6" cy="1508.9" r="7.3" fill="#ffd700"/><circle cx="851.0" cy="1580.8" r="7.3" fill="#ffd700"/><circle cx="768.1" cy="1511.1" r="7.3" fill="#0d9494"/><circle cx="1110.2" cy="1538.0" r="7.3" fill="#ffd700"/><circle cx="1127.0" cy="1577.2" r="7.3" fill="#e41a1c"/><circle cx="754.4" cy="1469.1" r="7.3" fill="#1e90ff"/><circle cx="723.0" cy="1513.3" r="7.3" fill="#1e90ff"/><circle cx="920.0" cy="1519.3" r="7.3" fill="#ffd700"/><circle cx="1142.8" cy="1586.7" r="7.3" fill="#ffd700"/><circle cx="940.1" cy="1443.8" r="7.3" fill="#ffd700"/><circle cx="752.1" cy="1584.6" r="7.3" fill="#faebd7"/><circle cx="712.3" cy="1487.7" r="7.3" fill="#ffd700"/><circle cx="1021.2" cy="1587.0" r="7.3" fill="#f05050"/><circle cx="1064.9" cy="1499.4" r="7.3" fill="#b010d0"/><circle cx="942.7" cy="1554.6" r="7.3" fill="#ffd700"/><circle cx="1077.8" cy="1552.8" r="7.3" fill="#ffd700"/><circle cx="908.8" cy="1531.8" r="7.3" fill="#7fdbda"/><circle cx="999.3" cy="1491.1" r="7.3" fill="#ffd700"/><circle cx="948.0" cy="1494.5" r="7.3" fill="#ffd700"/><circle cx="673.1" cy="1445.4" r="7.3" fill="#00008b"/><circle cx="687.0" cy="1493.1" r="7.3" fill="#1e90ff"/><circle cx="880.6" cy="1577.3" r="7.3" fill="#ffd700"/><circle cx="1208.1" cy="1536.7" r="7.3" fill="#ffd700"/><circle cx="1130.4" cy="1447.3" r="7.3" fill="#ffd700"/><circle cx="1227.1" cy="1488.2" r="7.3" fill="#e41a1c"/><circle cx="1222.2" cy="1588.9" r="7.3" fill="#ffd700"/><circle cx="836.1" cy="1527.1" r="7.3" fill="#ffd700"/><circle cx="690.9" cy="1560.3" r="7.3" fill="#ffd700"/><circle cx="872.7" cy="1566.6" r="7.3" fill="#e41a1c"/><circle cx="1165.6" cy="1569.9" r="7.3" fill="#ffd700"/><circle cx="895.5" cy="1509.6" r="7.3" fill="#ffd700"/><circle cx="767.3" cy="1492.9" r="7.3" fill="#ffd700"/><circle cx="644.6" cy="1524.2" r="7.3" fill="#ffd700"/><circle cx="978.7" cy="1444.2" r="7.3" fill="#377eb8"/><circle cx="916.1" cy="1553.5" r="7.3" fill="#1e90ff"/><circle cx="1106.2" cy="1562.6" r="7.3" fill="#ffd700"/><circle cx="953.0" cy="1520.3" r="7.3" fill="#3cc07c"/><circle cx="1157.2" cy="1437.0" r="7.3" fill="#ffd700"/><circle cx="1077.7" cy="1574.0" r="7.3" fill="#ffd700"/><circle cx="877.9" cy="1499.7" r="7.3" fill="#ffd700"/><circle cx="751.8" cy="1572.0" r="7.3" fill="#40d0b8"/><circle cx="1146.1" cy="1485.4" r="7.3" fill="#ffd700"/><circle cx="643.0" cy="1512.7" r="7.3" fill="#ffd700"/><circle cx="818.6" cy="1589.3" r="7.3" fill="#faebd7"/><circle cx="1223.2" cy="1539.3" r="7.3" fill="#e41a1c"/><circle cx="883.6" cy="1575.4" r="7.3" fill="#ffd700"/><circle cx="989.0" cy="1532.9" r="7.3" fill="#ffd700"/><circle cx="1007.1" cy="1462.4" r="7.3" fill="#f5a623"/><circle cx="1078.6" cy="1439.1" r="7.3" fill="#377eb8"/><circle cx="773.0" cy="1577.1" r="7.3" fill="#ffd700"/><circle cx="1075.2" cy="1487.8" r="7.3" fill="#faebd7"/><circle cx="744.5" cy="1470.6" r="7.3" fill="#ffd700"/><circle cx="1240.1" cy="1575.7" r="7.3" fill="#f5a623"/><circle cx="1224.9" cy="1580.8" r="7.3" fill="#7fdbda"/><circle cx="1015.4" cy="1468.1" r="7.3" fill="#1e90ff"/><circle cx="821.3" cy="1469.9" r="7.3" fill="#b010d0"/><circle cx="767.3" cy="1486.8" r="7.3" fill="#ffd700"/><circle cx="798.2" cy="1555.8" r="7.3" fill="#1e90ff"/><circle cx="1232.0" cy="1452.3" r="7.3" fill="#ff9ec4"/><circle cx="786.9" cy="1515.3" r="7.3" fill="#377eb8"/><circle cx="880.3" cy="1551.7" r="7.3" fill="#faebd7"/><circle cx="782.1" cy="1572.2" r="7.3" fill="#ffd700"/><circle cx="985.8" cy="1491.2" r="7.3" fill="#3d9970"/><circle cx="990.4" cy="1512.7" r="7.3" fill="#ffd700"/><circle cx="680.6" cy="1475.7" r="7.3" fill="#1e90ff"/><circle cx="1204.9" cy="1498.3" r="7.3" fill="#ffd700"/><circle cx="755.9" cy="1580.9" r="7.3" fill="#4daf4a"/><circle cx="890.2" cy="1446.3" r="7.3" fill="#1e90ff"/><circle cx="846.0" cy="1588.5" r="7.3" fill="#ffd700"/><circle cx="943.9" cy="1565.3" r="7.3" fill="#ffd700"/><circle cx="918.8" cy="1555.2" r="7.3" fill="#ffd700"/><circle cx="737.0" cy="1563.7" r="7.3" fill="#377eb8"/><circle cx="1055.3" cy="1529.4" r="7.3" fill="#ffd700"/><circle cx="788.5" cy="1462.6" r="7.3" fill="#ffd700"/><circle cx="1169.4" cy="1513.6" r="7.3" fill="#bfe8e0"/><circle cx="1110.1" cy="1488.4" r="7.3" fill="#ffd700"/><circle cx="1119.4" cy="1514.6" r="7.3" fill="#ffd700"/><circle cx="924.0" cy="1506.0" r="7.3" fill="#ffd700"/><circle cx="987.6" cy="1568.6" r="7.3" fill="#984ea3"/><circle cx="891.1" cy="1493.2" r="7.3" fill="#40d0b8"/><circle cx="1205.5" cy="1548.6" r="7.3" fill="#faebd7"/><circle cx="952.3" cy="1489.5" r="7.3" fill="#4daf4a"/><circle cx="701.2" cy="1529.0" r="7.3" fill="#7fdbda"/><circle cx="1051.7" cy="1453.8" r="7.3" fill="#3d9970"/><circle cx="907.1" cy="1534.7" r="7.3" fill="#ffd700"/><circle cx="1119.8" cy="1517.0" r="7.3" fill="#377eb8"/><circle cx="736.2" cy="1561.9" r="7.3" fill="#40d0b8"/><circle cx="995.4" cy="1482.9" r="7.3" fill="#e41a1c"/><circle cx="1230.1" cy="1456.6" r="7.3" fill="#b010d0"/><circle cx="640.0" cy="1492.0" r="7.3" fill="#1e90ff"/><circle cx="660.3" cy="1541.6" r="7.3" fill="#4daf4a"/><circle cx="737.0" cy="1528.7" r="7.3" fill="#ffd700"/><circle cx="742.4" cy="1459.2" r="7.3" fill="#ffd700"/><circle cx="665.1" cy="1525.5" r="7.3" fill="#ffd700"/><circle cx="1176.8" cy="1452.8" r="7.3" fill="#ffd700"/><circle cx="944.5" cy="1505.3" r="7.3" fill="#ffd700"/><circle cx="1007.3" cy="1458.8" r="7.3" fill="#1e90ff"/><circle cx="688.0" cy="1435.2" r="7.3" fill="#ffd700"/><circle cx="841.2" cy="1498.8" r="7.3" fill="#ffd700"/><circle cx="928.9" cy="1437.7" r="7.3" fill="#ffd700"/><circle cx="1237.6" cy="1482.3" r="7.3" fill="#ffd700"/><circle cx="804.8" cy="1538.0" r="7.3" fill="#ff9ec4"/><circle cx="978.5" cy="1530.4" r="7.3" fill="#ffd700"/><circle cx="954.3" cy="1518.1" r="7.3" fill="#a6e3b0"/><circle cx="1028.4" cy="1588.1" r="7.3" fill="#ffd700"/><circle cx="948.5" cy="1527.5" r="7.3" fill="#1e90ff"/><circle cx="862.0" cy="1473.3" r="7.3" fill="#1e90ff"/><circle cx="1067.2" cy="1476.4" r="7.3" fill="#ffd700"/><circle cx="760.8" cy="1498.9" r="7.3" fill="#ffd700"/><circle cx="1181.4" cy="1491.5" r="7.3" fill="#ffd700"/><circle cx="745.4" cy="1572.6" r="7.3" fill="#b010d0"/><circle cx="661.5" cy="1504.8" r="7.3" fill="#ffd700"/><circle cx="780.8" cy="1538.7" r="7.3" fill="#8b4513"/><circle cx="860.5" cy="1588.1" r="7.3" fill="#ffd700"/><circle cx="782.6" cy="1541.7" r="7.3" fill="#ffd700"/><circle cx="888.1" cy="1525.4" r="7.3" fill="#1e90ff"/><circle cx="698.9" cy="1494.2" r="7.3" fill="#1e90ff"/><circle cx="758.8" cy="1508.7" r="7.3" fill="#ffd700"/><circle cx="747.8" cy="1493.4" r="7.3" fill="#ffd700"/><circle cx="1121.7" cy="1522.2" r="7.3" fill="#ffd700"/><circle cx="637.0" cy="1471.8" r="7.3" fill="#ffd700"/><circle cx="668.3" cy="1505.3" r="7.3" fill="#3d9970"/><circle cx="1044.1" cy="1529.9" r="7.3" fill="#ffd700"/><circle cx="1150.8" cy="1472.7" r="7.3" fill="#ffd700"/><circle cx="780.0" cy="1481.2" r="7.3" fill="#faebd7"/><circle cx="915.3" cy="1577.3" r="7.3" fill="#ffd700"/><circle cx="872.4" cy="1531.1" r="7.3" fill="#ffd700"/><circle cx="929.2" cy="1489.9" r="7.3" fill="#377eb8"/><circle cx="884.6" cy="1538.5" r="7.3" fill="#ffd700"/><circle cx="633.7" cy="1516.6" r="7.3" fill="#ffd700"/><circle cx="862.9" cy="1464.0" r="7.3" fill="#f05050"/><circle cx="743.5" cy="1475.4" r="7.3" fill="#ffd700"/><circle cx="1197.3" cy="1509.8" r="7.3" fill="#00008b"/><circle cx="764.5" cy="1482.9" r="7.3" fill="#1e90ff"/><circle cx="635.4" cy="1472.8" r="7.3" fill="#ffd700"/><circle cx="686.0" cy="1526.3" r="7.3" fill="#ffd700"/><circle cx="917.3" cy="1543.6" r="7.3" fill="#ffd700"/><circle cx="1178.1" cy="1586.2" r="7.3" fill="#ffd700"/><circle cx="1080.3" cy="1544.9" r="7.3" fill="#ffd700"/><circle cx="884.4" cy="1536.2" r="7.3" fill="#ffd700"/><circle cx="1162.9" cy="1562.7" r="7.3" fill="#7a35d6"/><circle cx="968.5" cy="1588.9" r="7.3" fill="#b010d0"/><circle cx="771.0" cy="1509.9" r="7.3" fill="#ffd700"/><circle cx="799.3" cy="1560.5" r="7.3" fill="#4daf4a"/><circle cx="1013.4" cy="1553.4" r="7.3" fill="#1e90ff"/><circle cx="896.5" cy="1443.9" r="7.3" fill="#ffd700"/><circle cx="1035.4" cy="1553.7" r="7.3" fill="#f05050"/><circle cx="673.5" cy="1502.7" r="7.3" fill="#ffd700"/><circle cx="801.6" cy="1561.5" r="7.3" fill="#ffd700"/><circle cx="836.4" cy="1529.9" r="7.3" fill="#ffd700"/><circle cx="1047.2" cy="1583.6" r="7.3" fill="#377eb8"/><circle cx="834.3" cy="1579.5" r="7.3" fill="#ffd700"/><circle cx="980.9" cy="1444.5" r="7.3" fill="#e41a1c"/><circle cx="800.0" cy="1454.4" r="7.3" fill="#7a35d6"/><circle cx="1134.9" cy="1518.4" r="7.3" fill="#ffd700"/><circle cx="948.1" cy="1470.2" r="7.3" fill="#1e90ff"/><circle cx="1048.8" cy="1582.4" r="7.3" fill="#ffd700"/><circle cx="797.8" cy="1464.1" r="7.3" fill="#40d0b8"/><circle cx="1129.4" cy="1489.8" r="7.3" fill="#ffd700"/><circle cx="1140.5" cy="1525.9" r="7.3" fill="#3cc07c"/><circle cx="885.9" cy="1527.5" r="7.3" fill="#ffd700"/><circle cx="740.9" cy="1566.0" r="7.3" fill="#e41a1c"/><circle cx="980.1" cy="1537.8" r="7.3" fill="#ffd700"/><circle cx="855.4" cy="1526.0" r="7.3" fill="#3cc07c"/><circle cx="1194.3" cy="1474.7" r="7.3" fill="#ffd700"/><circle cx="905.2" cy="1551.7" r="7.3" fill="#ffd700"/><circle cx="1234.0" cy="1539.4" r="7.3" fill="#ffd700"/><circle cx="702.4" cy="1444.4" r="7.3" fill="#ffd700"/><circle cx="1016.2" cy="1525.0" r="7.3" fill="#e41a1c"/><circle cx="1179.1" cy="1542.7" r="7.3" fill="#377eb8"/><circle cx="786.5" cy="1482.3" r="7.3" fill="#ffd700"/><circle cx="839.1" cy="1519.5" r="7.3" fill="#ffd700"/><circle cx="1004.2" cy="1485.7" r="7.3" fill="#ffd700"/><circle cx="790.6" cy="1522.2" r="7.3" fill="#ffd700"/><circle cx="655.4" cy="1490.0" r="7.3" fill="#7fdbda"/><circle cx="1170.5" cy="1496.9" r="7.3" fill="#ffd700"/><circle cx="1024.6" cy="1442.6" r="7.3" fill="#1e90ff"/><circle cx="704.9" cy="1543.9" r="7.3" fill="#ffd700"/><circle cx="1113.8" cy="1488.4" r="7.3" fill="#ffd700"/><circle cx="950.8" cy="1471.4" r="7.3" fill="#ffd700"/><circle cx="767.0" cy="1583.2" r="7.3" fill="#ffd700"/><circle cx="639.8" cy="1542.6" r="7.3" fill="#ffd700"/><circle cx="665.0" cy="1508.8" r="7.3" fill="#ffd700"/><circle cx="648.6" cy="1459.6" r="7.3" fill="#ffd700"/><circle cx="793.5" cy="1570.0" r="7.3" fill="#ffd700"/><circle cx="1040.5" cy="1493.0" r="7.3" fill="#8b4513"/><circle cx="1047.9" cy="1480.3" r="7.3" fill="#e41a1c"/><circle cx="1066.2" cy="1521.0" r="7.3" fill="#ffd700"/><circle cx="733.6" cy="1564.2" r="7.3" fill="#1e90ff"/><circle cx="840.8" cy="1531.5" r="7.3" fill="#ffd700"/><circle cx="725.9" cy="1513.9" r="7.3" fill="#ffd700"/><circle cx="1036.8" cy="1524.4" r="7.3" fill="#ffd700"/><circle cx="862.6" cy="1469.9" r="7.3" fill="#ffd700"/><circle cx="828.1" cy="1503.9" r="7.3" fill="#faebd7"/><circle cx="1152.9" cy="1535.7" r="7.3" fill="#4daf4a"/><circle cx="1039.7" cy="1555.0" r="7.3" fill="#ffd700"/><circle cx="794.6" cy="1469.2" r="7.3" fill="#ffd700"/><circle cx="1230.2" cy="1540.9" r="7.3" fill="#4daf4a"/><circle cx="1007.7" cy="1502.4" r="7.3" fill="#ffd700"/><circle cx="658.2" cy="1542.4" r="7.3" fill="#ffd700"/><circle cx="686.3" cy="1582.0" r="7.3" fill="#f05050"/><circle cx="642.8" cy="1472.9" r="7.3" fill="#ffd700"/><circle cx="939.8" cy="1435.1" r="7.3" fill="#00008b"/><circle cx="1041.3" cy="1538.5" r="7.3" fill="#7a35d6"/><circle cx="1079.4" cy="1457.8" r="7.3" fill="#b010d0"/><circle cx="645.9" cy="1461.7" r="7.3" fill="#377eb8"/><circle cx="827.9" cy="1576.4" r="7.3" fill="#ffd700"/><circle cx="1128.2" cy="1586.2" r="7.3" fill="#ffd700"/><circle cx="1050.0" cy="1561.6" r="7.3" fill="#ffd700"/><circle cx="897.2" cy="1541.6" r="7.3" fill="#ffd700"/><circle cx="1119.1" cy="1444.8" r="7.3" fill="#4daf4a"/><circle cx="1048.9" cy="1581.8" r="7.3" fill="#ffd700"/><circle cx="881.7" cy="1513.4" r="7.3" fill="#ffd700"/><circle cx="690.8" cy="1565.2" r="7.3" fill="#ffd700"/><circle cx="768.5" cy="1486.2" r="7.3" fill="#1e90ff"/><circle cx="886.3" cy="1483.1" r="7.3" fill="#ffd700"/><circle cx="826.5" cy="1463.4" r="7.3" fill="#ffd700"/><circle cx="913.1" cy="1542.6" r="7.3" fill="#ffd700"/><circle cx="1240.5" cy="1463.3" r="7.3" fill="#377eb8"/><circle cx="740.5" cy="1485.8" r="7.3" fill="#ffd700"/><circle cx="953.3" cy="1588.3" r="7.3" fill="#ffd700"/><circle cx="1173.6" cy="1576.6" r="7.3" fill="#4daf4a"/><circle cx="1200.2" cy="1478.0" r="7.3" fill="#00008b"/><circle cx="837.0" cy="1516.9" r="7.3" fill="#ffd700"/><circle cx="1159.3" cy="1485.5" r="7.3" fill="#ffd700"/><circle cx="806.1" cy="1550.6" r="7.3" fill="#4daf4a"/><circle cx="914.3" cy="1537.0" r="7.3" fill="#b010d0"/><circle cx="1178.7" cy="1498.1" r="7.3" fill="#7a35d6"/><circle cx="1172.6" cy="1443.4" r="7.3" fill="#ffd700"/><circle cx="1047.8" cy="1537.9" r="7.3" fill="#7fdbda"/><circle cx="903.5" cy="1576.7" r="7.3" fill="#ffd700"/><circle cx="794.5" cy="1503.3" r="7.3" fill="#ffd700"/><circle cx="699.4" cy="1489.4" r="7.3" fill="#e41a1c"/><circle cx="1066.6" cy="1456.9" r="7.3" fill="#7fdbda"/><circle cx="1153.6" cy="1453.8" r="7.3" fill="#ffd700"/><circle cx="851.9" cy="1525.4" r="7.3" fill="#f0962e"/><circle cx="760.2" cy="1506.0" r="7.3" fill="#ffd700"/><circle cx="1140.9" cy="1578.4" r="7.3" fill="#ffd700"/><circle cx="735.4" cy="1487.1" r="7.3" fill="#ffd700"/><circle cx="653.7" cy="1497.1" r="7.3" fill="#377eb8"/><circle cx="1011.8" cy="1582.1" r="7.3" fill="#3cc07c"/><circle cx="1230.0" cy="1545.4" r="7.3" fill="#4daf4a"/><circle cx="1057.3" cy="1453.9" r="7.3" fill="#1e90ff"/><circle cx="1039.8" cy="1456.8" r="7.3" fill="#4daf4a"/><circle cx="896.6" cy="1538.8" r="7.3" fill="#ffd700"/><circle cx="1011.5" cy="1450.0" r="7.3" fill="#faebd7"/><circle cx="1124.8" cy="1491.7" r="7.3" fill="#ffd700"/><circle cx="691.0" cy="1532.8" r="7.3" fill="#ffd700"/><circle cx="1227.0" cy="1453.6" r="7.3" fill="#40d0b8"/><circle cx="1183.5" cy="1541.8" r="7.3" fill="#377eb8"/><circle cx="687.3" cy="1503.8" r="7.3" fill="#ffd700"/><circle cx="677.0" cy="1559.2" r="7.3" fill="#ffd700"/><circle cx="710.0" cy="1516.3" r="7.3" fill="#ffd700"/><circle cx="1126.0" cy="1523.1" r="7.3" fill="#f05050"/><circle cx="1102.7" cy="1512.8" r="7.3" fill="#ffd700"/><circle cx="1245.4" cy="1484.6" r="7.3" fill="#984ea3"/><circle cx="1149.6" cy="1464.0" r="7.3" fill="#ffd700"/><circle cx="1120.3" cy="1549.1" r="7.3" fill="#377eb8"/><circle cx="820.4" cy="1531.6" r="7.3" fill="#1e90ff"/><circle cx="1158.7" cy="1510.1" r="7.3" fill="#ffd700"/><circle cx="1105.6" cy="1499.8" r="7.3" fill="#1e90ff"/><circle cx="720.2" cy="1474.1" r="7.3" fill="#f5a623"/><circle cx="728.7" cy="1515.8" r="7.3" fill="#1e90ff"/><circle cx="743.4" cy="1544.0" r="7.3" fill="#4daf4a"/><circle cx="1099.7" cy="1438.2" r="7.3" fill="#1e90ff"/><circle cx="724.5" cy="1519.2" r="7.3" fill="#faebd7"/><circle cx="1095.6" cy="1502.9" r="7.3" fill="#ffd700"/><circle cx="669.2" cy="1528.1" r="7.3" fill="#ffd700"/><circle cx="843.3" cy="1576.6" r="7.3" fill="#377eb8"/><circle cx="670.5" cy="1588.2" r="7.3" fill="#40d0b8"/><circle cx="1005.5" cy="1458.2" r="7.3" fill="#e41a1c"/><circle cx="1142.5" cy="1453.8" r="7.3" fill="#ffd700"/><circle cx="1051.9" cy="1453.8" r="7.3" fill="#ffd700"/><circle cx="874.4" cy="1557.5" r="7.3" fill="#1e90ff"/><circle cx="747.4" cy="1570.7" r="7.3" fill="#ffd700"/><circle cx="654.6" cy="1518.4" r="7.3" fill="#ffd700"/><circle cx="985.0" cy="1555.9" r="7.3" fill="#ff9ec4"/><circle cx="681.1" cy="1444.1" r="7.3" fill="#4daf4a"/><circle cx="1088.0" cy="1477.1" r="7.3" fill="#ffd700"/><circle cx="1170.7" cy="1510.9" r="7.3" fill="#ffd700"/><circle cx="641.0" cy="1451.7" r="7.3" fill="#4daf4a"/><circle cx="1137.3" cy="1436.3" r="7.3" fill="#ffd700"/><circle cx="1198.8" cy="1481.4" r="7.3" fill="#ffd700"/><circle cx="1118.1" cy="1464.7" r="7.3" fill="#ffd700"/><circle cx="1152.5" cy="1480.5" r="7.3" fill="#1e90ff"/><circle cx="643.2" cy="1541.0" r="7.3" fill="#377eb8"/><circle cx="740.6" cy="1576.6" r="7.3" fill="#ffd700"/><circle cx="787.1" cy="1472.5" r="7.3" fill="#3d9970"/><circle cx="1104.7" cy="1568.8" r="7.3" fill="#ffd700"/><circle cx="1023.7" cy="1485.5" r="7.3" fill="#4daf4a"/><circle cx="1037.3" cy="1461.6" r="7.3" fill="#4daf4a"/><circle cx="1233.4" cy="1443.2" r="7.3" fill="#4daf4a"/><circle cx="874.8" cy="1462.4" r="7.3" fill="#ffd700"/><circle cx="673.2" cy="1444.4" r="7.3" fill="#ffd700"/><circle cx="996.2" cy="1522.5" r="7.3" fill="#00008b"/><circle cx="988.6" cy="1508.1" r="7.3" fill="#ffd700"/><circle cx="700.6" cy="1508.0" r="7.3" fill="#ffd700"/><circle cx="1237.7" cy="1512.1" r="7.3" fill="#00008b"/><circle cx="1119.4" cy="1589.1" r="7.3" fill="#ffd700"/><circle cx="656.6" cy="1459.2" r="7.3" fill="#ffd700"/><circle cx="664.6" cy="1440.5" r="7.3" fill="#1e90ff"/><circle cx="885.6" cy="1551.6" r="7.3" fill="#ffd700"/><circle cx="762.9" cy="1588.5" r="7.3" fill="#f5a623"/><circle cx="1168.2" cy="1444.4" r="7.3" fill="#4daf4a"/><circle cx="906.6" cy="1523.2" r="7.3" fill="#ffd700"/><circle cx="711.1" cy="1570.4" r="7.3" fill="#ffd700"/><circle cx="790.3" cy="1443.0" r="7.3" fill="#984ea3"/><circle cx="994.6" cy="1508.8" r="7.3" fill="#f0962e"/><circle cx="1140.5" cy="1490.4" r="7.3" fill="#ffd700"/><circle cx="944.1" cy="1478.0" r="7.3" fill="#faebd7"/><circle cx="1035.9" cy="1470.1" r="7.3" fill="#3d9970"/><circle cx="1179.2" cy="1539.7" r="7.3" fill="#ffd700"/><circle cx="1248.8" cy="1509.7" r="7.3" fill="#ffd700"/><circle cx="1034.2" cy="1556.2" r="7.3" fill="#f05050"/><circle cx="769.2" cy="1590.5" r="7.3" fill="#ffd700"/><circle cx="1051.0" cy="1448.6" r="7.3" fill="#ffd700"/><circle cx="1016.3" cy="1571.0" r="7.3" fill="#7a35d6"/><circle cx="687.2" cy="1547.5" r="7.3" fill="#faebd7"/><circle cx="971.9" cy="1546.2" r="7.3" fill="#ffd700"/><circle cx="829.3" cy="1453.3" r="7.3" fill="#b010d0"/><circle cx="1122.9" cy="1562.5" r="7.3" fill="#4daf4a"/><circle cx="970.6" cy="1515.4" r="7.3" fill="#ffd700"/><circle cx="685.8" cy="1468.8" r="7.3" fill="#ffd700"/><circle cx="1239.9" cy="1512.0" r="7.3" fill="#1e90ff"/><circle cx="822.4" cy="1561.5" r="7.3" fill="#ffd700"/><circle cx="877.6" cy="1590.6" r="7.3" fill="#ffd700"/><circle cx="1101.9" cy="1488.2" r="7.3" fill="#ffd700"/><circle cx="1230.6" cy="1523.4" r="7.3" fill="#ffd700"/><circle cx="1019.8" cy="1484.5" r="7.3" fill="#3d9970"/><circle cx="820.5" cy="1495.0" r="7.3" fill="#4daf4a"/><circle cx="965.6" cy="1579.6" r="7.3" fill="#ffd700"/><circle cx="911.7" cy="1510.7" r="7.3" fill="#ffd700"/><circle cx="1024.9" cy="1500.2" r="7.3" fill="#ffd700"/><circle cx="1090.8" cy="1536.8" r="7.3" fill="#7fdbda"/><circle cx="723.2" cy="1461.2" r="7.3" fill="#b010d0"/><circle cx="1076.6" cy="1566.3" r="7.3" fill="#377eb8"/><circle cx="651.4" cy="1490.2" r="7.3" fill="#ffd700"/><circle cx="693.0" cy="1530.5" r="7.3" fill="#a65628"/><circle cx="1152.5" cy="1561.5" r="7.3" fill="#ffd700"/><circle cx="1086.5" cy="1480.6" r="7.3" fill="#40d0b8"/><circle cx="1108.6" cy="1438.0" r="7.3" fill="#b010d0"/><circle cx="829.2" cy="1508.6" r="7.3" fill="#ffd700"/><circle cx="757.1" cy="1585.4" r="7.3" fill="#999999"/><circle cx="764.0" cy="1536.2" r="7.3" fill="#ffd700"/><circle cx="938.6" cy="1526.3" r="7.3" fill="#ffd700"/><circle cx="1179.2" cy="1507.8" r="7.3" fill="#ffd700"/><circle cx="726.5" cy="1459.2" r="7.3" fill="#ffd700"/><circle cx="782.6" cy="1519.4" r="7.3" fill="#ffd700"/><circle cx="700.6" cy="1476.5" r="7.3" fill="#f0962e"/><circle cx="784.5" cy="1578.5" r="7.3" fill="#f05050"/><circle cx="1196.6" cy="1537.7" r="7.3" fill="#faebd7"/><circle cx="919.2" cy="1438.1" r="7.3" fill="#ffd700"/><circle cx="681.4" cy="1455.0" r="7.3" fill="#1e90ff"/><circle cx="783.3" cy="1511.8" r="7.3" fill="#377eb8"/><circle cx="753.7" cy="1499.1" r="7.3" fill="#ffd700"/><circle cx="698.3" cy="1544.0" r="7.3" fill="#ffd700"/><circle cx="641.2" cy="1556.0" r="7.3" fill="#4daf4a"/><circle cx="1005.1" cy="1480.5" r="7.3" fill="#ffd700"/><circle cx="984.0" cy="1482.9" r="7.3" fill="#1e90ff"/><circle cx="1124.4" cy="1574.6" r="7.3" fill="#ffd700"/><circle cx="863.6" cy="1494.1" r="7.3" fill="#1e90ff"/><circle cx="929.7" cy="1529.1" r="7.3" fill="#4daf4a"/><circle cx="742.0" cy="1439.3" r="7.3" fill="#faebd7"/><circle cx="934.8" cy="1589.3" r="7.3" fill="#e8604c"/><circle cx="787.4" cy="1476.5" r="7.3" fill="#ffd700"/><circle cx="1174.2" cy="1436.0" r="7.3" fill="#984ea3"/><circle cx="1110.2" cy="1481.5" r="7.3" fill="#ffd700"/><circle cx="702.2" cy="1544.7" r="7.3" fill="#ffd700"/><circle cx="1231.8" cy="1499.4" r="7.3" fill="#4daf4a"/><circle cx="1229.0" cy="1575.5" r="7.3" fill="#ffd700"/><circle cx="1014.0" cy="1493.3" r="7.3" fill="#ffd700"/><circle cx="1099.4" cy="1484.3" r="7.3" fill="#ffd700"/><circle cx="1013.6" cy="1579.6" r="7.3" fill="#ffd700"/><circle cx="939.4" cy="1514.5" r="7.3" fill="#1e90ff"/><circle cx="978.1" cy="1512.8" r="7.3" fill="#faebd7"/><circle cx="794.0" cy="1515.6" r="7.3" fill="#7fdbda"/><circle cx="787.6" cy="1442.8" r="7.3" fill="#7fdbda"/><circle cx="1050.4" cy="1455.7" r="7.3" fill="#ffd700"/><circle cx="717.9" cy="1451.4" r="7.3" fill="#ffd700"/><circle cx="1134.1" cy="1464.3" r="7.3" fill="#377eb8"/><circle cx="1060.9" cy="1472.5" r="7.3" fill="#377eb8"/><circle cx="987.0" cy="1479.5" r="7.3" fill="#3d9970"/><circle cx="893.3" cy="1533.7" r="7.3" fill="#ffd700"/><circle cx="972.1" cy="1551.7" r="7.3" fill="#ffd700"/><circle cx="737.2" cy="1505.8" r="7.3" fill="#faebd7"/><circle cx="927.4" cy="1509.0" r="7.3" fill="#ffd700"/><circle cx="1153.7" cy="1583.2" r="7.3" fill="#ffd700"/><circle cx="1051.2" cy="1499.6" r="7.3" fill="#ffd700"/><circle cx="1164.5" cy="1537.4" r="7.3" fill="#7be02f"/><circle cx="781.1" cy="1579.0" r="7.3" fill="#ffd700"/><circle cx="1092.8" cy="1503.1" r="7.3" fill="#984ea3"/><circle cx="1012.0" cy="1481.0" r="7.3" fill="#ffd700"/><circle cx="751.2" cy="1549.4" r="7.3" fill="#ffd700"/><circle cx="1093.0" cy="1570.0" r="7.3" fill="#ffd700"/><circle cx="1173.4" cy="1552.7" r="7.3" fill="#1e90ff"/><circle cx="1229.6" cy="1527.4" r="7.3" fill="#ffd700"/><circle cx="937.6" cy="1582.3" r="7.3" fill="#ffd700"/><circle cx="963.5" cy="1437.7" r="7.3" fill="#ffd700"/><circle cx="708.3" cy="1436.2" r="7.3" fill="#7a35d6"/><circle cx="677.6" cy="1450.8" r="7.3" fill="#ffd700"/><circle cx="765.5" cy="1487.5" r="7.3" fill="#ffd700"/><circle cx="655.0" cy="1569.4" r="7.3" fill="#ffd700"/><circle cx="677.1" cy="1450.1" r="7.3" fill="#ffd700"/><circle cx="1041.6" cy="1515.3" r="7.3" fill="#faebd7"/><circle cx="675.8" cy="1547.5" r="7.3" fill="#faebd7"/><circle cx="913.0" cy="1500.4" r="7.3" fill="#40d0b8"/><circle cx="1214.4" cy="1559.7" r="7.3" fill="#ffd700"/><circle cx="801.5" cy="1534.8" r="7.3" fill="#ffd700"/><circle cx="1101.4" cy="1500.0" r="7.3" fill="#ffd700"/><circle cx="930.4" cy="1572.2" r="7.3" fill="#ffd700"/><circle cx="1076.1" cy="1469.5" r="7.3" fill="#ffd700"/><circle cx="966.0" cy="1533.1" r="7.3" fill="#999999"/><circle cx="1155.0" cy="1569.2" r="7.3" fill="#ffd700"/><circle cx="678.6" cy="1492.9" r="7.3" fill="#3cc07c"/><circle cx="1143.0" cy="1477.0" r="7.3" fill="#1e90ff"/><circle cx="1081.4" cy="1506.9" r="7.3" fill="#ffd700"/><circle cx="862.6" cy="1507.7" r="7.3" fill="#ffd700"/><circle cx="752.2" cy="1542.7" r="7.3" fill="#ffd700"/><circle cx="782.9" cy="1511.3" r="7.3" fill="#377eb8"/><circle cx="1171.0" cy="1557.9" r="7.3" fill="#ffd700"/><circle cx="990.8" cy="1479.1" r="7.3" fill="#1e90ff"/><circle cx="1089.8" cy="1562.6" r="7.3" fill="#4daf4a"/><circle cx="992.4" cy="1489.0" r="7.3" fill="#3cc07c"/><circle cx="682.6" cy="1551.1" r="7.3" fill="#b010d0"/><circle cx="814.3" cy="1480.8" r="7.3" fill="#ffd700"/><circle cx="767.2" cy="1514.6" r="7.3" fill="#ffd700"/><circle cx="1204.6" cy="1553.2" r="7.3" fill="#4daf4a"/><circle cx="864.0" cy="1459.4" r="7.3" fill="#ffd700"/><circle cx="1036.1" cy="1507.2" r="7.3" fill="#1e90ff"/><circle cx="966.2" cy="1468.1" r="7.3" fill="#3d9970"/><circle cx="1011.3" cy="1455.4" r="7.3" fill="#ffd700"/><circle cx="705.5" cy="1512.6" r="7.3" fill="#3d9970"/><circle cx="761.3" cy="1588.4" r="7.3" fill="#ffd700"/><circle cx="864.7" cy="1531.2" r="7.3" fill="#ffd700"/><circle cx="688.3" cy="1515.4" r="7.3" fill="#ffd700"/><circle cx="818.1" cy="1494.3" r="7.3" fill="#ffd700"/><circle cx="1030.5" cy="1575.1" r="7.3" fill="#ffd700"/><circle cx="856.9" cy="1571.3" r="7.3" fill="#984ea3"/><circle cx="684.4" cy="1445.0" r="7.3" fill="#4daf4a"/><circle cx="731.3" cy="1492.9" r="7.3" fill="#0d9494"/><circle cx="785.1" cy="1525.5" r="7.3" fill="#ffd700"/><circle cx="830.1" cy="1457.3" r="7.3" fill="#ffd700"/><circle cx="900.2" cy="1447.3" r="7.3" fill="#ffd700"/><circle cx="1081.4" cy="1502.9" r="7.3" fill="#4daf4a"/><circle cx="1094.5" cy="1447.8" r="7.3" fill="#ffd700"/><circle cx="1229.4" cy="1590.8" r="7.3" fill="#ffd700"/><circle cx="1019.9" cy="1578.8" r="7.3" fill="#ffd700"/><circle cx="891.9" cy="1479.8" r="7.3" fill="#ffd700"/><circle cx="687.0" cy="1497.3" r="7.3" fill="#e41a1c"/><circle cx="714.4" cy="1505.6" r="7.3" fill="#4daf4a"/><circle cx="1229.3" cy="1464.0" r="7.3" fill="#40d0b8"/><circle cx="954.4" cy="1498.4" r="7.3" fill="#ffd700"/><circle cx="1221.8" cy="1565.2" r="7.3" fill="#ffd700"/><circle cx="852.0" cy="1500.1" r="7.3" fill="#377eb8"/><circle cx="1059.5" cy="1493.1" r="7.3" fill="#ffd700"/><circle cx="1235.1" cy="1448.4" r="7.3" fill="#ffd700"/><circle cx="695.3" cy="1436.4" r="7.3" fill="#ffd700"/><circle cx="1165.8" cy="1483.3" r="7.3" fill="#377eb8"/><circle cx="1013.4" cy="1442.9" r="7.3" fill="#ffd700"/><circle cx="732.7" cy="1582.6" r="7.3" fill="#ffd700"/><circle cx="969.8" cy="1447.3" r="7.3" fill="#ffd700"/><circle cx="776.8" cy="1466.0" r="7.3" fill="#4daf4a"/><circle cx="761.9" cy="1503.2" r="7.3" fill="#ffd700"/><circle cx="1154.4" cy="1488.0" r="7.3" fill="#4daf4a"/><circle cx="1084.4" cy="1542.3" r="7.3" fill="#377eb8"/><circle cx="1101.0" cy="1486.0" r="7.3" fill="#ffd700"/><circle cx="1132.0" cy="1508.5" r="7.3" fill="#ffd700"/><circle cx="816.2" cy="1520.3" r="7.3" fill="#ffd700"/><circle cx="668.1" cy="1528.5" r="7.3" fill="#ffd700"/><circle cx="1239.7" cy="1591.0" r="7.3" fill="#ffd700"/><circle cx="1000.1" cy="1450.9" r="7.3" fill="#7a35d6"/><circle cx="662.7" cy="1535.1" r="7.3" fill="#ffd700"/><circle cx="1133.5" cy="1579.8" r="7.3" fill="#ffd700"/><circle cx="1234.7" cy="1577.0" r="7.3" fill="#ffd700"/><circle cx="698.9" cy="1510.0" r="7.3" fill="#e41a1c"/><circle cx="1160.9" cy="1563.1" r="7.3" fill="#ffd700"/><circle cx="925.9" cy="1466.5" r="7.3" fill="#ffd700"/><circle cx="1097.8" cy="1485.3" r="7.3" fill="#f0962e"/><circle cx="1049.2" cy="1525.5" r="7.3" fill="#4daf4a"/><circle cx="927.2" cy="1472.2" r="7.3" fill="#ffd700"/><circle cx="943.8" cy="1524.1" r="7.3" fill="#ffd700"/><circle cx="639.3" cy="1462.5" r="7.3" fill="#ffd700"/><circle cx="1218.3" cy="1441.7" r="7.3" fill="#b010d0"/><circle cx="1006.4" cy="1501.4" r="7.3" fill="#ffd700"/><circle cx="1174.6" cy="1556.9" r="7.3" fill="#ffd700"/><circle cx="1165.8" cy="1490.9" r="7.3" fill="#e41a1c"/><circle cx="940.2" cy="1569.3" r="7.3" fill="#ffd700"/><circle cx="942.8" cy="1564.8" r="7.3" fill="#4daf4a"/><circle cx="1145.7" cy="1457.9" r="7.3" fill="#faebd7"/><circle cx="646.0" cy="1550.7" r="7.3" fill="#ffd700"/><circle cx="1056.0" cy="1448.7" r="7.3" fill="#f5a623"/><circle cx="978.7" cy="1459.1" r="7.3" fill="#3cc07c"/><circle cx="1056.0" cy="1521.5" r="7.3" fill="#faebd7"/><circle cx="660.8" cy="1552.1" r="7.3" fill="#ffd700"/><circle cx="1012.4" cy="1439.2" r="7.3" fill="#ffd700"/><circle cx="658.0" cy="1517.9" r="7.3" fill="#ffd700"/><circle cx="799.2" cy="1450.7" r="7.3" fill="#f05050"/><circle cx="1134.3" cy="1460.4" r="7.3" fill="#40d0b8"/><circle cx="1181.1" cy="1480.8" r="7.3" fill="#7a35d6"/><circle cx="705.3" cy="1486.5" r="7.3" fill="#ffd700"/><circle cx="668.9" cy="1459.6" r="7.3" fill="#7fdbda"/><circle cx="876.1" cy="1435.3" r="7.3" fill="#ffd700"/><circle cx="793.9" cy="1499.5" r="7.3" fill="#40d0b8"/><circle cx="903.5" cy="1567.1" r="7.3" fill="#ffd700"/><circle cx="1069.4" cy="1506.2" r="7.3" fill="#ffd700"/><circle cx="812.4" cy="1500.2" r="7.3" fill="#ffd700"/><circle cx="898.2" cy="1590.3" r="7.3" fill="#4daf4a"/><circle cx="821.6" cy="1506.4" r="7.3" fill="#ffd700"/><circle cx="925.0" cy="1556.7" r="7.3" fill="#40d0b8"/><circle cx="1246.7" cy="1590.1" r="7.3" fill="#ff9ec4"/><circle cx="720.4" cy="1445.7" r="7.3" fill="#ffd700"/><circle cx="1232.0" cy="1532.1" r="7.3" fill="#ffd700"/><circle cx="789.0" cy="1568.3" r="7.3" fill="#f5a623"/><circle cx="944.6" cy="1461.1" r="7.3" fill="#1e90ff"/><circle cx="1178.5" cy="1574.6" r="7.3" fill="#1e90ff"/><circle cx="862.6" cy="1466.9" r="7.3" fill="#ffd700"/><circle cx="709.1" cy="1480.3" r="7.3" fill="#4daf4a"/><circle cx="814.6" cy="1458.2" r="7.3" fill="#377eb8"/><circle cx="1074.9" cy="1584.9" r="7.3" fill="#ffd700"/><circle cx="1145.1" cy="1564.0" r="7.3" fill="#1e90ff"/><circle cx="1044.2" cy="1560.6" r="7.3" fill="#ffd700"/><circle cx="664.6" cy="1552.1" r="7.3" fill="#ffd700"/><circle cx="1212.3" cy="1533.8" r="7.3" fill="#ffd700"/><circle cx="865.0" cy="1520.5" r="7.3" fill="#ffd700"/><circle cx="888.8" cy="1565.0" r="7.3" fill="#7fdbda"/><circle cx="905.4" cy="1545.1" r="7.3" fill="#ffd700"/><circle cx="1100.2" cy="1511.0" r="7.3" fill="#377eb8"/><circle cx="1246.3" cy="1473.0" r="7.3" fill="#7fdbda"/><circle cx="1239.1" cy="1552.6" r="7.3" fill="#e8604c"/><circle cx="1083.0" cy="1574.5" r="7.3" fill="#a6e3b0"/><circle cx="799.0" cy="1477.5" r="7.3" fill="#ffd700"/><circle cx="895.6" cy="1590.9" r="7.3" fill="#ffd700"/><circle cx="1077.3" cy="1486.2" r="7.3" fill="#7fdbda"/><circle cx="674.6" cy="1583.4" r="7.3" fill="#377eb8"/><circle cx="1064.7" cy="1493.7" r="7.3" fill="#f05050"/><circle cx="853.0" cy="1533.9" r="7.3" fill="#1e90ff"/><circle cx="912.1" cy="1512.7" r="7.3" fill="#ffd700"/><circle cx="1162.9" cy="1456.4" r="7.3" fill="#3cc07c"/><circle cx="668.1" cy="1571.2" r="7.3" fill="#faebd7"/><circle cx="1103.9" cy="1439.2" r="7.3" fill="#faebd7"/><circle cx="701.8" cy="1487.2" r="7.3" fill="#ffd700"/><circle cx="969.9" cy="1562.3" r="7.3" fill="#7fdbda"/><circle cx="1090.1" cy="1536.5" r="7.3" fill="#ffd700"/><circle cx="867.5" cy="1490.2" r="7.3" fill="#ffd700"/><circle cx="946.3" cy="1559.6" r="7.3" fill="#4daf4a"/><circle cx="958.7" cy="1539.4" r="7.3" fill="#4daf4a"/><circle cx="791.0" cy="1580.2" r="7.3" fill="#ffd700"/><circle cx="661.3" cy="1477.9" r="7.3" fill="#ffd700"/><circle cx="884.3" cy="1538.7" r="7.3" fill="#ffd700"/><circle cx="785.9" cy="1468.7" r="7.3" fill="#00008b"/><circle cx="1163.0" cy="1517.1" r="7.3" fill="#7a35d6"/><circle cx="923.4" cy="1460.1" r="7.3" fill="#f0962e"/><circle cx="975.1" cy="1573.3" r="7.3" fill="#984ea3"/><circle cx="1212.1" cy="1577.2" r="7.3" fill="#ffd700"/><circle cx="651.4" cy="1574.6" r="7.3" fill="#ff9ec4"/><circle cx="693.2" cy="1466.7" r="7.3" fill="#ffd700"/><circle cx="1125.7" cy="1475.6" r="7.3" fill="#0d9494"/><circle cx="1225.2" cy="1459.5" r="7.3" fill="#1e90ff"/><circle cx="1217.5" cy="1498.8" r="7.3" fill="#ffd700"/><circle cx="694.9" cy="1495.0" r="7.3" fill="#7fdbda"/><circle cx="780.7" cy="1454.1" r="7.3" fill="#ffd700"/><circle cx="1117.4" cy="1468.7" r="7.3" fill="#ffd700"/><circle cx="893.5" cy="1499.3" r="7.3" fill="#ffd700"/><circle cx="774.6" cy="1588.2" r="7.3" fill="#7fdbda"/><circle cx="1034.3" cy="1576.8" r="7.3" fill="#ffd700"/><circle cx="670.1" cy="1470.5" r="7.3" fill="#ffd700"/><circle cx="655.9" cy="1451.5" r="7.3" fill="#4daf4a"/><circle cx="1028.6" cy="1488.7" r="7.3" fill="#ffd700"/><circle cx="662.2" cy="1512.9" r="7.3" fill="#ffd700"/><circle cx="1195.0" cy="1567.3" r="7.3" fill="#ffd700"/><circle cx="1054.7" cy="1567.3" r="7.3" fill="#ffd700"/><circle cx="914.2" cy="1499.3" r="7.3" fill="#4daf4a"/><circle cx="1228.2" cy="1579.3" r="7.3" fill="#ffd700"/><circle cx="765.2" cy="1469.2" r="7.3" fill="#ffd700"/><circle cx="649.5" cy="1439.9" r="7.3" fill="#ffd700"/><circle cx="808.9" cy="1514.3" r="7.3" fill="#ffd700"/><circle cx="746.4" cy="1547.7" r="7.3" fill="#ffd700"/><circle cx="1068.8" cy="1555.2" r="7.3" fill="#ffd700"/><circle cx="1076.9" cy="1473.3" r="7.3" fill="#ffd700"/><circle cx="736.0" cy="1503.4" r="7.3" fill="#ffd700"/><circle cx="1171.9" cy="1487.9" r="7.3" fill="#ffd700"/><circle cx="733.6" cy="1569.0" r="7.3" fill="#1e90ff"/><circle cx="1213.9" cy="1491.2" r="7.3" fill="#ffd700"/><circle cx="928.2" cy="1518.7" r="7.3" fill="#ffd700"/><circle cx="1039.9" cy="1471.8" r="7.3" fill="#4daf4a"/><circle cx="802.0" cy="1554.0" r="7.3" fill="#ffd700"/><circle cx="1117.6" cy="1579.0" r="7.3" fill="#e41a1c"/><circle cx="1188.1" cy="1508.0" r="7.3" fill="#ffd700"/><circle cx="1217.7" cy="1463.3" r="7.3" fill="#ffd700"/><circle cx="1125.8" cy="1464.2" r="7.3" fill="#4daf4a"/><circle cx="1029.8" cy="1567.6" r="7.3" fill="#ffd700"/><circle cx="977.6" cy="1535.0" r="7.3" fill="#ffd700"/><circle cx="1052.5" cy="1449.7" r="7.3" fill="#ffd700"/><circle cx="877.3" cy="1549.8" r="7.3" fill="#984ea3"/><circle cx="844.1" cy="1517.2" r="7.3" fill="#3d9970"/><circle cx="641.2" cy="1436.8" r="7.3" fill="#40d0b8"/>
</g>
<rect x="101.0" y="1708.8" width="51.2" height="12.1" fill="#e41a1c"/>
<line x1="126.6" y1="1720.9" x2="126.6" y2="1731.1" stroke="#444" stroke-width="1.3"/>
<text transform="translate(134.8 1746.5) rotate(-60)" font-size="19" text-anchor="end" textLength="137.9" lengthAdjust="spacingAndGlyphs">(−)-Epicatechin</text>
<rect x="157.6" y="1698.4" width="51.2" height="22.5" fill="#377eb8"/>
<line x1="183.2" y1="1720.9" x2="183.2" y2="1731.1" stroke="#444" stroke-width="1.3"/>
<text transform="translate(191.4 1746.5) rotate(-60)" font-size="19" text-anchor="end" textLength="222.0" lengthAdjust="spacingAndGlyphs">(−)-Epicatechin 3-gallate</text>
<rect x="214.3" y="1689.7" width="51.2" height="31.2" fill="#4daf4a"/>
<line x1="239.9" y1="1720.9" x2="239.9" y2="1731.1" stroke="#444" stroke-width="1.3"/>
<text transform="translate(248.1 1746.5) rotate(-60)" font-size="19" text-anchor="end" textLength="181.1" lengthAdjust="spacingAndGlyphs">(−)-Epigallocatechin</text>
<rect x="270.9" y="1682.6" width="51.2" height="38.3" fill="#1e90ff"/>
<line x1="296.5" y1="1720.9" x2="296.5" y2="1731.1" stroke="#444" stroke-width="1.3"/>
<text transform="translate(304.7 1746.5) rotate(-60)" font-size="19" text-anchor="end" textLength="266.2" lengthAdjust="spacingAndGlyphs">(−)-Epigallocatechin-3-gallate</text>
<rect x="327.5" y="1711.5" width="51.2" height="9.4" fill="#984ea3"/>
<line x1="353.1" y1="1720.9" x2="353.1" y2="1731.1" stroke="#444" stroke-width="1.3"/>
<text transform="translate(361.3 1746.5) rotate(-60)" font-size="19" text-anchor="end" textLength="114.5" lengthAdjust="spacingAndGlyphs">(+)-Catechin</text>
<rect x="384.1" y="1715.9" width="51.2" height="5.0" fill="#f0962e"/>
<line x1="409.8" y1="1720.9" x2="409.8" y2="1731.1" stroke="#444" stroke-width="1.3"/>
<text transform="translate(417.9 1746.5) rotate(-60)" font-size="19" text-anchor="end" textLength="158.3" lengthAdjust="spacingAndGlyphs">(+)-Gallocatechin</text>
<rect x="440.8" y="1719.3" width="51.2" height="1.6" fill="#a65628"/>
<line x1="466.4" y1="1720.9" x2="466.4" y2="1731.1" stroke="#444" stroke-width="1.3"/>
<text transform="translate(474.6 1746.5) rotate(-60)" font-size="19" text-anchor="end" textLength="80.6" lengthAdjust="spacingAndGlyphs">Cyanidin</text>
<rect x="497.4" y="1720.0" width="51.2" height="0.9" fill="#f781bf"/>
<line x1="523.0" y1="1720.9" x2="523.0" y2="1731.1" stroke="#444" stroke-width="1.3"/>
<text transform="translate(531.2 1746.5) rotate(-60)" font-size="19" text-anchor="end" textLength="102.5" lengthAdjust="spacingAndGlyphs">Delphinidin</text>
<rect x="554.0" y="1719.1" width="51.2" height="1.8" fill="#999999"/>
<line x1="579.6" y1="1720.9" x2="579.6" y2="1731.1" stroke="#444" stroke-width="1.3"/>
<text transform="translate(587.8 1746.5) rotate(-60)" font-size="19" text-anchor="end" textLength="76.0" lengthAdjust="spacingAndGlyphs">Malvidin</text>
<rect x="610.7" y="1719.9" width="51.2" height="1.0" fill="#e8604c"/>
<line x1="636.3" y1="1720.9" x2="636.3" y2="1731.1" stroke="#444" stroke-width="1.3"/>
<text transform="translate(644.5 1746.5) rotate(-60)" font-size="19" text-anchor="end" textLength="115.1" lengthAdjust="spacingAndGlyphs">Pelargonidin</text>
<rect x="667.3" y="1720.0" width="51.2" height="0.9" fill="#7f6db3"/>
<line x1="692.9" y1="1720.9" x2="692.9" y2="1731.1" stroke="#444" stroke-width="1.3"/>
<text transform="translate(701.1 1746.5) rotate(-60)" font-size="19" text-anchor="end" textLength="80.6" lengthAdjust="spacingAndGlyphs">Peonidin</text>
<rect x="723.9" y="1720.0" width="51.2" height="0.9" fill="#7be02f"/>
<line x1="749.5" y1="1720.9" x2="749.5" y2="1731.1" stroke="#444" stroke-width="1.3"/>
<text transform="translate(757.7 1746.5) rotate(-60)" font-size="19" text-anchor="end" textLength="86.4" lengthAdjust="spacingAndGlyphs">Petunidin</text>
<rect x="780.6" y="1709.4" width="51.2" height="11.5" fill="#40d0b8"/>
<line x1="806.2" y1="1720.9" x2="806.2" y2="1731.1" stroke="#444" stroke-width="1.3"/>
<text transform="translate(814.4 1746.5) rotate(-60)" font-size="19" text-anchor="end" textLength="89.8" lengthAdjust="spacingAndGlyphs">Quercetin</text>
<rect x="837.2" y="1719.9" width="51.2" height="1.0" fill="#e4e4e4"/>
<line x1="862.8" y1="1720.9" x2="862.8" y2="1731.1" stroke="#444" stroke-width="1.3"/>
<text transform="translate(871.0 1746.5) rotate(-60)" font-size="19" text-anchor="end" textLength="82.9" lengthAdjust="spacingAndGlyphs">Myricetin</text>
<rect x="893.8" y="1720.0" width="51.2" height="0.9" fill="#a6e3b0"/>
<line x1="919.4" y1="1720.9" x2="919.4" y2="1731.1" stroke="#444" stroke-width="1.3"/>
<text transform="translate(927.6 1746.5) rotate(-60)" font-size="19" text-anchor="end" textLength="119.7" lengthAdjust="spacingAndGlyphs">Isorhamnetin</text>
<rect x="950.5" y="1714.6" width="51.2" height="6.3" fill="#f5a623"/>
<line x1="976.1" y1="1720.9" x2="976.1" y2="1731.1" stroke="#444" stroke-width="1.3"/>
<text transform="translate(984.3 1746.5) rotate(-60)" font-size="19" text-anchor="end" textLength="105.9" lengthAdjust="spacingAndGlyphs">Kaempferol</text>
<rect x="1007.1" y="1717.8" width="51.2" height="3.1" fill="#0d9494"/>
<line x1="1032.7" y1="1720.9" x2="1032.7" y2="1731.1" stroke="#444" stroke-width="1.3"/>
<text transform="translate(1040.9 1746.5) rotate(-60)" font-size="19" text-anchor="end" textLength="100.2" lengthAdjust="spacingAndGlyphs">Naringenin</text>
<rect x="1063.7" y="1720.0" width="51.2" height="0.9" fill="#dcc4d4"/>
<line x1="1089.3" y1="1720.9" x2="1089.3" y2="1731.1" stroke="#444" stroke-width="1.3"/>
<text transform="translate(1097.5 1746.5) rotate(-60)" font-size="19" text-anchor="end" textLength="95.5" lengthAdjust="spacingAndGlyphs">Eriodictyol</text>
<rect x="1120.3" y="1716.2" width="51.2" height="4.7" fill="#ff9ec4"/>
<line x1="1145.9" y1="1720.9" x2="1145.9" y2="1731.1" stroke="#444" stroke-width="1.3"/>
<text transform="translate(1154.1 1746.5) rotate(-60)" font-size="19" text-anchor="end" textLength="100.2" lengthAdjust="spacingAndGlyphs">Hesperetin</text>
<rect x="1177.0" y="1720.0" width="51.2" height="0.9" fill="#f4f4f4"/>
<line x1="1202.6" y1="1720.9" x2="1202.6" y2="1731.1" stroke="#444" stroke-width="1.3"/>
<text transform="translate(1210.8 1746.5) rotate(-60)" font-size="19" text-anchor="end" textLength="80.6" lengthAdjust="spacingAndGlyphs">Apigenin</text>
<rect x="1233.6" y="1720.0" width="51.2" height="0.9" fill="#bfe8e0"/>
<line x1="1259.2" y1="1720.9" x2="1259.2" y2="1731.1" stroke="#444" stroke-width="1.3"/>
<text transform="translate(1267.4 1746.5) rotate(-60)" font-size="19" text-anchor="end" textLength="72.5" lengthAdjust="spacingAndGlyphs">Luteolin</text>
<rect x="1290.2" y="1704.4" width="51.2" height="16.5" fill="#faebd7"/>
<line x1="1315.8" y1="1720.9" x2="1315.8" y2="1731.1" stroke="#444" stroke-width="1.3"/>
<text transform="translate(1324.0 1746.5) rotate(-60)" font-size="19" text-anchor="end" textLength="227.9" lengthAdjust="spacingAndGlyphs">Proanthocyanidin dimers</text>
<rect x="1346.9" y="1716.2" width="51.2" height="4.7" fill="#00008b"/>
<line x1="1372.5" y1="1720.9" x2="1372.5" y2="1731.1" stroke="#444" stroke-width="1.3"/>
<text transform="translate(1380.7 1746.5) rotate(-60)" font-size="19" text-anchor="end" textLength="229.1" lengthAdjust="spacingAndGlyphs">Proanthocyanidin trimers</text>
<rect x="1403.5" y="1710.1" width="51.2" height="10.8" fill="#b010d0"/>
<line x1="1429.1" y1="1720.9" x2="1429.1" y2="1731.1" stroke="#444" stroke-width="1.3"/>
<text transform="translate(1437.3 1746.5) rotate(-60)" font-size="19" text-anchor="end" textLength="241.8" lengthAdjust="spacingAndGlyphs">Proanthocyanidin 4-6-mers</text>
<rect x="1460.1" y="1714.2" width="51.2" height="6.7" fill="#3d9970"/>
<line x1="1485.7" y1="1720.9" x2="1485.7" y2="1731.1" stroke="#444" stroke-width="1.3"/>
<text transform="translate(1493.9 1746.5) rotate(-60)" font-size="19" text-anchor="end" textLength="253.0" lengthAdjust="spacingAndGlyphs">Proanthocyanidin 7-10-mers</text>
<rect x="1516.8" y="1703.9" width="51.2" height="17.0" fill="#7fdbda"/>
<line x1="1542.3" y1="1720.9" x2="1542.3" y2="1731.1" stroke="#444" stroke-width="1.3"/>
<text transform="translate(1550.5 1746.5) rotate(-60)" font-size="19" text-anchor="end" textLength="235.1" lengthAdjust="spacingAndGlyphs">Proanthocyanidin 10-mers</text>
<rect x="1573.4" y="1714.7" width="51.2" height="6.2" fill="#8b4513"/>
<line x1="1599.0" y1="1720.9" x2="1599.0" y2="1731.1" stroke="#444" stroke-width="1.3"/>
<text transform="translate(1607.2 1746.5) rotate(-60)" font-size="19" text-anchor="end" textLength="95.6" lengthAdjust="spacingAndGlyphs">Theaflavin</text>
<rect x="1630.0" y="1715.8" width="51.2" height="5.1" fill="#7a35d6"/>
<line x1="1655.6" y1="1720.9" x2="1655.6" y2="1731.1" stroke="#444" stroke-width="1.3"/>
<text transform="translate(1663.8 1746.5) rotate(-60)" font-size="19" text-anchor="end" textLength="181.9" lengthAdjust="spacingAndGlyphs">Theaflavin-3-gallate</text>
<rect x="1686.6" y="1714.2" width="51.2" height="6.7" fill="#f05050"/>
<line x1="1712.2" y1="1720.9" x2="1712.2" y2="1731.1" stroke="#444" stroke-width="1.3"/>
<text transform="translate(1720.4 1746.5) rotate(-60)" font-size="19" text-anchor="end" textLength="219.2" lengthAdjust="spacingAndGlyphs">Theaflavin-3,3′-digallate</text>
<rect x="1743.3" y="1714.7" width="51.2" height="6.2" fill="#3cc07c"/>
<line x1="1768.9" y1="1720.9" x2="1768.9" y2="1731.1" stroke="#444" stroke-width="1.3"/>
<text transform="translate(1777.1 1746.5) rotate(-60)" font-size="19" text-anchor="end" textLength="185.8" lengthAdjust="spacingAndGlyphs">Theaflavin-3′-gallate</text>
<rect x="1799.9" y="1422.2" width="51.1" height="298.7" fill="#ffd700"/>
<line x1="1825.5" y1="1720.9" x2="1825.5" y2="1731.1" stroke="#444" stroke-width="1.3"/>
<text transform="translate(1833.7 1746.5) rotate(-60)" font-size="19" text-anchor="end" textLength="119.7" lengthAdjust="spacingAndGlyphs">Thearubigins</text>
<text x="969.9" y="1994.8" font-size="22.2" text-anchor="middle" textLength="332.5" lengthAdjust="spacingAndGlyphs">Types of flavonoid compounds</text>
</g>
</svg>
</body></html>
